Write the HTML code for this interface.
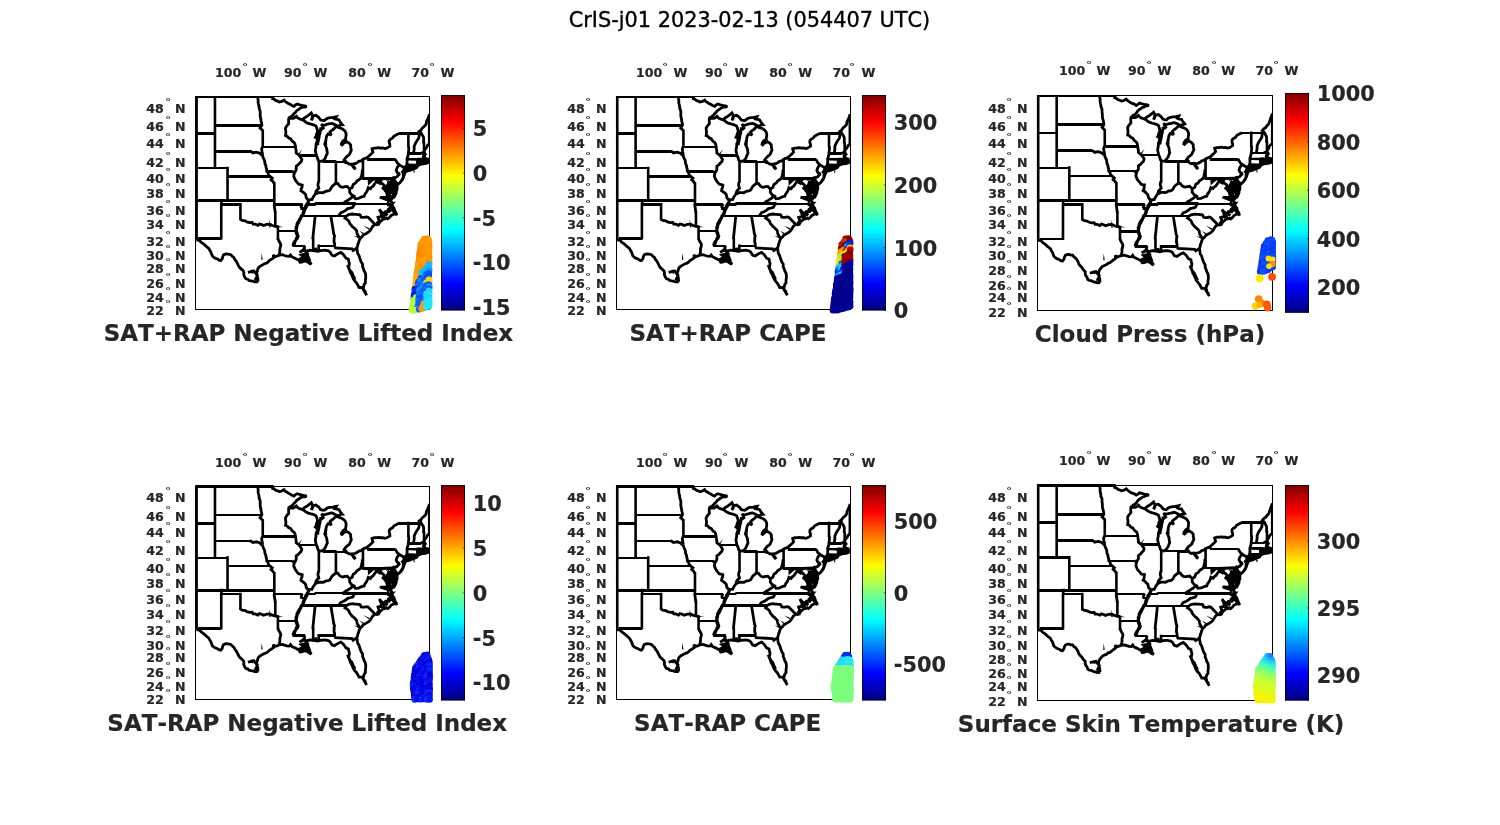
<!DOCTYPE html>
<html lang="en"><head><meta charset="utf-8"><title>CrIS-j01 2023-02-13 (054407 UTC)</title>
<style>
html,body{margin:0;padding:0;background:#fff;}
body{width:1500px;height:825px;overflow:hidden;}
svg{display:block;}
text{font-family:'DejaVu Sans','Liberation Sans',sans-serif;font-kerning:none;}
.b{font-weight:bold;fill:#262626;stroke:#262626;stroke-width:0.2;}
.tk{font-size:12.6px;}
.dg{font-size:10px;font-weight:bold;fill:#262626;}
.cb{font-size:20.83px;}
.xl{font-size:23px;}
.st{fill:none;stroke:#000;stroke-width:2.8;stroke-linejoin:miter;stroke-miterlimit:3;}
.h2{stroke-width:2;}
.h3{stroke-width:3;}
.sv{stroke-width:2.6;}
.nat{stroke-width:2.8;stroke-miterlimit:2.6;}
.sp{fill:none;stroke:#000;stroke-width:1;}
</style></head>
<body>
<svg width="1500" height="825" viewBox="0 0 1500 825">
<defs><linearGradient id="jet" x1="0" y1="1" x2="0" y2="0"><stop offset="0" stop-color="#000080"/><stop offset="0.125" stop-color="#0000ff"/><stop offset="0.375" stop-color="#00ffff"/><stop offset="0.625" stop-color="#ffff00"/><stop offset="0.875" stop-color="#ff0000"/><stop offset="1" stop-color="#800000"/></linearGradient></defs>
<rect width="1500" height="825" fill="#fff"/>
<text x="749.5" y="27" text-anchor="middle" font-size="20.83" fill="#000" stroke="#000" stroke-width="0.35">CrIS-j01 2023-02-13 (054407 UTC)</text>
<g id="panel1">
<rect class="sp" x="195.5" y="96.5" width="234" height="213"/>
<clipPath id="clip1"><rect x="194" y="95" width="236" height="215"/></clipPath>
<g clip-path="url(#clip1)"><path class="st h2" d="M196 97H273.7M196 168H227.74M277.32 231H296.17M292.48 246H305.23M300.84 216H346.93M317.83 246H334.98M355.06 204H392.41M262.16 147H295.86M335.31 162H344.73M392.68 189H397.57"/><path class="st h3" d="M196 133.5H215.16M214.36 125.5H262.27M214.36 151.5H250.06M226.94 176.5H270.13M196 200.5H274.47M198.19 238.5H221.38M220.96 204.5H240.63M273.67 204.5H302.59M300.4 208.5H305.42M305.88 204.5H315.8M315 203.5H343.28M342.48 203.5H355.86M266.44 171.5H292.65M298.7 155.5H317.37M322.73 161.5H336.11M362.36 178.5H392.91M367.14 159.5H395.68M398.97 133.5H419.89M408.02 153.5H421.15M406.58 159.5H418.01"/><path class="st sv" d="M196.6 96V239.6M214.96 96V169.04M227.54 166.64V201.43M221.56 199.03V205.35M221.25 202.95V239.61M240.43 202.95V220.35M277.92 225.62V239.61M274.27 199.03V205.35M275.31 211.5V227.34M313.17 237.95V251.74M318.74 244.59V252.25M274.33 182.25V201.43M262.76 129.54V147.79M318.87 160.77V182.62M335.91 160.77V184.65M362.96 158.41V179.6M392.99 177.2V189.82M408.37 132.13V147.36M417.62 158.07V166.36M424.03 142.13V153.87M429.2 114.1V144.5"/><path class="st nat" d="M249.66 150.91L251.36 151.7L252.81 152.88L254.67 152.37L256.58 152.11L259.73 153.31L261.62 155.02L262.56 155.28M221.36 204.15L221.11 204.15M196.4 240.04L199.16 240.04L198.59 238.41M240.23 219.15L242.12 220.37L245.26 220.9L246.83 221.89L249.66 222.65L252.18 222.5L253.12 224.17L255.33 224.17L257.84 225.31L259.41 223.94L261.62 224.55L263.5 225.53L266.65 224.4L269.79 224.17L272.31 225.53L274.95 226.14L277.72 226.82M277.72 238.41L279.04 241.37L280.07 242.95L280.8 244.69L280.45 246.73L279.86 248.72L279.91 250.55L279.73 252.36L278.91 255.27M199.16 240.04L201.23 242.33L203.22 243.63L205.01 245.2L206.84 246.84L208.78 248.35L209.6 250.07L210.67 251.64L211.48 253.8L212.24 255.99L213.66 257.06L215.07 258.16L217.41 258.96L219.47 260.32L220.73 260.46L222.3 258.52L222.7 256.63L223.56 254.9L225.76 254.03L228.31 254.15L230.79 254.76L232.26 256.32L233.94 257.65L234.79 259.51L236.14 261.04L237.27 263.17L238.34 265.33L239.45 267.36L241.17 268.9L243.38 271.03L243.89 272.77L243.69 274.57L244.57 276.79L245.89 278.79L247.7 279.18L249.13 280.48L250.92 280.89L252.88 281.15L254.7 281.94L256.43 281.92L258.16 281.87M258.16 281.87L257.64 280.01L257.84 278.09L256.91 275.7L256.58 273.15L257.32 271.06L257.84 268.9L258.84 267.25L260.36 266.05L262.87 264.62L264.54 263.76L266.35 263.2L267.91 262.11L269.24 260.56L271.05 259.6L273.57 257.8L273.25 254.9L274.82 256.71L276.92 256.13L278.91 255.27M274.07 204.15L275.27 212.7M302.19 204.15L300.8 208.05M278.91 255.27L280.62 254.87L282.37 254.76L284.56 255.5L286.78 256.13L289.29 256.35L290.55 254.9L291.81 256.71L293.38 257.45L294.95 258.16L297.47 259.6L300.61 259.6L302.5 259.24L303.76 258.16L305.32 259.25L306.9 260.32L308.48 260.32L306.9 257.44L305.65 255.27L307.53 253.82L306.9 252.73L305.02 252.36L305.96 251.78M304.83 245.79L304.07 248.35L305.96 251.78M305.96 251.78L307.53 250.91L310.05 250.18L313.19 250.54L315.08 250.91L315.71 247.99L316.34 250.18L317.28 251.27L318.86 251.05M314.45 215.86L315.08 216.55L312.75 239.15M330.81 215.78L333.45 231.93L333.78 234.12L334.58 236.18L334.09 237.88L334.15 239.64L333.95 241.37L334.57 243.54L334.58 245.79M334.58 245.79L335.46 247.99L352.13 248.94L353.14 250.47L356.91 247.91M318.86 250.91L320.74 250.54L322.94 250.33L325.14 250.18L328.29 250.91L330.18 252.22L331.04 253.79L332.06 255.27L334.58 255.99L336.43 254.66L338.35 253.45L340.87 252.36L343.39 254.54L344.7 256.31L345.9 258.16L348.42 259.24L348.72 261.25L349.36 263.19L349.13 265.38L348.42 267.47L349.68 270.32L350.3 272.45L351.53 274.5L352.51 276.68L353.36 278.92L354.71 280.89L356.6 282.99L357.46 284.49L358.28 286.01L359.11 287.52L361.63 287.52L363.51 287.17L364.14 284.39L365.4 282.99L365.34 280.53L365.72 278.09L365.72 275.27L365.3 273.01L364.14 271.03L363.48 268.85L362.57 266.76L362.57 264.26L361 261.75L360.43 259.93L359.74 258.16L359.13 255.84L357.85 253.82L357.45 252.01L357.22 250.18L356.91 247.91M356.91 247.91L357.55 246.16L357.85 244.32L358.64 242.53L359.11 240.63L360.37 238.12L361.86 237L362.88 235.44L364.72 234.23L366.66 233.2L368.72 231.92L370.43 230.2L371.69 227.95L372.95 226.06L375.15 224.47M346.53 215.78L344.96 218.08L346.4 219L347.79 219.99L349.04 221.53L349.68 223.41L350.99 224.88L352.19 226.44L354.08 227.95L355.36 229.24L356.6 230.58L356.88 232.27L357.22 233.95L358.24 235.58L359.11 237.3L360.37 238.12M346.53 215.78L348.61 214.66L350.93 214.24L352.66 214.02L354.36 214.35L356.07 214.37L357.77 214.63L359.49 214.63L360.18 215.01L361.12 217.16L362.86 217.43L364.61 217.46L366.37 216.93L368.11 217.31L375.15 224.47M375.15 224.47L376.89 224.83L378.61 224.4L379.87 221.89L381.47 220.59L383.01 219.22L384.96 218.86L386.79 218.08L387.86 218.84L389.72 217.3L391.19 215.39L394.15 214.01L394.52 211.15L393.49 208.88L392.76 206.5L392.01 203.76M338.86 215.78L339.75 214.17L340.87 212.7L342.48 212.13L344.01 211.39L345.95 210.06L347.79 208.6L349.99 208.05L352.82 207.27L353.86 205.17L355.46 203.45M315.4 204.15L315.4 202.74M289.92 117.6L288.73 118.43L288.57 120.22L288.64 122.02L288.73 123.81L287.46 125.08L286.37 126.47L285.52 128.05L285.55 129.84L285.85 131.62L285.83 133.42L285.52 135.64L287.36 136.4L288.68 138.01L290.55 138.73L291.5 140.17L292.57 141.51L294.09 142.47L294.95 143.98L295.46 146.59L295.76 148.74L296.15 150.88L296.21 153.05L297.65 154.14L299.1 155.19L300.52 157.29L301.87 159.44L301.24 161.55L299.36 163.49L297.96 165.04L296.21 166.17L296.21 169.5L295.48 171.36L294.32 172.98L293.69 176.11L294.64 178.57L295.48 180.12L296.43 181.59L297.56 182.94L298.73 184.26L300.5 184.5L302.19 185.07L302 187.25L301.18 188.89L300.93 190.7L302.65 191.85L304.28 193.12L305.65 194.69L306.27 197.86L308.48 200.23M308.48 200.23L308.02 202.32L306.9 204.15L305.6 205.93L305.02 208.05L303.74 210.24L303.13 212.7L302.5 214.78L301.24 215.78L300.59 217.84L299.36 219.61L298.46 221.1L297.55 222.58L296.84 224.17L296.78 225.91L295.91 227.51L296.13 229.3L295.58 230.95L296.23 232.82L296.84 234.69L297.47 236.18L296.38 238.01L295.64 240.04L294.32 241.74L293.41 243.7L292.88 245.79M308.48 200.23L310.15 199.63L311.94 199.68L313.19 197.07L314.28 195.47L315.4 193.89L317.03 193.37L318.54 192.54L320.9 192.54L323.26 192.7L324.79 191.81L326.4 191.1L328.23 190.95L329.86 190.14L331.01 188.32L332.06 186.44L333.85 184.9L335.71 183.45L337.73 183.45L339.61 185.88L341.06 186.85L342.76 187.25L344.94 186.72L347.16 186.44L348.38 187.73L349.68 188.94L352.19 187.49L352.75 185.85L353.45 184.26L355.02 183.45L356.28 182.07L356.91 181.01L358.87 179.82L360.68 178.4L361.5 175.53L362.07 173.21L362.26 170.83L362.76 170.83M262.56 155.28L262.95 157L263.6 158.64L264.48 160.21L264.76 161.97L265 163.92L265.89 165.67L266.04 167.51L266.67 169.29L266.65 171.16L267.99 172.62L268.39 174.65L269.73 176.11L272.31 178.16L271.05 179.79L272.87 181.41L274.2 183.45M257.65 96.5L257.88 98.4L258.19 100.29L258.08 102.23L258.47 104.11L259.01 106.29L259.17 108.57L260.04 110.67L260.24 112.82L260.12 114.99L260.36 117.14L260.86 119.08L261.03 121.08L261.61 123L261.87 124.98L261.02 126.55L260.04 128.05L261.44 129.27L262.56 130.74M262.56 146.59L261.62 149.18L261.95 151.21L262.38 153.22L262.56 155.28M292.25 171.16L294.2 172.98M318.67 181.42L318.14 183.22L317.91 185.07L318.86 188.29L317.33 189.8L316.02 191.5L315.4 193.89M335.71 161.47L335.71 161.97M367.54 157.15L367.54 159.44M395.28 159.44L396.25 161.11L397.17 162.81L399.37 164.83L397.96 166.43L396.85 168.25L396.22 170.33L397.37 172.58L399.05 174.46L396.85 176.93L394.96 177.75M399.37 164.83L404.4 167.84M349.68 188.94L349.68 192.3L351.56 194.85L353.64 195.96L352.18 197.21L350.64 198.36L349.05 199.44L347.57 200.52L345.82 201.18L344.48 202.48L342.88 203.37M353.64 195.96L355.34 198.65L358.48 198.33L360.32 197.5L362.16 196.7L364.14 196.28L364.94 194.12L366.34 192.3L367.51 190.11L368.23 187.73L370.43 188.7L371.54 187.15L373.14 186.12L374.25 184.43L375.5 182.83L376.41 181.01L377.96 182.23L379.68 183.21L380.37 181.67M369.3 178.4L369.13 180.52L369.24 182.64L371.69 180.44L373.83 178.98L375.78 179.38L377.35 178.73L379.55 179.38L380.37 181.67L381.75 183.45L383.29 184.53L384.59 185.88L383.01 188.29L384.9 189.9L387 191.29L389.3 192.3M391.19 201.01L389.3 200.23L388.92 198.25L389.3 196.28L389.23 194.29L389.3 192.3L388.67 189.9L388.74 187.44L388.04 185.07L388.67 181.83L391.19 179.79L390.56 181.01L389.85 183.02L389.3 185.07L389.7 187.47L389.93 189.9L390.86 191.51L391.82 193.1L391.97 195.22L391.84 197.34L391.5 199.44L392.69 197.51L393.71 195.48L394.61 193.87L395.59 192.3L396.61 190.6L397.17 188.7L396.98 185.88L396.22 183.73L394.96 181.83L394.02 179.38L394.96 177.75M392.01 203.76L391.19 201.01M394.96 177.75L393.71 177.42L392.51 178.4M394.02 179.38L394.96 181.01L396.4 182.77L398.11 184.26L399.84 182.79L401.25 181.01L402.14 179.35L403.14 177.75L403.27 175.26L403.77 172.82L402.51 171.99L403.77 170.33L404.4 167.84M403.77 171.16L405.99 171.3L408.17 170.91L409.93 170.52L411.51 169.65L413.2 169.09L415.26 168.18L417.29 167.25L414.46 166.59L412.58 168L410.68 167.92L408.8 168.25L406.99 168.32L405.34 169.09L403.77 171.16M404.4 167.84L405.91 167.84L408.1 167.28L410.06 166.17L411.94 165.8L413.83 165.58L415.53 165.33L417.23 165.16L419.5 164.75L420.12 161.97L421.38 163.65L421.89 163.65L424.53 161.97L424.84 163.23L426.88 162.7L428.93 162.22M428.93 159.86L425.78 161.13L425.16 159.44L423.27 156.89L423.9 154.34L425.16 153.91L423.9 152.02L424.53 150.22L425.55 148.77L426.66 147.38L427.36 145.72L428.93 144.42M405.91 167.84L407.04 166.17L406.6 165.33L406.97 163.24L407.1 161.14L406.98 159.02L407.56 157.05L408.14 155.09L408.42 153.05L408.55 151.33L408.71 149.61L408.79 147.88L408.49 146.16M399.37 133.42L397.45 134.24L395.59 135.19L393.79 136.24L392.63 138.05L390.75 139.02L389.3 140.48L389.16 142.41L389.81 144.26L389.93 146.16L388.36 147.18L386.74 148.11L384.9 148.58L382.84 148L380.7 148.03L378.61 147.72L376.41 148.01L374.16 148.04L372.01 148.67L372.38 150.46L372.95 152.2L371.66 153.5L370.28 154.72L368.99 156.01L367.54 157.15L366.02 158.11L364.27 158.64L362.76 159.61L361.08 160.94L358.89 161.34L357.19 162.64L355.34 163.65L353.25 164L351.16 164.18L349.05 164.07L347.62 162.99L345.84 162.62L344.33 161.72M419.5 133.33L419.14 135.58L418.87 137.84L417.99 139.35L417.01 140.8L416.04 142.24L415.01 144.38L414.15 146.59L414.25 148.84L413.88 151.03L413.46 153.22M420.75 153.48L423.9 152.02M417.61 159.27L420.25 159.27L420.25 160.28L421.89 163.65M423.67 143.33L423.59 141.11L423.72 138.88L423.33 136.67L421.95 134.53L420.67 132.33L419.33 131.33L421.03 130.03L422.15 128.15L423.81 126.81L425.33 125.33L426.25 123.65L426.36 121.66L427.33 120L428.29 117.88L429 115.67M273.33 96.67L272.67 98.67L274.45 99.47L276 100.67L277.74 101.15L279.33 102L281.81 101.33L284 100L285.09 101.44L286.67 102.33L288.26 103.46L290 104.33L291.91 105.51L294 106.33L295.47 104.88L297.33 104L299.63 104.78L302 105.33L304.34 105.81L306.67 106.33L305.09 107.13L303.27 107.11L301.56 107.47L300 108.33L298.39 109.59L296.67 110.67L295.49 112.35L293.91 113.7L292.67 115.33L290.64 116.9L288.33 118M288.33 118L290.82 118.35L293.33 118.33L294.92 117.47L296.33 116.33L297.46 117.74L299 118.67L302 119.8L303.76 120.42L305.14 121.66L306.67 122.67L308.38 123.43L310.17 123.96L312 124.33L314.04 125.06L316 126L316.75 127.97L317.33 130L317.67 133.33L316.71 135.46L315.33 137.33L317.33 138.67L317 142L316.67 145M326 145L325.33 142L325.84 140.01L326.18 137.99L326.67 136L328 134L329.78 134.37L331.33 135.33L330.56 133.71L330 132L331.53 130.5L333.33 129.33L334.87 127.69L336.67 126.33L338.22 127.39L340 128L342.09 128.82L344 130L345.21 131.54L346 133.33L346.11 135.35L345.75 137.33L345.67 139.33L344.02 140.11L342.67 141.33L342 143.33L344.45 142.83L346.67 141.67L349.33 143.33L350.67 145L350.75 147.53L351.33 150L350.33 152.33L349.33 154.67L347.6 155.92L346 157.33L344 160L346.67 162M302 119.67L303.55 118.66L305.04 117.55L306.67 116.67L309.33 114.67L311.33 113L312.67 115.67L312.06 118.02L311.33 120.33L312.5 118.3L313 116L316 115.33L318.67 117.33L320.67 120L324 120.67L325.69 119.53L327.33 118.33L329.07 117.78L330.86 117.62L332.67 117.67L334.46 117.02L336.33 116.67L335 119L337.03 119.38L339 120L340.67 122.67L342.33 124.67L340.58 124.77L339.08 125.87L337.33 126L335.59 125.04L333.82 124.13L332 123.33L330.19 123.51L328.44 123.96L326.67 124.33L324.72 125.04L322.67 125.33L321.33 124L322.48 125.93L323.33 128L321.61 129.26L320 130.67L318.67 133.33L317.84 134.93L317.33 136.67M320.67 127.33L320.73 129.36L320.23 131.33L320 133.33L319.33 135.28L319.13 137.34L318.67 139.33L318.24 141.21L317.86 143.09L317.67 145M317.33 140L317.06 141.82L316.18 143.49L316 145.33L315.97 147.14L315.49 148.88L315.33 150.67L315.84 153L316.33 155.33L317.41 157.58L318 160L320 161.67M326 140L325.68 142.11L324.67 144L325.79 146.28L326.67 148.67L327.06 150.99L327.33 153.33L326.19 155.61L325.33 158L323.33 160.67L321.64 161.08L320 161.67M350.67 163.67L351.86 165.06L352.99 166.5L353.99 168.06L355.33 169.33L354.41 167.45L352.85 166.03L351.67 164.33M384.67 190L386.27 191.82L387.33 194L388.84 192.84L390 191.33L391.33 193.33L392.67 195.33L394.17 194.43L395.45 193.25L396.67 192L395.75 193.76L395.02 195.62L394 197.33L392 197.03L390 196.67L388.05 197.31L386 197.33L384 197.51L382 197.37L380 197.33L382.01 197.98L383.99 198.68L386 199.33L387.73 199.92L389.57 199.64L391.33 200L389.83 200.91L388.86 202.45L387.33 203.33L389.11 203L390.89 203.39L392.67 203.33L391.04 205.14L390 207.33L391.96 207.89L394 208L394.49 209.9L395.26 211.69L396.27 213.4L396.67 215.33L395.53 213.41L393.77 211.95L392.67 210L390.87 209.97L389.14 209.31L387.33 209.33L388.86 210.47L390 212L388.27 211.39L386.42 211.78L384.67 211.33L386.02 213.32L387.33 215.33L385.64 214.27L383.78 213.55L382 212.67L382.61 214.58L383.63 216.3L384.67 218L379.33 209.33L380.11 211.13L381.04 212.87L381.37 214.82L382 216.67L379.97 216.8L378 217.33L378.55 219.05L379.33 220.67L378.15 222.15L376.67 223.33M299.33 252.33L301.1 251.49L302.67 250.33L304.77 250.7L306.67 251.67L305.33 254.33L303.3 254.46L301.33 255L304 257L306 256.68L308 256.33L308.69 257.99L309.33 259.67L307.33 259.77L305.33 259.67L303.41 258.76L301.33 258.33L298.67 259.67L300 262.33L301.85 262.16L303.57 261.52L305.33 261L306.95 261.63L308.42 262.5L309.75 263.66L311.33 264.33L310.38 262.9L309.33 261.52L309.16 259.65L308 258.33M362 287.33L366.67 295.33L365.65 293.47L365.14 291.36L363.63 289.72L363 287.67M248 272.33L250.01 271.91L251.95 271.24L254 271L254.96 272.46L256.13 273.74L257.33 275L256.65 277.06L255.67 279L257.28 279.84L258.67 281M347.33 265L348.46 266.94L349.33 269L350.25 270.9L351.78 272.42L352.67 274.33L353.27 276.14L354.35 277.76L354.67 279.67M309.23 200.23L308.38 202.16L307.66 204.15L306.87 206.18L305.77 208.05L304.6 210.28L303.88 212.7L303.26 214.78L302 215.78L301.05 217.69L300.11 219.61L299.31 221.15L298.65 222.77L297.59 224.17L297.12 225.84L296.87 227.54L296.42 229.21L296.34 230.95L297.13 232.77L297.59 234.69L298.22 236.18L297.48 238.21L296 239.82L295.08 241.74L294.52 243.82L293.63 245.79"/><path fill="#000" d="M383.57 189.05L384.46 186.46L386.24 184.43L388.19 182.43L390.19 180.4L391.76 177.98L394.43 178.4L395.7 180.4L397.31 182.81L397.65 184.21L396.59 186.63L396.21 190.66L395.15 193.88L393.92 196.72L392.14 198.55L391.42 201.13L392.48 206.18L386.96 206.18L387.51 201.94L385.9 199.14L384.46 197.53L385.9 195.49L385.52 193.08L383.95 190.28ZM376.36 177.51L392.05 176.88L386.96 181.12L382.3 180.69L378.48 182.6L376.36 180.91ZM395.45 172L399.69 172L400.53 174.54L397.14 177.94L395.02 176.66L397.57 174.54ZM400.96 172L406.9 172L405.2 176.24L403.5 180.48L400.53 183.45L399.26 181.75L402.23 178.36L402.65 174.54ZM407.81 158.24L429 158.02L429 163.75L426.47 164.81L419.69 165.87L417.99 167.99L413.75 169.69L409.08 170.75L404.42 172.65L402.51 171.81L402.72 169.26L404.21 165.87L406.96 163.75ZM413.11 170.53L414.81 170.53L414.17 173.5ZM423.5 151.87L426.47 153.99L425.62 156.96L429 158.02L422.23 158.24L423.93 156.12ZM340.33 142.33L342.33 141L344.33 142.33L344 145L342 146.67L340 145ZM315.33 132.67L319 130L320.67 132.67L319.33 138L316.33 138.67L314.67 136.67ZM379.33 208.33L383.87 212.17L382.79 213.16ZM377.33 216.33L379.7 221.1L378.3 221.57ZM363.33 225.67L369.69 228.36L368.98 229.64ZM359.33 230.67L363.77 233.08L362.89 234.25ZM353.67 235.87L358.89 236.77L358.44 238.17ZM396.67 215.67L392.72 211.07L393.94 210.26ZM379 197L386.17 197.95L385.83 199.38ZM261.67 253L262.73 259.63L261.27 259.7ZM246.67 271.67L253.48 272.28L253.19 273.72ZM269 219.33L270.73 227.24L269.27 227.42ZM283.33 227.33L276.56 227.06L276.78 225.61ZM302.33 149.33L299.27 155.08L298.06 154.25ZM311.33 264.33L307.35 260.13L308.65 259.2ZM378.48 197.45L383.99 196.6L383.99 198.29Z"/><path fill="#fff" d="M382.3 180.27L386.96 180.06L384.42 182.6ZM408.45 160.44L416.08 160.7L416.08 163.75L408.45 163.58ZM389.08 180.27L389.93 180.27L389.93 181.12L389.08 181.12ZM391.2 194.05L392.05 194.05L392.05 194.9L391.2 194.9ZM389.08 201.9L389.93 201.9L389.93 202.75L389.08 202.75Z"/></g>
<g><circle cx="424.4" cy="239.1" r="3.3" fill="#ff9400"/><circle cx="427.5" cy="238.5" r="3.3" fill="#ff9000"/><circle cx="422.7" cy="241.6" r="3.3" fill="#ff9a00"/><circle cx="425.2" cy="240.7" r="3.3" fill="#ff9a00"/><circle cx="428.3" cy="239.6" r="3.3" fill="#ff9400"/><circle cx="420.7" cy="244.5" r="3.3" fill="#ff9400"/><circle cx="423.8" cy="243.3" r="3.3" fill="#ffa200"/><circle cx="426.2" cy="242.3" r="3.3" fill="#ff9400"/><circle cx="428.9" cy="241.2" r="3.3" fill="#ffa200"/><circle cx="420.8" cy="247.1" r="3.3" fill="#ff9400"/><circle cx="423.6" cy="245.8" r="3.3" fill="#ff9400"/><circle cx="425.9" cy="244.4" r="3.3" fill="#ff9a00"/><circle cx="428.8" cy="243.1" r="3.3" fill="#ff9a00"/><circle cx="420.5" cy="249" r="3.3" fill="#ff9000"/><circle cx="423.3" cy="248.2" r="3.3" fill="#ff8c00"/><circle cx="425.8" cy="246.7" r="3.3" fill="#ff9a00"/><circle cx="429.1" cy="245.6" r="3.3" fill="#ff9a00"/><circle cx="420" cy="251.5" r="3.3" fill="#ff8c00"/><circle cx="423" cy="250" r="3.3" fill="#ff8c00"/><circle cx="426.3" cy="248.8" r="3.3" fill="#ff9a00"/><circle cx="429.2" cy="247.8" r="3.3" fill="#ff9000"/><circle cx="419.5" cy="253.9" r="3.3" fill="#ff8c00"/><circle cx="422.1" cy="252.7" r="3.3" fill="#ff8c00"/><circle cx="424.6" cy="251.6" r="3.3" fill="#ff9a00"/><circle cx="426.8" cy="250.9" r="3.3" fill="#ff9400"/><circle cx="428.7" cy="249.6" r="3.3" fill="#ff9a00"/><circle cx="419.5" cy="256.1" r="3.3" fill="#ff8400"/><circle cx="422" cy="254.9" r="3.3" fill="#ff8400"/><circle cx="424.3" cy="254" r="3.3" fill="#ff9a00"/><circle cx="426.5" cy="252.9" r="3.3" fill="#ff9a00"/><circle cx="429" cy="252.1" r="3.3" fill="#ff9a00"/><circle cx="419.2" cy="258" r="3.3" fill="#ff8c00"/><circle cx="421.7" cy="256.9" r="3.3" fill="#ff8400"/><circle cx="424.1" cy="256.2" r="3.3" fill="#ff9000"/><circle cx="426.8" cy="254.8" r="3.3" fill="#ff9000"/><circle cx="428.8" cy="254.2" r="3.3" fill="#ff9a00"/><circle cx="419" cy="260.7" r="3.3" fill="#ff9400"/><circle cx="421.1" cy="259.2" r="3.3" fill="#ff9a00"/><circle cx="423.6" cy="258" r="3.3" fill="#ff9000"/><circle cx="426.2" cy="257.2" r="3.3" fill="#ff9000"/><circle cx="428.9" cy="256.1" r="3.3" fill="#ff9400"/><circle cx="418.5" cy="262.9" r="3.3" fill="#ff9000"/><circle cx="420.9" cy="261.4" r="3.3" fill="#ff9000"/><circle cx="423.5" cy="260.8" r="3.3" fill="#ffa200"/><circle cx="426.6" cy="259.3" r="3.3" fill="#ffa200"/><circle cx="429.2" cy="258.1" r="3.3" fill="#ff9400"/><circle cx="418.4" cy="264.9" r="3.3" fill="#ffa200"/><circle cx="420.6" cy="264" r="3.3" fill="#ff9a00"/><circle cx="423.8" cy="263" r="3.3" fill="#ff9a00"/><circle cx="426.2" cy="261.5" r="3.3" fill="#ff9a00"/><circle cx="428.8" cy="260.5" r="3.3" fill="#ff9a00"/><circle cx="418" cy="267.4" r="3.3" fill="#ffa200"/><circle cx="420.5" cy="266.3" r="3.3" fill="#ff9a00"/><circle cx="423.6" cy="264.7" r="3.3" fill="#ff9a00"/><circle cx="425.9" cy="263.8" r="3.3" fill="#ffa200"/><circle cx="429.2" cy="262.6" r="3.3" fill="#ff9400"/><circle cx="417.8" cy="269.2" r="3.3" fill="#ff9a00"/><circle cx="420.5" cy="268.3" r="3.3" fill="#ff9400"/><circle cx="423.2" cy="267.2" r="3.3" fill="#ff9400"/><circle cx="426" cy="265.7" r="3.3" fill="#ff9a00"/><circle cx="429" cy="264.6" r="3.3" fill="#14bcff"/><circle cx="417.3" cy="271.5" r="3.3" fill="#ff9a00"/><circle cx="419.8" cy="270.8" r="3.3" fill="#ffa200"/><circle cx="421.7" cy="269.6" r="3.3" fill="#ff9a00"/><circle cx="424.1" cy="268.7" r="3.3" fill="#ff9000"/><circle cx="426.6" cy="267.7" r="3.3" fill="#1fb4ff"/><circle cx="428.7" cy="267.1" r="3.3" fill="#14bcff"/><circle cx="416.7" cy="273.8" r="3.3" fill="#ff9a00"/><circle cx="419.5" cy="272.9" r="3.3" fill="#ff9a00"/><circle cx="421.8" cy="272.2" r="3.3" fill="#00c8ff"/><circle cx="424" cy="271.2" r="3.3" fill="#00c8ff"/><circle cx="426.4" cy="270.3" r="3.3" fill="#14bcff"/><circle cx="429.1" cy="269.1" r="3.3" fill="#14bcff"/><circle cx="416.9" cy="276" r="3.3" fill="#ffb400"/><circle cx="419.4" cy="275.1" r="3.3" fill="#ff9a00"/><circle cx="421.8" cy="274.5" r="3.3" fill="#00c8ff"/><circle cx="423.8" cy="272.9" r="3.3" fill="#1fb4ff"/><circle cx="426.6" cy="272" r="3.3" fill="#1fb4ff"/><circle cx="429.1" cy="271.1" r="3.3" fill="#1e8cff"/><circle cx="416.2" cy="278.1" r="3.3" fill="#ff9a00"/><circle cx="419.1" cy="277.5" r="3.3" fill="#ffa800"/><circle cx="421.5" cy="276.4" r="3.3" fill="#1fb4ff"/><circle cx="424.1" cy="275.1" r="3.3" fill="#00c8ff"/><circle cx="426.4" cy="274.5" r="3.3" fill="#0a5cff"/><circle cx="428.8" cy="273.6" r="3.3" fill="#0a5cff"/><circle cx="416.1" cy="280.4" r="3.3" fill="#ffb400"/><circle cx="418.9" cy="279.7" r="3.3" fill="#ff9a00"/><circle cx="421" cy="278.4" r="3.3" fill="#0a48ff"/><circle cx="423.9" cy="277.7" r="3.3" fill="#1478ff"/><circle cx="426.7" cy="276.7" r="3.3" fill="#0a5cff"/><circle cx="428.8" cy="275.7" r="3.3" fill="#0a48ff"/><circle cx="415.6" cy="282.9" r="3.3" fill="#ffb800"/><circle cx="418.4" cy="282" r="3.3" fill="#0a5cff"/><circle cx="420.9" cy="280.8" r="3.3" fill="#1e8cff"/><circle cx="423.8" cy="280" r="3.3" fill="#0a5cff"/><circle cx="426.6" cy="278.8" r="3.3" fill="#0a48ff"/><circle cx="428.7" cy="277.8" r="3.3" fill="#0a5cff"/><circle cx="415.8" cy="284.8" r="3.3" fill="#ffb800"/><circle cx="418.1" cy="283.8" r="3.3" fill="#0a48ff"/><circle cx="420.7" cy="282.9" r="3.3" fill="#1e8cff"/><circle cx="423.4" cy="281.7" r="3.3" fill="#0a48ff"/><circle cx="426.1" cy="281" r="3.3" fill="#1478ff"/><circle cx="429.1" cy="279.8" r="3.3" fill="#ffd800"/><circle cx="414.9" cy="287.4" r="3.3" fill="#ffb800"/><circle cx="417.9" cy="286" r="3.3" fill="#1478ff"/><circle cx="420.6" cy="284.9" r="3.3" fill="#0a5cff"/><circle cx="423.2" cy="284.2" r="3.3" fill="#1478ff"/><circle cx="426.4" cy="283.1" r="3.3" fill="#ffd800"/><circle cx="429.2" cy="282.2" r="3.3" fill="#ffd800"/><circle cx="414.9" cy="289.3" r="3.3" fill="#0010d8"/><circle cx="417.9" cy="288.5" r="3.3" fill="#0a30f0"/><circle cx="420.5" cy="287.3" r="3.3" fill="#0a5cff"/><circle cx="423.2" cy="286.4" r="3.3" fill="#1478ff"/><circle cx="426.2" cy="285.2" r="3.3" fill="#1478ff"/><circle cx="428.7" cy="284.5" r="3.3" fill="#0a5cff"/><circle cx="414.8" cy="291.4" r="3.3" fill="#0a30f0"/><circle cx="416.9" cy="290.5" r="3.3" fill="#0a30f0"/><circle cx="419.4" cy="290" r="3.3" fill="#1e8cff"/><circle cx="421.9" cy="289.1" r="3.3" fill="#1e8cff"/><circle cx="424.3" cy="288.2" r="3.3" fill="#1478ff"/><circle cx="426.5" cy="287.2" r="3.3" fill="#0a5cff"/><circle cx="429.3" cy="286.6" r="3.3" fill="#1e8cff"/><circle cx="414.5" cy="294" r="3.3" fill="#0a30f0"/><circle cx="416.8" cy="293.2" r="3.3" fill="#0a30f0"/><circle cx="419.2" cy="292.3" r="3.3" fill="#1e8cff"/><circle cx="421.7" cy="291.5" r="3.3" fill="#1478ff"/><circle cx="424.1" cy="290.5" r="3.3" fill="#0a5cff"/><circle cx="426.4" cy="289.4" r="3.3" fill="#1478ff"/><circle cx="429.1" cy="289" r="3.3" fill="#0a50ff"/><circle cx="414" cy="295.9" r="3.3" fill="#0818e0"/><circle cx="416.3" cy="295.1" r="3.3" fill="#0010d8"/><circle cx="418.9" cy="294.6" r="3.3" fill="#1478ff"/><circle cx="421.7" cy="293.5" r="3.3" fill="#0a50ff"/><circle cx="424.2" cy="292.8" r="3.3" fill="#1060ff"/><circle cx="426.2" cy="291.8" r="3.3" fill="#0a50ff"/><circle cx="428.9" cy="290.7" r="3.3" fill="#28d0ff"/><circle cx="413.9" cy="298.4" r="3.3" fill="#0a30f0"/><circle cx="416.3" cy="297.4" r="3.3" fill="#b4ff3c"/><circle cx="418.8" cy="296.4" r="3.3" fill="#1060ff"/><circle cx="421.2" cy="295.4" r="3.3" fill="#1478ff"/><circle cx="424.1" cy="295" r="3.3" fill="#1060ff"/><circle cx="426.5" cy="293.9" r="3.3" fill="#1ee6ff"/><circle cx="429.2" cy="293.4" r="3.3" fill="#28d0ff"/><circle cx="413.3" cy="300.4" r="3.3" fill="#a8ff48"/><circle cx="415.9" cy="299.6" r="3.3" fill="#b4ff3c"/><circle cx="418.6" cy="298.8" r="3.3" fill="#0a50ff"/><circle cx="420.9" cy="298" r="3.3" fill="#0a50ff"/><circle cx="423.8" cy="297" r="3.3" fill="#0a50ff"/><circle cx="426.1" cy="296" r="3.3" fill="#28d0ff"/><circle cx="428.9" cy="295.4" r="3.3" fill="#1ee6ff"/><circle cx="413.3" cy="302.6" r="3.3" fill="#b4ff3c"/><circle cx="415.9" cy="301.7" r="3.3" fill="#a8ff48"/><circle cx="418.3" cy="300.8" r="3.3" fill="#1478ff"/><circle cx="420.9" cy="300.3" r="3.3" fill="#0a50ff"/><circle cx="423.6" cy="299.3" r="3.3" fill="#1060ff"/><circle cx="426.3" cy="298.6" r="3.3" fill="#28d0ff"/><circle cx="428.9" cy="297.6" r="3.3" fill="#28d0ff"/><circle cx="412.9" cy="304.9" r="3.3" fill="#a8ff48"/><circle cx="415.2" cy="303.9" r="3.3" fill="#b4ff3c"/><circle cx="418.4" cy="303.4" r="3.3" fill="#1060ff"/><circle cx="420.7" cy="302" r="3.3" fill="#1060ff"/><circle cx="423.4" cy="301.7" r="3.3" fill="#1060ff"/><circle cx="426.5" cy="300.8" r="3.3" fill="#28d0ff"/><circle cx="429.2" cy="300" r="3.3" fill="#1ee6ff"/><circle cx="412.7" cy="307.2" r="3.3" fill="#a8ff48"/><circle cx="415.3" cy="306.3" r="3.3" fill="#b4ff3c"/><circle cx="418.2" cy="305.5" r="3.3" fill="#1060ff"/><circle cx="420.6" cy="304.4" r="3.3" fill="#1060ff"/><circle cx="423.8" cy="303.5" r="3.3" fill="#ff9a00"/><circle cx="426.3" cy="303.1" r="3.3" fill="#1ee6ff"/><circle cx="428.9" cy="301.8" r="3.3" fill="#1ee6ff"/><circle cx="412.1" cy="309.2" r="3.3" fill="#b4ff3c"/><circle cx="415.1" cy="308.2" r="3.3" fill="#a8ff48"/><circle cx="417.6" cy="307.5" r="3.3" fill="#1060ff"/><circle cx="420.4" cy="306.6" r="3.3" fill="#1060ff"/><circle cx="423.2" cy="305.9" r="3.3" fill="#ff9a00"/><circle cx="426.3" cy="304.9" r="3.3" fill="#1ee6ff"/><circle cx="429.3" cy="304.1" r="3.3" fill="#1ee6ff"/><circle cx="412.1" cy="310.3" r="3.3" fill="#b4ff3c"/><circle cx="414.4" cy="310.3" r="3.3" fill="#b4ff3c"/><circle cx="417.1" cy="309.7" r="3.3" fill="#b4ff3c"/><circle cx="419.2" cy="309.2" r="3.3" fill="#1060ff"/><circle cx="421.6" cy="308.7" r="3.3" fill="#ff9a00"/><circle cx="424.1" cy="308" r="3.3" fill="#ff9a00"/><circle cx="426.3" cy="307.1" r="3.3" fill="#1ee6ff"/><circle cx="428.9" cy="306.2" r="3.3" fill="#1ee6ff"/></g>
<text class="b tk" y="76.7"><tspan x="214.9">100</tspan><tspan x="252.5">W</tspan></text><text class="dg" transform="translate(241.93 69.7) scale(1.23 0.89)">°</text>
<text class="b tk" y="76.7"><tspan x="284.1">90</tspan><tspan x="313.4">W</tspan></text><text class="dg" transform="translate(301.93 69.7) scale(1.23 0.89)">°</text>
<text class="b tk" y="76.7"><tspan x="348.3">80</tspan><tspan x="377.3">W</tspan></text><text class="dg" transform="translate(366.93 69.7) scale(1.23 0.89)">°</text>
<text class="b tk" y="76.7"><tspan x="411.4">70</tspan><tspan x="440.6">W</tspan></text><text class="dg" transform="translate(428.93 69.7) scale(1.23 0.89)">°</text>
<text class="b tk" y="112.9"><tspan x="146.2">48</tspan><tspan x="174.9">N</tspan></text><text class="dg" transform="translate(164.93 104.9) scale(1.23 0.89)">°</text>
<text class="b tk" y="130.9"><tspan x="146.2">46</tspan><tspan x="174.9">N</tspan></text><text class="dg" transform="translate(164.93 122.9) scale(1.23 0.89)">°</text>
<text class="b tk" y="147.7"><tspan x="146.2">44</tspan><tspan x="174.9">N</tspan></text><text class="dg" transform="translate(164.93 139.7) scale(1.23 0.89)">°</text>
<text class="b tk" y="166.8"><tspan x="146.2">42</tspan><tspan x="174.9">N</tspan></text><text class="dg" transform="translate(164.93 158.8) scale(1.23 0.89)">°</text>
<text class="b tk" y="182.8"><tspan x="146.2">40</tspan><tspan x="174.9">N</tspan></text><text class="dg" transform="translate(164.93 174.8) scale(1.23 0.89)">°</text>
<text class="b tk" y="197.9"><tspan x="146.2">38</tspan><tspan x="174.9">N</tspan></text><text class="dg" transform="translate(164.93 189.9) scale(1.23 0.89)">°</text>
<text class="b tk" y="214.7"><tspan x="146.2">36</tspan><tspan x="174.9">N</tspan></text><text class="dg" transform="translate(164.93 206.7) scale(1.23 0.89)">°</text>
<text class="b tk" y="228.8"><tspan x="146.2">34</tspan><tspan x="174.9">N</tspan></text><text class="dg" transform="translate(164.93 220.8) scale(1.23 0.89)">°</text>
<text class="b tk" y="245.9"><tspan x="146.2">32</tspan><tspan x="174.9">N</tspan></text><text class="dg" transform="translate(164.93 237.9) scale(1.23 0.89)">°</text>
<text class="b tk" y="259.9"><tspan x="146.2">30</tspan><tspan x="174.9">N</tspan></text><text class="dg" transform="translate(164.93 251.9) scale(1.23 0.89)">°</text>
<text class="b tk" y="272.9"><tspan x="146.2">28</tspan><tspan x="174.9">N</tspan></text><text class="dg" transform="translate(164.93 264.9) scale(1.23 0.89)">°</text>
<text class="b tk" y="287.9"><tspan x="146.2">26</tspan><tspan x="174.9">N</tspan></text><text class="dg" transform="translate(164.93 279.9) scale(1.23 0.89)">°</text>
<text class="b tk" y="301.9"><tspan x="146.2">24</tspan><tspan x="174.9">N</tspan></text><text class="dg" transform="translate(164.93 293.9) scale(1.23 0.89)">°</text>
<text class="b tk" y="314.9"><tspan x="146.2">22</tspan><tspan x="174.9">N</tspan></text><text class="dg" transform="translate(164.93 306.9) scale(1.23 0.89)">°</text>
<rect x="441" y="95.1" width="24" height="215.3" fill="url(#jet)"/>
<path d="M441.5 95.1V310.4M464.5 95.1V310.4M441 95.6H465M441 309.9H465" fill="none" stroke="#000" stroke-opacity="0.8" stroke-width="1"/>
<path d="M465 128.35h-2.2" stroke="#000" stroke-opacity="0.7" stroke-width="0.7"/><text class="b cb" x="472.8" y="136.35">5</text>
<path d="M465 173.03h-2.2" stroke="#000" stroke-opacity="0.7" stroke-width="0.7"/><text class="b cb" x="472.8" y="181.03">0</text>
<path d="M465 217.72h-2.2" stroke="#000" stroke-opacity="0.7" stroke-width="0.7"/><text class="b cb" x="472.8" y="225.72">-5</text>
<path d="M465 262.41h-2.2" stroke="#000" stroke-opacity="0.7" stroke-width="0.7"/><text class="b cb" x="472.8" y="270.41">-10</text>
<path d="M465 307.09h-2.2" stroke="#000" stroke-opacity="0.7" stroke-width="0.7"/><text class="b cb" x="472.8" y="315.09">-15</text>
<text class="b xl" x="308.4" y="340.9" text-anchor="middle">SAT+RAP Negative Lifted Index</text>
</g>
<g id="panel2">
<rect class="sp" x="616.5" y="96.5" width="234" height="213"/>
<clipPath id="clip2"><rect x="615" y="95" width="236" height="215"/></clipPath>
<g clip-path="url(#clip2)"><path class="st h2" d="M616.65 97H694.35M616.65 168H648.39M697.97 231H716.82M713.13 246H725.88M721.49 216H767.58M738.48 246H755.63M775.71 204H813.06M682.81 147H716.51M755.96 162H765.38M813.33 189H818.22"/><path class="st h3" d="M616.65 133.5H635.81M635.01 125.5H682.92M635.01 151.5H670.72M647.59 176.5H690.78M616.65 200.5H695.12M618.84 238.5H642.03M641.61 204.5H661.28M694.32 204.5H723.24M721.05 208.5H726.07M726.52 204.5H736.45M735.65 203.5H763.93M763.13 203.5H776.51M687.09 171.5H713.3M719.35 155.5H738.02M743.38 161.5H756.76M783.01 178.5H813.56M787.79 159.5H816.33M819.62 133.5H840.54M828.67 153.5H841.8M827.23 159.5H838.66"/><path class="st sv" d="M617.25 96V239.6M635.61 96V169.04M648.19 166.64V201.43M642.21 199.03V205.35M641.9 202.95V239.61M661.08 202.95V220.35M698.57 225.62V239.61M694.92 199.03V205.35M695.96 211.5V227.34M733.82 237.95V251.74M739.39 244.59V252.25M694.98 182.25V201.43M683.41 129.54V147.79M739.52 160.77V182.62M756.56 160.77V184.65M783.61 158.41V179.6M813.64 177.2V189.82M829.02 132.13V147.36M838.27 158.07V166.36M844.68 142.13V153.87M849.85 114.1V144.5"/><path class="st nat" d="M670.32 150.91L672.01 151.7L673.46 152.88L675.32 152.37L677.23 152.11L680.38 153.31L682.27 155.02L683.21 155.28M642.01 204.15L641.76 204.15M617.05 240.04L619.81 240.04L619.24 238.41M660.88 219.15L662.77 220.37L665.91 220.9L667.48 221.89L670.32 222.65L672.83 222.5L673.77 224.17L675.98 224.17L678.49 225.31L680.06 223.94L682.27 224.55L684.15 225.53L687.3 224.4L690.44 224.17L692.96 225.53L695.6 226.14L698.37 226.82M698.37 238.41L699.69 241.37L700.72 242.95L701.45 244.69L701.1 246.73L700.51 248.72L700.56 250.55L700.38 252.36L699.56 255.27M619.81 240.04L621.88 242.33L623.87 243.63L625.66 245.2L627.49 246.84L629.43 248.35L630.25 250.07L631.32 251.64L632.13 253.8L632.89 255.99L634.31 257.06L635.72 258.16L638.06 258.96L640.12 260.32L641.38 260.46L642.95 258.52L643.35 256.63L644.21 254.9L646.41 254.03L648.96 254.15L651.45 254.76L652.91 256.32L654.59 257.65L655.44 259.51L656.79 261.04L657.92 263.17L658.99 265.33L660.1 267.36L661.82 268.9L664.03 271.03L664.54 272.77L664.34 274.57L665.22 276.79L666.54 278.79L668.35 279.18L669.78 280.48L671.57 280.89L673.53 281.15L675.35 281.94L677.08 281.92L678.81 281.87M678.81 281.87L678.29 280.01L678.49 278.09L677.56 275.7L677.23 273.15L677.97 271.06L678.49 268.9L679.49 267.25L681.01 266.05L683.52 264.62L685.19 263.76L687 263.2L688.56 262.11L689.89 260.56L691.7 259.6L694.22 257.8L693.9 254.9L695.48 256.71L697.57 256.13L699.56 255.27M694.72 204.15L695.92 212.7M722.84 204.15L721.45 208.05M699.56 255.27L701.27 254.87L703.02 254.76L705.21 255.5L707.43 256.13L709.94 256.35L711.2 254.9L712.46 256.71L714.03 257.45L715.6 258.16L718.12 259.6L721.26 259.6L723.15 259.24L724.41 258.16L725.97 259.25L727.55 260.32L729.13 260.32L727.55 257.44L726.3 255.27L728.18 253.82L727.55 252.73L725.67 252.36L726.61 251.78M725.48 245.79L724.72 248.35L726.61 251.78M726.61 251.78L728.18 250.91L730.7 250.18L733.84 250.54L735.73 250.91L736.36 247.99L736.99 250.18L737.93 251.27L739.51 251.05M735.1 215.86L735.73 216.55L733.4 239.15M751.46 215.78L754.1 231.93L754.43 234.12L755.23 236.18L754.74 237.88L754.8 239.64L754.6 241.37L755.22 243.54L755.23 245.79M755.23 245.79L756.11 247.99L772.78 248.94L773.79 250.47L777.56 247.91M739.51 250.91L741.39 250.54L743.59 250.33L745.8 250.18L748.94 250.91L750.83 252.22L751.69 253.79L752.71 255.27L755.23 255.99L757.08 254.66L759 253.45L761.52 252.36L764.04 254.54L765.35 256.31L766.55 258.16L769.07 259.24L769.37 261.25L770.01 263.19L769.78 265.38L769.07 267.47L770.33 270.32L770.95 272.45L772.18 274.5L773.16 276.68L774.01 278.92L775.36 280.89L777.25 282.99L778.11 284.49L778.93 286.01L779.76 287.52L782.28 287.52L784.16 287.17L784.79 284.39L786.05 282.99L785.99 280.53L786.37 278.09L786.37 275.27L785.95 273.01L784.79 271.03L784.13 268.85L783.22 266.76L783.22 264.26L781.65 261.75L781.08 259.93L780.39 258.16L779.78 255.84L778.5 253.82L778.1 252.01L777.87 250.18L777.56 247.91M777.56 247.91L778.2 246.16L778.5 244.32L779.29 242.53L779.76 240.63L781.02 238.12L782.51 237L783.54 235.44L785.37 234.23L787.31 233.2L789.37 231.92L791.08 230.2L792.34 227.95L793.6 226.06L795.8 224.47M767.18 215.78L765.61 218.08L767.05 219L768.44 219.99L769.69 221.53L770.33 223.41L771.64 224.88L772.84 226.44L774.73 227.95L776.01 229.24L777.25 230.58L777.53 232.27L777.87 233.95L778.89 235.58L779.76 237.3L781.02 238.12M767.18 215.78L769.26 214.66L771.58 214.24L773.31 214.02L775.01 214.35L776.72 214.37L778.42 214.63L780.14 214.63L780.83 215.01L781.77 217.16L783.51 217.43L785.26 217.46L787.02 216.93L788.76 217.31L795.8 224.47M795.8 224.47L797.54 224.83L799.26 224.4L800.52 221.89L802.12 220.59L803.66 219.22L805.61 218.86L807.44 218.08L808.51 218.84L810.37 217.3L811.84 215.39L814.8 214.01L815.17 211.15L814.14 208.88L813.41 206.5L812.66 203.76M759.51 215.78L760.4 214.17L761.52 212.7L763.13 212.13L764.66 211.39L766.6 210.06L768.44 208.6L770.64 208.05L773.47 207.27L774.51 205.17L776.11 203.45M736.05 204.15L736.05 202.74M710.57 117.6L709.38 118.43L709.22 120.22L709.29 122.02L709.38 123.81L708.11 125.08L707.02 126.47L706.17 128.05L706.2 129.84L706.5 131.62L706.48 133.42L706.17 135.64L708.01 136.4L709.33 138.01L711.2 138.73L712.15 140.17L713.22 141.51L714.74 142.47L715.6 143.98L716.11 146.59L716.41 148.74L716.8 150.88L716.86 153.05L718.3 154.14L719.75 155.19L721.17 157.29L722.52 159.44L721.89 161.55L720.01 163.49L718.61 165.04L716.86 166.17L716.86 169.5L716.13 171.36L714.97 172.98L714.35 176.11L715.29 178.57L716.13 180.12L717.08 181.59L718.21 182.94L719.38 184.26L721.15 184.5L722.84 185.07L722.65 187.25L721.83 188.89L721.58 190.7L723.3 191.85L724.93 193.12L726.3 194.69L726.92 197.86L729.13 200.23M729.13 200.23L728.67 202.32L727.55 204.15L726.25 205.93L725.67 208.05L724.39 210.24L723.78 212.7L723.15 214.78L721.89 215.78L721.24 217.84L720.01 219.61L719.11 221.1L718.2 222.58L717.49 224.17L717.43 225.91L716.56 227.51L716.78 229.3L716.23 230.95L716.88 232.82L717.49 234.69L718.12 236.18L717.03 238.01L716.29 240.04L714.97 241.74L714.06 243.7L713.53 245.79M729.13 200.23L730.8 199.63L732.59 199.68L733.84 197.07L734.93 195.47L736.05 193.89L737.68 193.37L739.19 192.54L741.55 192.54L743.91 192.7L745.44 191.81L747.05 191.1L748.88 190.95L750.51 190.14L751.66 188.32L752.71 186.44L754.5 184.9L756.36 183.45L758.38 183.45L760.26 185.88L761.71 186.85L763.41 187.25L765.59 186.72L767.81 186.44L769.03 187.73L770.33 188.94L772.84 187.49L773.4 185.85L774.1 184.26L775.67 183.45L776.93 182.07L777.56 181.01L779.52 179.82L781.33 178.4L782.15 175.53L782.72 173.21L782.91 170.83L783.41 170.83M683.21 155.28L683.6 157L684.25 158.64L685.13 160.21L685.41 161.97L685.65 163.92L686.54 165.67L686.69 167.51L687.32 169.29L687.3 171.16L688.64 172.62L689.04 174.65L690.38 176.11L692.96 178.16L691.7 179.79L693.52 181.41L694.85 183.45M678.3 96.5L678.53 98.4L678.84 100.29L678.73 102.23L679.12 104.11L679.66 106.29L679.82 108.57L680.69 110.67L680.89 112.82L680.77 114.99L681.01 117.14L681.51 119.08L681.68 121.08L682.26 123L682.52 124.98L681.67 126.55L680.69 128.05L682.09 129.27L683.21 130.74M683.21 146.59L682.27 149.18L682.6 151.21L683.03 153.22L683.21 155.28M712.9 171.16L714.85 172.98M739.32 181.42L738.79 183.22L738.56 185.07L739.51 188.29L737.98 189.8L736.67 191.5L736.05 193.89M756.36 161.47L756.36 161.97M788.19 157.15L788.19 159.44M815.93 159.44L816.9 161.11L817.82 162.81L820.02 164.83L818.61 166.43L817.5 168.25L816.87 170.33L818.02 172.58L819.7 174.46L817.5 176.93L815.61 177.75M820.02 164.83L825.05 167.84M770.33 188.94L770.33 192.3L772.21 194.85L774.29 195.96L772.83 197.21L771.29 198.36L769.7 199.44L768.22 200.52L766.47 201.18L765.13 202.48L763.53 203.37M774.29 195.96L775.99 198.65L779.13 198.33L780.97 197.5L782.81 196.7L784.79 196.28L785.59 194.12L786.99 192.3L788.16 190.11L788.88 187.73L791.08 188.7L792.19 187.15L793.79 186.12L794.9 184.43L796.15 182.83L797.06 181.01L798.61 182.23L800.33 183.21L801.02 181.67M789.95 178.4L789.78 180.52L789.89 182.64L792.34 180.44L794.48 178.98L796.43 179.38L798 178.73L800.2 179.38L801.02 181.67L802.4 183.45L803.94 184.53L805.24 185.88L803.66 188.29L805.55 189.9L807.65 191.29L809.95 192.3M811.84 201.01L809.95 200.23L809.57 198.25L809.95 196.28L809.88 194.29L809.95 192.3L809.32 189.9L809.39 187.44L808.69 185.07L809.32 181.83L811.84 179.79L811.21 181.01L810.5 183.02L809.95 185.07L810.35 187.47L810.58 189.9L811.51 191.51L812.47 193.1L812.62 195.22L812.49 197.34L812.15 199.44L813.34 197.51L814.36 195.48L815.26 193.87L816.24 192.3L817.26 190.6L817.82 188.7L817.63 185.88L816.87 183.73L815.61 181.83L814.67 179.38L815.61 177.75M812.66 203.76L811.84 201.01M815.61 177.75L814.36 177.42L813.16 178.4M814.67 179.38L815.61 181.01L817.05 182.77L818.76 184.26L820.49 182.79L821.9 181.01L822.79 179.35L823.79 177.75L823.92 175.26L824.42 172.82L823.16 171.99L824.42 170.33L825.05 167.84M824.42 171.16L826.64 171.3L828.82 170.91L830.58 170.52L832.16 169.65L833.86 169.09L835.91 168.18L837.94 167.25L835.11 166.59L833.23 168L831.33 167.92L829.45 168.25L827.64 168.32L825.99 169.09L824.42 171.16M825.05 167.84L826.56 167.84L828.75 167.28L830.71 166.17L832.59 165.8L834.48 165.58L836.18 165.33L837.88 165.16L840.14 164.75L840.77 161.97L842.03 163.65L842.54 163.65L845.18 161.97L845.49 163.23L847.53 162.7L849.58 162.22M849.58 159.86L846.43 161.13L845.81 159.44L843.92 156.89L844.55 154.34L845.81 153.91L844.55 152.02L845.18 150.22L846.2 148.77L847.31 147.38L848.01 145.72L849.58 144.42M826.56 167.84L827.69 166.17L827.25 165.33L827.62 163.24L827.75 161.14L827.63 159.02L828.21 157.05L828.79 155.09L829.07 153.05L829.2 151.33L829.36 149.61L829.44 147.88L829.14 146.16M820.02 133.42L818.1 134.24L816.24 135.19L814.44 136.24L813.28 138.05L811.4 139.02L809.95 140.48L809.81 142.41L810.46 144.26L810.58 146.16L809.01 147.18L807.39 148.11L805.55 148.58L803.49 148L801.35 148.03L799.26 147.72L797.06 148.01L794.81 148.04L792.66 148.67L793.03 150.46L793.6 152.2L792.31 153.5L790.93 154.72L789.64 156.01L788.19 157.15L786.67 158.11L784.92 158.64L783.41 159.61L781.73 160.94L779.54 161.34L777.84 162.64L775.99 163.65L773.9 164L771.81 164.18L769.7 164.07L768.27 162.99L766.49 162.62L764.98 161.72M840.14 133.33L839.79 135.58L839.52 137.84L838.64 139.35L837.66 140.8L836.69 142.24L835.66 144.38L834.8 146.59L834.9 148.84L834.53 151.03L834.11 153.22M841.4 153.48L844.55 152.02M838.26 159.27L840.9 159.27L840.9 160.28L842.54 163.65M844.32 143.33L844.24 141.11L844.37 138.88L843.98 136.67L842.6 134.53L841.32 132.33L839.98 131.33L841.68 130.03L842.8 128.15L844.46 126.81L845.98 125.33L846.9 123.65L847.01 121.66L847.98 120L848.94 117.88L849.65 115.67M693.98 96.67L693.32 98.67L695.1 99.47L696.65 100.67L698.39 101.15L699.98 102L702.46 101.33L704.65 100L705.74 101.44L707.32 102.33L708.91 103.46L710.65 104.33L712.56 105.51L714.65 106.33L716.12 104.88L717.98 104L720.28 104.78L722.65 105.33L724.99 105.81L727.32 106.33L725.74 107.13L723.92 107.11L722.21 107.47L720.65 108.33L719.04 109.59L717.32 110.67L716.14 112.35L714.56 113.7L713.32 115.33L711.29 116.9L708.98 118M708.98 118L711.47 118.35L713.98 118.33L715.57 117.47L716.98 116.33L718.11 117.74L719.65 118.67L722.65 119.8L724.41 120.42L725.79 121.66L727.32 122.67L729.03 123.43L730.82 123.96L732.65 124.33L734.69 125.06L736.65 126L737.4 127.97L737.98 130L738.32 133.33L737.36 135.46L735.98 137.33L737.98 138.67L737.65 142L737.32 145M746.65 145L745.98 142L746.49 140.01L746.83 137.99L747.32 136L748.65 134L750.43 134.37L751.98 135.33L751.21 133.71L750.65 132L752.18 130.5L753.98 129.33L755.52 127.69L757.32 126.33L758.87 127.39L760.65 128L762.74 128.82L764.65 130L765.86 131.54L766.65 133.33L766.76 135.35L766.4 137.33L766.32 139.33L764.67 140.11L763.32 141.33L762.65 143.33L765.1 142.83L767.32 141.67L769.98 143.33L771.32 145L771.4 147.53L771.98 150L770.98 152.33L769.98 154.67L768.25 155.92L766.65 157.33L764.65 160L767.32 162M722.65 119.67L724.2 118.66L725.69 117.55L727.32 116.67L729.98 114.67L731.98 113L733.32 115.67L732.71 118.02L731.98 120.33L733.15 118.3L733.65 116L736.65 115.33L739.32 117.33L741.32 120L744.65 120.67L746.34 119.53L747.98 118.33L749.72 117.78L751.51 117.62L753.32 117.67L755.11 117.02L756.98 116.67L755.65 119L757.68 119.38L759.65 120L761.32 122.67L762.98 124.67L761.23 124.77L759.73 125.87L757.98 126L756.24 125.04L754.47 124.13L752.65 123.33L750.84 123.51L749.09 123.96L747.32 124.33L745.37 125.04L743.32 125.33L741.98 124L743.13 125.93L743.98 128L742.26 129.26L740.65 130.67L739.32 133.33L738.49 134.93L737.98 136.67M741.32 127.33L741.38 129.36L740.88 131.33L740.65 133.33L739.98 135.28L739.78 137.34L739.32 139.33L738.89 141.21L738.51 143.09L738.32 145M737.98 140L737.71 141.82L736.83 143.49L736.65 145.33L736.62 147.14L736.14 148.88L735.98 150.67L736.49 153L736.98 155.33L738.06 157.58L738.65 160L740.65 161.67M746.65 140L746.33 142.11L745.32 144L746.44 146.28L747.32 148.67L747.71 150.99L747.98 153.33L746.84 155.61L745.98 158L743.98 160.67L742.29 161.08L740.65 161.67M771.32 163.67L772.51 165.06L773.64 166.5L774.64 168.06L775.98 169.33L775.06 167.45L773.5 166.03L772.32 164.33M805.32 190L806.92 191.82L807.98 194L809.49 192.84L810.65 191.33L811.98 193.33L813.32 195.33L814.82 194.43L816.1 193.25L817.32 192L816.4 193.76L815.67 195.62L814.65 197.33L812.65 197.03L810.65 196.67L808.7 197.31L806.65 197.33L804.65 197.51L802.65 197.37L800.65 197.33L802.66 197.98L804.64 198.68L806.65 199.33L808.38 199.92L810.22 199.64L811.98 200L810.48 200.91L809.51 202.45L807.98 203.33L809.76 203L811.54 203.39L813.32 203.33L811.69 205.14L810.65 207.33L812.61 207.89L814.65 208L815.14 209.9L815.91 211.69L816.92 213.4L817.32 215.33L816.18 213.41L814.42 211.95L813.32 210L811.52 209.97L809.79 209.31L807.98 209.33L809.51 210.47L810.65 212L808.92 211.39L807.07 211.78L805.32 211.33L806.67 213.32L807.98 215.33L806.29 214.27L804.43 213.55L802.65 212.67L803.26 214.58L804.28 216.3L805.32 218L799.98 209.33L800.76 211.13L801.69 212.87L802.02 214.82L802.65 216.67L800.62 216.8L798.65 217.33L799.2 219.05L799.98 220.67L798.8 222.15L797.32 223.33M719.98 252.33L721.75 251.49L723.32 250.33L725.42 250.7L727.32 251.67L725.98 254.33L723.95 254.46L721.98 255L724.65 257L726.65 256.68L728.65 256.33L729.34 257.99L729.98 259.67L727.98 259.77L725.98 259.67L724.06 258.76L721.98 258.33L719.32 259.67L720.65 262.33L722.5 262.16L724.22 261.52L725.98 261L727.6 261.63L729.07 262.5L730.4 263.66L731.98 264.33L731.03 262.9L729.98 261.52L729.81 259.65L728.65 258.33M782.65 287.33L787.32 295.33L786.3 293.47L785.79 291.36L784.28 289.72L783.65 287.67M668.65 272.33L670.66 271.91L672.6 271.24L674.65 271L675.61 272.46L676.78 273.74L677.98 275L677.3 277.06L676.32 279L677.93 279.84L679.32 281M767.98 265L769.11 266.94L769.98 269L770.9 270.9L772.43 272.42L773.32 274.33L773.92 276.14L775 277.76L775.32 279.67M729.88 200.23L729.03 202.16L728.31 204.15L727.52 206.18L726.42 208.05L725.25 210.28L724.53 212.7L723.91 214.78L722.65 215.78L721.7 217.69L720.76 219.61L719.96 221.15L719.3 222.77L718.24 224.17L717.77 225.84L717.52 227.54L717.07 229.21L716.99 230.95L717.78 232.77L718.24 234.69L718.87 236.18L718.13 238.21L716.65 239.82L715.73 241.74L715.17 243.82L714.28 245.79"/><path fill="#000" d="M804.22 189.05L805.11 186.46L806.89 184.43L808.84 182.43L810.84 180.4L812.41 177.98L815.08 178.4L816.35 180.4L817.96 182.81L818.3 184.21L817.24 186.63L816.86 190.66L815.8 193.88L814.57 196.72L812.79 198.55L812.07 201.13L813.13 206.18L807.61 206.18L808.16 201.94L806.55 199.14L805.11 197.53L806.55 195.49L806.17 193.08L804.6 190.28ZM797.01 177.51L812.7 176.88L807.61 181.12L802.95 180.69L799.13 182.6L797.01 180.91ZM816.1 172L820.34 172L821.18 174.54L817.79 177.94L815.67 176.66L818.22 174.54ZM821.61 172L827.55 172L825.85 176.24L824.15 180.48L821.18 183.45L819.91 181.75L822.88 178.36L823.3 174.54ZM828.46 158.24L849.65 158.02L849.65 163.75L847.12 164.81L840.34 165.87L838.64 167.99L834.4 169.69L829.73 170.75L825.07 172.65L823.16 171.81L823.37 169.26L824.86 165.87L827.61 163.75ZM833.76 170.53L835.46 170.53L834.82 173.5ZM844.15 151.87L847.12 153.99L846.27 156.96L849.65 158.02L842.88 158.24L844.58 156.12ZM760.98 142.33L762.98 141L764.98 142.33L764.65 145L762.65 146.67L760.65 145ZM735.98 132.67L739.65 130L741.32 132.67L739.98 138L736.98 138.67L735.32 136.67ZM799.98 208.33L804.52 212.17L803.44 213.16ZM797.98 216.33L800.35 221.1L798.95 221.57ZM783.98 225.67L790.34 228.36L789.63 229.64ZM779.98 230.67L784.42 233.08L783.54 234.25ZM774.32 235.87L779.54 236.77L779.09 238.17ZM817.32 215.67L813.37 211.07L814.59 210.26ZM799.65 197L806.82 197.95L806.48 199.38ZM682.32 253L683.38 259.63L681.92 259.7ZM667.32 271.67L674.13 272.28L673.84 273.72ZM689.65 219.33L691.38 227.24L689.92 227.42ZM703.98 227.33L697.21 227.06L697.43 225.61ZM722.98 149.33L719.92 155.08L718.71 154.25ZM731.98 264.33L728 260.13L729.3 259.2ZM799.13 197.45L804.64 196.6L804.64 198.29Z"/><path fill="#fff" d="M802.95 180.27L807.61 180.06L805.07 182.6ZM829.1 160.44L836.73 160.7L836.73 163.75L829.1 163.58ZM809.73 180.27L810.58 180.27L810.58 181.12L809.73 181.12ZM811.85 194.05L812.7 194.05L812.7 194.9L811.85 194.9ZM809.73 201.9L810.58 201.9L810.58 202.75L809.73 202.75Z"/></g>
<g><circle cx="845.6" cy="238.9" r="3.3" fill="#8b0000"/><circle cx="848.4" cy="238.5" r="3.3" fill="#960000"/><circle cx="843.8" cy="242.1" r="3.3" fill="#c83200"/><circle cx="846.6" cy="240.5" r="3.3" fill="#c83200"/><circle cx="848.9" cy="239.4" r="3.3" fill="#8b0000"/><circle cx="841.8" cy="244.6" r="3.3" fill="#960000"/><circle cx="844.5" cy="243.4" r="3.3" fill="#c83200"/><circle cx="847.2" cy="242.1" r="3.3" fill="#c83200"/><circle cx="849.9" cy="241" r="3.3" fill="#8b0000"/><circle cx="841.6" cy="247.1" r="3.3" fill="#c83200"/><circle cx="844.5" cy="245.5" r="3.3" fill="#8b0000"/><circle cx="847.1" cy="244.6" r="3.3" fill="#0020d0"/><circle cx="850.2" cy="243.2" r="3.3" fill="#0020d0"/><circle cx="841.1" cy="248.8" r="3.3" fill="#8b0000"/><circle cx="843.8" cy="247.9" r="3.3" fill="#8b0000"/><circle cx="847.4" cy="246.6" r="3.3" fill="#00c0ff"/><circle cx="849.7" cy="245.3" r="3.3" fill="#0030e0"/><circle cx="841.2" cy="251.6" r="3.3" fill="#ff9600"/><circle cx="844" cy="249.9" r="3.3" fill="#ff9600"/><circle cx="846.9" cy="249.1" r="3.3" fill="#0030e0"/><circle cx="850" cy="247.8" r="3.3" fill="#ffc800"/><circle cx="840.4" cy="253.7" r="3.3" fill="#ff9600"/><circle cx="843.2" cy="252.9" r="3.3" fill="#ffc800"/><circle cx="845.4" cy="251.8" r="3.3" fill="#c80000"/><circle cx="847.8" cy="250.5" r="3.3" fill="#ff9600"/><circle cx="850.3" cy="249.6" r="3.3" fill="#c80000"/><circle cx="840.6" cy="256.2" r="3.3" fill="#ffc800"/><circle cx="843" cy="255.1" r="3.3" fill="#ffe000"/><circle cx="845.1" cy="253.6" r="3.3" fill="#ffe000"/><circle cx="847.6" cy="252.7" r="3.3" fill="#ffe000"/><circle cx="849.8" cy="252.1" r="3.3" fill="#a80000"/><circle cx="840" cy="258.1" r="3.3" fill="#ffe000"/><circle cx="842.4" cy="257" r="3.3" fill="#50ff90"/><circle cx="844.7" cy="256.2" r="3.3" fill="#8b0000"/><circle cx="847.5" cy="255.1" r="3.3" fill="#a80000"/><circle cx="849.8" cy="253.9" r="3.3" fill="#8b0000"/><circle cx="839.5" cy="260.5" r="3.3" fill="#ffe000"/><circle cx="842.2" cy="259.6" r="3.3" fill="#ffe000"/><circle cx="844.8" cy="258.2" r="3.3" fill="#a80000"/><circle cx="847.4" cy="257" r="3.3" fill="#9a0000"/><circle cx="850" cy="256" r="3.3" fill="#8b0000"/><circle cx="839.2" cy="262.6" r="3.3" fill="#ffe000"/><circle cx="841.8" cy="261.8" r="3.3" fill="#50ff90"/><circle cx="844.8" cy="260.6" r="3.3" fill="#a80000"/><circle cx="847.4" cy="259.5" r="3.3" fill="#9a0000"/><circle cx="849.8" cy="258.3" r="3.3" fill="#a80000"/><circle cx="839" cy="264.8" r="3.3" fill="#ffe000"/><circle cx="841.7" cy="263.8" r="3.3" fill="#0a50ff"/><circle cx="844.9" cy="262.9" r="3.3" fill="#9a0000"/><circle cx="847" cy="261.9" r="3.3" fill="#8b0000"/><circle cx="850.2" cy="260.4" r="3.3" fill="#9a0000"/><circle cx="838.7" cy="267.4" r="3.3" fill="#20c8ff"/><circle cx="841.8" cy="266" r="3.3" fill="#20c8ff"/><circle cx="844.1" cy="265.2" r="3.3" fill="#8b0000"/><circle cx="847.1" cy="263.8" r="3.3" fill="#9a0000"/><circle cx="850" cy="262.8" r="3.3" fill="#0000a0"/><circle cx="838.3" cy="269.6" r="3.3" fill="#1090ff"/><circle cx="841.5" cy="268.1" r="3.3" fill="#20c0ff"/><circle cx="844.6" cy="267.3" r="3.3" fill="#000090"/><circle cx="847.1" cy="265.6" r="3.3" fill="#000090"/><circle cx="850.1" cy="264.7" r="3.3" fill="#000090"/><circle cx="837.9" cy="271.7" r="3.3" fill="#0040e0"/><circle cx="840.8" cy="270.5" r="3.3" fill="#20c0ff"/><circle cx="843.1" cy="269.9" r="3.3" fill="#00008b"/><circle cx="845.4" cy="268.9" r="3.3" fill="#0000a0"/><circle cx="847.8" cy="267.6" r="3.3" fill="#00008b"/><circle cx="849.7" cy="266.7" r="3.3" fill="#0000a0"/><circle cx="838.2" cy="274.2" r="3.3" fill="#0040e0"/><circle cx="840.4" cy="272.8" r="3.3" fill="#0040e0"/><circle cx="842.8" cy="271.7" r="3.3" fill="#0040e0"/><circle cx="845.4" cy="271" r="3.3" fill="#000090"/><circle cx="847.8" cy="269.8" r="3.3" fill="#00008b"/><circle cx="850" cy="269" r="3.3" fill="#0000a0"/><circle cx="837.7" cy="276.5" r="3.3" fill="#1090ff"/><circle cx="840.3" cy="275.3" r="3.3" fill="#20c0ff"/><circle cx="842.5" cy="274.2" r="3.3" fill="#20c0ff"/><circle cx="844.9" cy="273" r="3.3" fill="#0000a0"/><circle cx="847.7" cy="272.3" r="3.3" fill="#000098"/><circle cx="849.8" cy="271.4" r="3.3" fill="#00008b"/><circle cx="837.5" cy="278.2" r="3.3" fill="#000098"/><circle cx="840.1" cy="277.4" r="3.3" fill="#000090"/><circle cx="842.4" cy="276.5" r="3.3" fill="#000098"/><circle cx="844.9" cy="275.7" r="3.3" fill="#00008b"/><circle cx="847.6" cy="274.6" r="3.3" fill="#000090"/><circle cx="849.9" cy="273.1" r="3.3" fill="#00008b"/><circle cx="837.1" cy="280.3" r="3.3" fill="#000098"/><circle cx="839.4" cy="279.7" r="3.3" fill="#00008b"/><circle cx="842.4" cy="278.8" r="3.3" fill="#000098"/><circle cx="844.9" cy="277.9" r="3.3" fill="#00008b"/><circle cx="847.4" cy="276.5" r="3.3" fill="#000090"/><circle cx="850.1" cy="275.5" r="3.3" fill="#00008b"/><circle cx="837" cy="282.7" r="3.3" fill="#00008b"/><circle cx="839.1" cy="281.5" r="3.3" fill="#000090"/><circle cx="842" cy="280.7" r="3.3" fill="#00008b"/><circle cx="845" cy="279.6" r="3.3" fill="#000098"/><circle cx="847.2" cy="279.1" r="3.3" fill="#000090"/><circle cx="850.1" cy="277.7" r="3.3" fill="#000098"/><circle cx="836.2" cy="284.8" r="3.3" fill="#000098"/><circle cx="839" cy="283.8" r="3.3" fill="#00008b"/><circle cx="841.6" cy="282.8" r="3.3" fill="#00008b"/><circle cx="844.7" cy="282" r="3.3" fill="#000098"/><circle cx="847.4" cy="281.1" r="3.3" fill="#000090"/><circle cx="849.9" cy="280" r="3.3" fill="#000090"/><circle cx="836.3" cy="287.3" r="3.3" fill="#000098"/><circle cx="838.7" cy="286.4" r="3.3" fill="#00008b"/><circle cx="842" cy="284.9" r="3.3" fill="#000098"/><circle cx="844.3" cy="284.1" r="3.3" fill="#000098"/><circle cx="847" cy="282.9" r="3.3" fill="#000090"/><circle cx="850.2" cy="282.4" r="3.3" fill="#000098"/><circle cx="836" cy="289.6" r="3.3" fill="#00008b"/><circle cx="838.6" cy="288.6" r="3.3" fill="#00008b"/><circle cx="841.2" cy="287.3" r="3.3" fill="#000090"/><circle cx="844.4" cy="286.4" r="3.3" fill="#00008b"/><circle cx="847.2" cy="285.4" r="3.3" fill="#000090"/><circle cx="850" cy="284.5" r="3.3" fill="#00008b"/><circle cx="835.4" cy="291.3" r="3.3" fill="#000090"/><circle cx="838.2" cy="290.5" r="3.3" fill="#000090"/><circle cx="840.4" cy="290.2" r="3.3" fill="#000090"/><circle cx="842.6" cy="288.9" r="3.3" fill="#000098"/><circle cx="845.2" cy="288" r="3.3" fill="#00008b"/><circle cx="847.8" cy="287.2" r="3.3" fill="#00008b"/><circle cx="849.8" cy="286.3" r="3.3" fill="#00008b"/><circle cx="835" cy="293.7" r="3.3" fill="#000090"/><circle cx="838" cy="293.2" r="3.3" fill="#000098"/><circle cx="840" cy="292.4" r="3.3" fill="#00008b"/><circle cx="842.4" cy="291.6" r="3.3" fill="#00008b"/><circle cx="845" cy="290.7" r="3.3" fill="#000098"/><circle cx="847.4" cy="289.7" r="3.3" fill="#00008b"/><circle cx="850.3" cy="288.8" r="3.3" fill="#000098"/><circle cx="835.3" cy="295.8" r="3.3" fill="#000090"/><circle cx="837.6" cy="294.9" r="3.3" fill="#00008b"/><circle cx="840" cy="294.5" r="3.3" fill="#000090"/><circle cx="842.3" cy="293.5" r="3.3" fill="#000090"/><circle cx="844.8" cy="292.4" r="3.3" fill="#000098"/><circle cx="847.7" cy="291.5" r="3.3" fill="#000090"/><circle cx="850.1" cy="291" r="3.3" fill="#000098"/><circle cx="834.4" cy="298.3" r="3.3" fill="#00008b"/><circle cx="837.3" cy="297.5" r="3.3" fill="#000090"/><circle cx="840" cy="296.6" r="3.3" fill="#00008b"/><circle cx="842.5" cy="295.5" r="3.3" fill="#00008b"/><circle cx="844.8" cy="295.2" r="3.3" fill="#000090"/><circle cx="847.6" cy="294.1" r="3.3" fill="#000098"/><circle cx="850.1" cy="293" r="3.3" fill="#00008b"/><circle cx="834.2" cy="300.4" r="3.3" fill="#000090"/><circle cx="836.9" cy="299.5" r="3.3" fill="#00008b"/><circle cx="839.5" cy="298.7" r="3.3" fill="#00008b"/><circle cx="842.3" cy="297.8" r="3.3" fill="#00008b"/><circle cx="845" cy="297" r="3.3" fill="#00008b"/><circle cx="847.7" cy="296" r="3.3" fill="#000098"/><circle cx="849.9" cy="295.2" r="3.3" fill="#000090"/><circle cx="833.9" cy="302.6" r="3.3" fill="#000090"/><circle cx="836.7" cy="301.6" r="3.3" fill="#00008b"/><circle cx="839.6" cy="300.7" r="3.3" fill="#00008b"/><circle cx="842.3" cy="300.2" r="3.3" fill="#00008b"/><circle cx="844.8" cy="299.2" r="3.3" fill="#00008b"/><circle cx="847.5" cy="298.4" r="3.3" fill="#000090"/><circle cx="850" cy="297.3" r="3.3" fill="#00008b"/><circle cx="833.7" cy="305" r="3.3" fill="#000090"/><circle cx="836.6" cy="304.1" r="3.3" fill="#00008b"/><circle cx="839.5" cy="303.4" r="3.3" fill="#00008b"/><circle cx="841.8" cy="302.2" r="3.3" fill="#00008b"/><circle cx="844.3" cy="301.3" r="3.3" fill="#00008b"/><circle cx="847.3" cy="300.5" r="3.3" fill="#000098"/><circle cx="849.7" cy="299.7" r="3.3" fill="#00008b"/><circle cx="833.4" cy="307.2" r="3.3" fill="#000098"/><circle cx="836.4" cy="306.1" r="3.3" fill="#000098"/><circle cx="838.7" cy="305.1" r="3.3" fill="#00008b"/><circle cx="841.8" cy="304.7" r="3.3" fill="#00008b"/><circle cx="844.4" cy="303.5" r="3.3" fill="#000090"/><circle cx="847.2" cy="302.6" r="3.3" fill="#000090"/><circle cx="850.2" cy="302.1" r="3.3" fill="#000090"/><circle cx="833.3" cy="309.4" r="3.3" fill="#000098"/><circle cx="835.7" cy="308.2" r="3.3" fill="#00008b"/><circle cx="838.7" cy="307.8" r="3.3" fill="#000090"/><circle cx="841.4" cy="306.5" r="3.3" fill="#00008b"/><circle cx="844.1" cy="306.1" r="3.3" fill="#000090"/><circle cx="847.1" cy="305.1" r="3.3" fill="#00008b"/><circle cx="849.9" cy="304.3" r="3.3" fill="#000098"/><circle cx="833" cy="310.3" r="3.3" fill="#00008b"/><circle cx="835.6" cy="310.3" r="3.3" fill="#000090"/><circle cx="837.8" cy="310.1" r="3.3" fill="#000090"/><circle cx="840.2" cy="309.2" r="3.3" fill="#00008b"/><circle cx="842.9" cy="308.8" r="3.3" fill="#00008b"/><circle cx="845.1" cy="307.8" r="3.3" fill="#000098"/><circle cx="847.7" cy="307.2" r="3.3" fill="#000090"/><circle cx="850.1" cy="306.3" r="3.3" fill="#000098"/></g>
<text class="b tk" y="76.7"><tspan x="635.9">100</tspan><tspan x="673.5">W</tspan></text><text class="dg" transform="translate(661.93 69.7) scale(1.23 0.89)">°</text>
<text class="b tk" y="76.7"><tspan x="705.1">90</tspan><tspan x="734.4">W</tspan></text><text class="dg" transform="translate(721.93 69.7) scale(1.23 0.89)">°</text>
<text class="b tk" y="76.7"><tspan x="769.3">80</tspan><tspan x="798.3">W</tspan></text><text class="dg" transform="translate(786.93 69.7) scale(1.23 0.89)">°</text>
<text class="b tk" y="76.7"><tspan x="832.4">70</tspan><tspan x="861.6">W</tspan></text><text class="dg" transform="translate(848.93 69.7) scale(1.23 0.89)">°</text>
<text class="b tk" y="112.9"><tspan x="567.2">48</tspan><tspan x="595.9">N</tspan></text><text class="dg" transform="translate(584.93 104.9) scale(1.23 0.89)">°</text>
<text class="b tk" y="130.9"><tspan x="567.2">46</tspan><tspan x="595.9">N</tspan></text><text class="dg" transform="translate(584.93 122.9) scale(1.23 0.89)">°</text>
<text class="b tk" y="147.7"><tspan x="567.2">44</tspan><tspan x="595.9">N</tspan></text><text class="dg" transform="translate(584.93 139.7) scale(1.23 0.89)">°</text>
<text class="b tk" y="166.8"><tspan x="567.2">42</tspan><tspan x="595.9">N</tspan></text><text class="dg" transform="translate(584.93 158.8) scale(1.23 0.89)">°</text>
<text class="b tk" y="182.8"><tspan x="567.2">40</tspan><tspan x="595.9">N</tspan></text><text class="dg" transform="translate(584.93 174.8) scale(1.23 0.89)">°</text>
<text class="b tk" y="197.9"><tspan x="567.2">38</tspan><tspan x="595.9">N</tspan></text><text class="dg" transform="translate(584.93 189.9) scale(1.23 0.89)">°</text>
<text class="b tk" y="214.7"><tspan x="567.2">36</tspan><tspan x="595.9">N</tspan></text><text class="dg" transform="translate(584.93 206.7) scale(1.23 0.89)">°</text>
<text class="b tk" y="228.8"><tspan x="567.2">34</tspan><tspan x="595.9">N</tspan></text><text class="dg" transform="translate(584.93 220.8) scale(1.23 0.89)">°</text>
<text class="b tk" y="245.9"><tspan x="567.2">32</tspan><tspan x="595.9">N</tspan></text><text class="dg" transform="translate(584.93 237.9) scale(1.23 0.89)">°</text>
<text class="b tk" y="259.9"><tspan x="567.2">30</tspan><tspan x="595.9">N</tspan></text><text class="dg" transform="translate(584.93 251.9) scale(1.23 0.89)">°</text>
<text class="b tk" y="272.9"><tspan x="567.2">28</tspan><tspan x="595.9">N</tspan></text><text class="dg" transform="translate(584.93 264.9) scale(1.23 0.89)">°</text>
<text class="b tk" y="287.9"><tspan x="567.2">26</tspan><tspan x="595.9">N</tspan></text><text class="dg" transform="translate(584.93 279.9) scale(1.23 0.89)">°</text>
<text class="b tk" y="301.9"><tspan x="567.2">24</tspan><tspan x="595.9">N</tspan></text><text class="dg" transform="translate(584.93 293.9) scale(1.23 0.89)">°</text>
<text class="b tk" y="314.9"><tspan x="567.2">22</tspan><tspan x="595.9">N</tspan></text><text class="dg" transform="translate(584.93 306.9) scale(1.23 0.89)">°</text>
<rect x="862" y="95.1" width="24" height="215.3" fill="url(#jet)"/>
<path d="M862.5 95.1V310.4M885.5 95.1V310.4M862 95.6H886M862 309.9H886" fill="none" stroke="#000" stroke-opacity="0.8" stroke-width="1"/>
<path d="M886 122.09h-2.2" stroke="#000" stroke-opacity="0.7" stroke-width="0.7"/><text class="b cb" x="893.8" y="130.09">300</text>
<path d="M886 184.86h-2.2" stroke="#000" stroke-opacity="0.7" stroke-width="0.7"/><text class="b cb" x="893.8" y="192.86">200</text>
<path d="M886 247.63h-2.2" stroke="#000" stroke-opacity="0.7" stroke-width="0.7"/><text class="b cb" x="893.8" y="255.63">100</text>
<path d="M886 310.4h-2.2" stroke="#000" stroke-opacity="0.7" stroke-width="0.7"/><text class="b cb" x="893.8" y="318.4">0</text>
<text class="b xl" x="728" y="340.9" text-anchor="middle">SAT+RAP CAPE</text>
</g>
<g id="panel3">
<rect class="sp" x="1037.5" y="95.5" width="235" height="215"/>
<clipPath id="clip3"><rect x="1036" y="94" width="237" height="217"/></clipPath>
<g clip-path="url(#clip3)"><path class="st h2" d="M1037.6 96H1115.76M1037.6 133H1056.87M1037.6 168H1069.52M1068.72 176H1112.17M1039.8 239H1063.13M1143.07 216H1189.43M1197.62 204H1235.18M1108.46 171H1134.82M1140.92 155H1159.69M1235.46 189H1240.37M1241.79 133H1262.84M1250.9 153H1264.1M1249.44 159H1260.94"/><path class="st h3" d="M1056.07 124.5H1104.26M1056.07 150.5H1091.99M1037.6 200.5H1116.54M1062.71 204.5H1082.49M1115.74 204.5H1144.82M1142.63 208.5H1147.67M1119.41 231.5H1138.37M1134.66 246.5H1147.48M1160.16 246.5H1177.41M1148.14 204.5H1158.11M1157.31 203.5H1185.76M1184.96 203.5H1198.42M1104.16 146.5H1138.05M1165.09 161.5H1178.55M1177.75 161.5H1187.22M1204.96 178.5H1235.69M1209.77 159.5H1238.47"/><path class="st sv" d="M1038.2 95V239.92M1056.67 95V168.72M1069.32 166.32V201.4M1063.31 199V205.36M1062.99 202.96V239.93M1082.29 202.96V220.49M1120.01 225.83V239.93M1116.34 199V205.36M1117.38 211.59V227.55M1155.47 238.28V252.17M1161.07 244.98V252.69M1116.4 182.08V201.4M1104.76 128.89V147.28M1161.2 160.4V182.43M1178.35 160.4V184.48M1205.56 158.02V179.38M1235.77 176.98V189.69M1251.25 131.5V146.84M1260.55 157.68V166.02M1267 141.6V153.41M1272.2 113.31V143.96"/><path class="st nat" d="M1091.59 150.44L1093.29 151.24L1094.75 152.43L1096.62 151.92L1098.55 151.65L1101.71 152.86L1103.61 154.59L1104.56 154.85M1063.11 204.16L1062.86 204.16M1038 240.38L1040.77 240.38L1040.2 238.73M1082.09 219.29L1083.99 220.53L1087.16 221.06L1088.74 222.06L1091.59 222.83L1094.12 222.68L1095.07 224.36L1097.28 224.36L1099.81 225.51L1101.39 224.13L1103.61 224.74L1105.51 225.74L1108.67 224.59L1111.83 224.36L1114.37 225.74L1117.02 226.35L1119.81 227.03M1119.81 238.73L1121.14 241.72L1122.17 243.31L1122.91 245.06L1122.55 247.12L1121.96 249.13L1122.02 250.97L1121.83 252.81L1121.01 255.74M1040.77 240.38L1042.86 242.69L1044.86 244L1046.66 245.58L1048.5 247.24L1050.46 248.76L1051.28 250.49L1052.35 252.07L1053.17 254.26L1053.94 256.47L1055.37 257.55L1056.78 258.65L1059.14 259.47L1061.21 260.83L1062.48 260.98L1064.06 259.02L1064.46 257.11L1065.33 255.37L1067.54 254.49L1069.26 254.49L1070.89 255.13L1072.6 255.22L1073.98 256.9L1075.77 258.14L1076.9 259.83L1077.98 261.56L1078.74 263.9L1080.2 265.9L1081.9 267.47L1083.04 269.49L1085.26 271.64L1085.17 273.45L1085.57 275.21L1086.98 277.19L1087.79 279.47L1089.36 280.47L1091.27 280.63L1092.85 281.6L1094.75 282.13L1096.65 282.66L1098.39 282.78L1100.13 282.58M1100.13 282.58L1099.61 280.7L1099.81 278.76L1099.09 277.18L1099.07 275.42L1098.55 273.78L1098.85 271.54L1099.81 269.49L1101.05 268.03L1102.34 266.62L1104.87 265.17L1106.69 264.58L1108.08 263.15L1109.94 262.65L1111.61 261.5L1113.1 260.11L1115.63 258.29L1115.32 255.37L1116.9 257.2L1118.93 256.41L1121.01 255.74M1116.14 204.16L1117.34 212.79M1144.42 204.16L1143.03 208.1M1121.01 255.74L1122.73 255.34L1124.49 255.22L1126.69 255.97L1128.92 256.61L1131.45 256.83L1132.72 255.37L1133.98 257.2L1135.56 257.94L1137.15 258.65L1139.68 260.11L1142.84 260.11L1144.74 259.74L1146 258.65L1147.58 259.75L1149.17 260.83L1150.75 260.83L1149.17 257.92L1147.9 255.74L1149.8 254.27L1149.17 253.17L1147.27 252.81L1148.22 252.22M1147.08 246.18L1146.32 248.76L1148.22 252.22M1148.22 252.22L1149.8 251.34L1152.33 250.6L1155.5 250.97L1157.39 251.34L1158.03 248.39L1158.66 250.6L1159.61 251.71L1161.19 251.49M1156.76 215.97L1157.39 216.67L1155.05 239.48M1173.21 215.89L1175.87 232.19L1176.21 234.4L1177.01 236.48L1176.52 238.19L1176.58 239.97L1176.38 241.72L1177 243.9L1177.01 246.18M1177.01 246.18L1177.9 248.39L1194.67 249.35L1195.68 250.9L1199.47 248.32M1161.19 251.34L1163.09 250.97L1165.3 250.76L1167.52 250.6L1170.68 251.34L1172.58 252.66L1173.45 254.25L1174.48 255.74L1177.01 256.47L1178.87 255.13L1180.81 253.91L1183.34 252.81L1185.87 255.01L1187.19 256.79L1188.4 258.65L1190.93 259.74L1191.24 261.78L1191.88 263.73L1191.64 265.94L1190.93 268.06L1192.2 270.93L1192.83 273.07L1194.07 275.14L1195.04 277.34L1195.9 279.6L1197.26 281.6L1199.16 283.71L1200.03 285.22L1200.85 286.76L1201.69 288.28L1204.22 288.28L1206.12 287.93L1206.75 285.12L1208.02 283.71L1207.96 281.22L1208.33 278.76L1208.33 275.92L1207.91 273.65L1206.75 271.64L1206.09 269.44L1205.17 267.34L1205.17 264.81L1203.59 262.28L1203.02 260.45L1202.32 258.65L1201.71 256.32L1200.42 254.27L1200.02 252.45L1199.79 250.6L1199.47 248.32M1199.47 248.32L1200.12 246.55L1200.42 244.69L1201.22 242.89L1201.69 240.97L1202.95 238.43L1204.45 237.3L1205.49 235.73L1207.33 234.51L1209.28 233.47L1211.36 232.18L1213.08 230.45L1214.34 228.17L1215.61 226.27L1217.82 224.67M1189.03 215.89L1187.45 218.21L1188.9 219.14L1190.3 220.14L1191.56 221.7L1192.2 223.6L1193.51 225.08L1194.73 226.65L1196.63 228.17L1197.91 229.48L1199.16 230.83L1199.44 232.53L1199.79 234.23L1200.81 235.88L1201.69 237.61L1202.95 238.43M1189.03 215.89L1191.13 214.77L1193.46 214.34L1195.2 214.12L1196.91 214.45L1198.63 214.47L1200.34 214.74L1202.07 214.73L1202.76 215.12L1203.71 217.29L1205.46 217.55L1207.22 217.59L1208.99 217.06L1210.74 217.44L1217.82 224.67M1217.82 224.67L1219.57 225.02L1221.3 224.59L1222.57 222.06L1224.18 220.75L1225.73 219.37L1227.7 219L1229.53 218.21L1230.61 218.99L1232.48 217.43L1233.96 215.51L1236.93 214.11L1237.31 211.23L1236.28 208.93L1235.54 206.53L1234.78 203.77M1181.31 215.89L1182.21 214.27L1183.34 212.79L1184.96 212.21L1186.5 211.46L1188.45 210.12L1190.3 208.65L1192.51 208.1L1195.36 207.31L1196.41 205.19L1198.02 203.45M1157.71 204.16L1157.71 202.74M1132.08 116.84L1130.88 117.67L1130.73 119.48L1130.8 121.29L1130.88 123.09L1129.61 124.38L1128.51 125.78L1127.65 127.38L1127.68 129.19L1127.99 130.98L1127.97 132.79L1127.65 135.03L1129.51 135.8L1130.84 137.42L1132.72 138.15L1133.67 139.6L1134.75 140.95L1136.28 141.93L1137.15 143.45L1137.65 146.08L1137.96 148.25L1138.35 150.41L1138.41 152.6L1139.85 153.7L1141.32 154.76L1142.28 156.17L1143.41 157.47L1144.11 159.05L1143.47 161.18L1141.58 163.13L1140.15 164.67L1138.41 165.84L1138.41 169.2L1137.26 170.85L1136.51 172.71L1135.88 175.87L1136.83 178.35L1137.61 179.96L1138.74 181.33L1140.05 182.56L1140.94 184.09L1142.61 184.79L1144.42 184.91L1144.23 187.11L1143.92 188.92L1143.16 190.59L1144.95 191.69L1146.36 193.22L1147.9 194.61L1148.54 197.81L1150.75 200.2M1150.75 200.2L1150.29 202.32L1149.17 204.16L1147.86 205.96L1147.27 208.1L1145.99 210.31L1145.37 212.79L1144.74 214.89L1143.47 215.89L1142.82 217.97L1141.58 219.76L1140.67 221.26L1139.76 222.75L1139.04 224.36L1138.98 226.12L1138.11 227.73L1138.32 229.54L1137.78 231.21L1138.43 233.09L1139.04 234.98L1139.68 236.48L1138.58 238.33L1137.83 240.37L1136.51 242.09L1135.59 244.06L1135.06 246.18M1150.75 200.2L1152.44 199.6L1154.23 199.65L1155.5 197.02L1156.59 195.41L1157.71 193.81L1159.36 193.28L1160.87 192.44L1163.25 192.44L1165.62 192.61L1167.16 191.71L1168.78 190.99L1170.62 190.84L1172.26 190.02L1173.42 188.19L1174.48 186.29L1176.27 184.74L1178.15 183.28L1180.17 183.28L1182.07 185.72L1183.53 186.7L1185.24 187.11L1187.43 186.58L1189.67 186.29L1190.9 187.59L1192.2 188.81L1194.73 187.35L1195.29 185.69L1195.99 184.09L1197.58 183.28L1198.84 181.88L1199.47 180.82L1201.45 179.61L1203.27 178.18L1204.09 175.29L1204.66 172.94L1204.85 170.54L1205.36 170.54M1104.56 154.85L1104.95 156.59L1105.6 158.24L1106.49 159.83L1106.77 161.6L1107.01 163.57L1107.91 165.33L1108.06 167.19L1108.69 168.99L1108.67 170.87L1110.02 172.35L1110.43 174.4L1111.77 175.87L1114.37 177.94L1113.1 179.58L1114.93 181.21L1116.26 183.28M1099.62 95.54L1099.85 97.46L1100.17 99.37L1100.05 101.32L1100.45 103.22L1100.86 104.87L1100.89 106.61L1101.72 108.16L1102.03 109.84L1102 112.02L1102.37 114.19L1102.34 116.37L1102.64 118.37L1103.22 120.31L1103.55 122.29L1103.86 124.28L1103.1 125.92L1102.03 127.38L1103.45 128.59L1104.56 130.09M1104.56 146.08L1103.61 148.7L1103.95 150.74L1104.37 152.78L1104.56 154.85M1134.42 170.87L1136.39 172.71M1161 181.23L1160.47 183.04L1160.24 184.91L1161.19 188.16L1159.66 189.68L1158.34 191.4L1157.71 193.81M1178.15 161.09L1178.15 161.6M1210.17 156.74L1210.17 159.05M1238.07 159.05L1239.05 160.73L1239.97 162.45L1242.19 164.49L1240.77 166.11L1239.66 167.94L1239.02 170.04L1240.18 172.31L1241.87 174.21L1239.66 176.7L1237.76 177.52M1242.19 164.49L1247.25 167.52M1192.2 188.81L1192.2 192.2L1194.1 194.77L1196.18 195.9L1194.72 197.16L1193.17 198.32L1191.56 199.41L1190.07 200.49L1188.32 201.17L1186.97 202.48L1185.36 203.37M1196.18 195.9L1197.89 198.61L1201.06 198.29L1202.9 197.45L1204.76 196.64L1206.75 196.22L1207.56 194.04L1208.97 192.2L1210.14 189.99L1210.86 187.59L1213.08 188.57L1214.19 187.01L1215.8 185.97L1216.92 184.27L1218.18 182.65L1219.09 180.82L1220.65 182.05L1222.38 183.03L1223.08 181.47M1211.94 178.18L1211.77 180.32L1211.88 182.46L1214.34 180.24L1216.5 178.76L1218.46 179.17L1220.04 178.51L1222.25 179.17L1223.08 181.47L1224.47 183.28L1226.01 184.37L1227.32 185.72L1225.73 188.16L1227.63 189.78L1229.74 191.19L1232.06 192.2M1233.96 201L1232.06 200.2L1231.67 198.21L1232.06 196.22L1231.99 194.21L1232.06 192.2L1231.43 189.78L1231.49 187.3L1230.8 184.91L1231.43 181.64L1233.96 179.58L1233.33 180.82L1232.61 182.84L1232.06 184.91L1232.46 187.33L1232.69 189.78L1233.63 191.4L1234.59 193.01L1234.74 195.15L1234.61 197.29L1234.28 199.41L1235.47 197.46L1236.49 195.42L1237.4 193.78L1238.39 192.2L1239.41 190.49L1239.97 188.57L1239.78 185.72L1239.02 183.56L1237.76 181.64L1236.81 179.17L1237.76 177.52M1234.78 203.77L1233.96 201M1237.76 177.52L1236.49 177.19L1235.29 178.18M1236.81 179.17L1237.76 180.82L1239.21 182.58L1240.92 184.09L1242.66 182.6L1244.08 180.82L1244.98 179.14L1245.98 177.52L1246.12 175.01L1246.62 172.54L1245.35 171.71L1246.62 170.04L1247.25 167.52M1246.62 170.87L1248.85 171.02L1251.05 170.62L1252.81 170.23L1254.4 169.35L1256.11 168.78L1258.17 167.87L1260.22 166.93L1257.37 166.26L1255.47 167.69L1253.56 167.61L1251.68 167.94L1249.85 168.01L1248.2 168.78L1246.62 170.87M1247.25 167.52L1248.77 167.52L1250.97 166.96L1252.94 165.84L1254.83 165.47L1256.74 165.25L1258.44 165L1260.16 164.82L1262.44 164.4L1263.07 161.6L1264.33 163.3L1264.84 163.3L1267.5 161.6L1267.81 162.88L1269.86 162.33L1271.93 161.86M1271.93 159.47L1270.31 160.03L1268.76 160.75L1268.13 159.05L1266.23 156.48L1266.86 153.9L1268.13 153.47L1266.86 151.57L1267.5 149.74L1268.69 148.39L1269.24 146.62L1270.34 145.21L1271.93 143.89M1248.77 167.52L1249.91 165.84L1249.46 164.99L1249.83 162.88L1249.97 160.76L1249.84 158.62L1250.43 156.64L1251.01 154.66L1251.3 152.6L1251.42 150.86L1251.58 149.13L1251.66 147.39L1251.36 145.64M1242.19 132.79L1240.26 133.62L1238.39 134.58L1236.58 135.65L1235.4 137.46L1233.52 138.44L1232.06 139.92L1231.92 141.87L1232.57 143.73L1232.69 145.64L1231.11 146.67L1229.48 147.61L1227.63 148.09L1225.56 147.51L1223.41 147.53L1221.3 147.22L1219.09 147.52L1216.83 147.55L1214.66 148.18L1215.04 149.98L1215.61 151.74L1214.31 153.05L1212.93 154.28L1211.62 155.59L1210.17 156.74L1208.64 157.7L1206.88 158.24L1205.36 159.22L1204.04 160.36L1202.22 160.56L1200.88 161.66L1199.49 162.67L1197.89 163.3L1195.8 163.69L1193.65 163.25L1191.56 163.72L1189.92 163.05L1188.5 161.94L1186.82 161.35M1262.44 132.7L1262.07 134.97L1261.8 137.26L1260.92 138.78L1259.94 140.23L1258.95 141.69L1257.93 143.85L1257.06 146.08L1257.16 148.35L1256.78 150.56L1256.36 152.78M1263.7 153.04L1266.86 151.57M1260.54 158.88L1263.19 158.88L1263.19 159.9L1264.84 163.3M1266.63 142.8L1266.56 140.55L1266.68 138.3L1266.3 136.07L1265.35 134.64L1264.74 133.01L1263.61 131.7L1262.27 130.69L1263.3 129.29L1264.66 128.24L1266.08 127.25L1266.87 125.62L1268.31 124.63L1269.1 122.89L1269.82 121.11L1270.32 119.25L1271.09 117.04L1272 114.88M1115.4 95.71L1114.73 97.73L1116.52 98.54L1118.08 99.75L1119.83 100.24L1121.43 101.09L1123.14 100.75L1124.71 100.08L1126.13 99.07L1127.37 100.36L1128.81 101.43L1130.39 102.6L1132.16 103.45L1134.33 104.14L1136.19 105.46L1137.93 104.38L1139.54 103.11L1141.9 103.75L1144.24 104.45L1146.65 104.66L1148.93 105.46L1147.19 105.75L1145.47 106.11L1143.93 107.08L1142.22 107.48L1140.66 108.82L1138.87 109.84L1137.44 111.33L1136.39 113.15L1134.85 114.54L1133.2 115.13L1132.08 116.57L1130.49 117.24M1130.49 117.24L1132.99 117.58L1135.52 117.57L1137.11 116.69L1138.53 115.55L1139.67 116.97L1141.22 117.91L1144.24 119.05L1146.01 119.68L1147.39 120.93L1148.93 121.94L1150.65 122.71L1152.45 123.25L1154.3 123.63L1156.35 124.36L1158.32 125.31L1159.08 127.3L1159.66 129.34L1160 132.71L1159.04 134.85L1157.65 136.74L1159.66 138.09L1159.33 141.45L1158.99 144.48M1168.38 144.48L1167.71 141.45L1168.21 139.45L1168.56 137.41L1169.05 135.4L1170.39 133.38L1172.19 133.76L1173.74 134.72L1172.97 133.09L1172.4 131.36L1173.94 129.84L1175.76 128.67L1177.31 127.02L1179.11 125.64L1180.68 126.7L1182.46 127.33L1184.57 128.15L1186.49 129.34L1187.7 130.9L1188.5 132.71L1188.61 134.74L1188.25 136.74L1188.16 138.76L1186.51 139.55L1185.15 140.78L1184.48 142.8L1186.94 142.29L1189.17 141.11L1191.85 142.8L1193.19 144.48L1193.28 147.03L1193.86 149.52L1193.19 151.09L1192.43 152.62L1191.85 154.23L1190.22 155.63L1188.5 156.92L1186.49 159.61L1189.17 161.63M1144.24 118.92L1145.8 117.9L1147.29 116.79L1148.93 115.89L1151.61 113.87L1153.62 112.19L1154.97 114.88L1154.35 117.25L1153.62 119.59L1154.8 117.53L1155.3 115.22L1158.32 114.54L1161 116.56L1163.01 119.25L1164.68 119.62L1166.37 119.93L1167.85 118.48L1169.72 117.57L1171.48 117.08L1173.28 116.97L1175.09 116.9L1176.9 116.28L1178.77 115.89L1177.43 118.24L1179.36 119.09L1181.46 119.25L1183.13 121.94L1184.81 123.96L1183.22 124.72L1181.44 124.78L1179.78 125.31L1178.04 124.32L1176.27 123.37L1174.42 122.62L1172.62 122.92L1170.88 123.5L1169.05 123.63L1167.08 124.29L1165.03 124.63L1163.68 123.29L1164.61 125.35L1165.7 127.33L1163.91 128.53L1162.34 130.02L1161 132.71L1160.46 134.44L1159.66 136.07M1163.01 126.65L1163.07 128.7L1162.58 130.69L1162.34 132.71L1161.67 134.67L1161.47 136.75L1161 138.76L1160.58 140.65L1160.19 142.55L1160 144.48M1159.66 139.43L1159.38 141.27L1158.5 142.95L1158.32 144.81L1158.29 146.63L1157.8 148.39L1157.65 150.2L1158.16 152.55L1158.65 154.9L1159.74 157.17L1160.33 159.61L1162.34 161.29M1168.38 139.43L1168.05 141.57L1167.04 143.47L1167.83 144.99L1168.44 146.58L1169.05 148.18L1169.24 150.55L1169.72 152.89L1168.96 154.42L1168.52 156.09L1167.71 157.59L1165.7 160.29L1164.13 161.15L1162.34 161.29M1193.19 163.31L1194.39 164.72L1195.54 166.18L1196.54 167.75L1197.89 169.03L1196.96 167.13L1195.4 165.69L1194.2 163.99M1227.4 189.88L1229.01 191.72L1230.08 193.92L1231.59 192.74L1232.76 191.23L1234.1 193.25L1235.45 195.26L1236.96 194.35L1238.24 193.16L1239.47 191.9L1238.55 193.68L1237.81 195.55L1236.79 197.28L1234.77 196.97L1232.76 196.61L1230.8 197.26L1228.74 197.28L1226.73 197.46L1224.72 197.32L1222.7 197.28L1224.72 197.93L1226.72 198.65L1228.74 199.3L1230.48 199.89L1232.33 199.62L1234.1 199.97L1232.59 200.89L1231.62 202.45L1230.08 203.34L1231.87 203.01L1233.66 203.39L1235.45 203.34L1233.81 205.16L1232.76 207.37L1234.74 207.93L1236.79 208.04L1237.28 209.96L1238.05 211.77L1239.07 213.49L1239.47 215.44L1238.32 213.5L1236.56 212.03L1235.45 210.06L1233.63 210.03L1231.9 209.37L1230.08 209.39L1231.62 210.54L1232.76 212.08L1231.02 211.47L1229.16 211.86L1227.4 211.41L1228.75 213.42L1230.08 215.44L1228.38 214.37L1226.51 213.64L1224.72 212.75L1225.33 214.69L1226.35 216.42L1227.4 218.13L1222.03 209.39L1222.81 211.2L1223.74 212.96L1224.08 214.93L1224.72 216.79L1222.67 216.93L1220.69 217.46L1221.25 219.19L1222.03 220.83L1220.84 222.32L1219.35 223.52M1141.55 252.78L1143.33 251.93L1144.91 250.76L1147.02 251.14L1148.93 252.1L1147.59 254.8L1145.54 254.93L1143.56 255.47L1146.25 257.49L1148.26 257.17L1150.27 256.81L1150.96 258.49L1151.61 260.18L1149.6 260.28L1147.59 260.18L1145.66 259.26L1143.56 258.83L1140.88 260.18L1142.22 262.87L1144.08 262.69L1145.82 262.04L1147.59 261.52L1149.21 262.16L1150.7 263.04L1152.03 264.2L1153.62 264.89L1152.66 263.44L1151.61 262.04L1151.44 260.16L1150.27 258.83M1204.6 288.09L1209.29 296.16L1208.45 294.67L1208.12 292.93L1206.79 291.66L1206.55 289.87L1205.6 288.43M1089.91 272.96L1091.93 272.53L1093.89 271.85L1095.95 271.61L1096.91 273.09L1098.09 274.38L1099.3 275.65L1098.62 277.73L1097.62 279.68L1099.24 280.53L1100.64 281.7M1189.84 265.56L1190.97 267.51L1191.85 269.59L1192.77 271.51L1194.31 273.04L1195.21 274.98L1195.81 276.79L1196.9 278.43L1197.22 280.36M1151.51 200.2L1150.65 202.16L1149.93 204.16L1149.13 206.21L1148.03 208.1L1146.85 210.35L1146.13 212.79L1145.5 214.89L1144.23 215.89L1143.28 217.82L1142.33 219.76L1141.53 221.31L1140.86 222.94L1139.8 224.36L1139.32 226.04L1139.07 227.76L1138.62 229.45L1138.54 231.21L1139.34 233.04L1139.8 234.98L1140.44 236.48L1139.69 238.52L1138.2 240.15L1137.27 242.09L1136.71 244.19L1135.82 246.18"/><path fill="#000" d="M1226.3 188.92L1227.19 186.31L1228.98 184.26L1230.95 182.25L1232.95 180.19L1234.53 177.75L1237.22 178.18L1238.5 180.19L1240.12 182.63L1240.46 184.04L1239.39 186.48L1239.01 190.55L1237.94 193.8L1236.71 196.67L1234.91 198.51L1234.19 201.12L1235.25 206.21L1229.71 206.21L1230.26 201.93L1228.64 199.11L1227.19 197.48L1228.64 195.43L1228.26 192.99L1226.68 190.16ZM1219.04 177.28L1234.83 176.64L1229.71 180.92L1225.02 180.49L1221.18 182.42L1219.04 180.71ZM1238.24 171.72L1242.51 171.72L1243.36 174.29L1239.95 177.71L1237.81 176.43L1240.37 174.29ZM1243.79 171.72L1249.76 171.72L1248.05 176L1246.35 180.28L1243.36 183.27L1242.08 181.56L1245.07 178.14L1245.49 174.29ZM1250.68 157.83L1272 157.62L1272 163.4L1269.45 164.47L1262.63 165.54L1260.92 167.67L1256.65 169.39L1251.96 170.46L1247.27 172.38L1245.35 171.53L1245.56 168.96L1247.06 165.54L1249.83 163.4ZM1256.01 170.24L1257.72 170.24L1257.08 173.24ZM1266.47 151.41L1269.45 153.55L1268.6 156.55L1272 157.62L1265.19 157.83L1266.89 155.69ZM1182.8 141.79L1184.81 140.44L1186.82 141.79L1186.49 144.48L1184.48 146.16L1182.46 144.48ZM1157.65 132.03L1161.34 129.34L1163.01 132.03L1161.67 137.42L1158.65 138.09L1156.98 136.07ZM1222.03 208.38L1226.6 212.25L1225.51 213.26ZM1220.02 216.45L1222.4 221.26L1221 221.73ZM1205.94 225.87L1212.33 228.59L1211.61 229.88ZM1201.91 230.92L1206.38 233.35L1205.49 234.53ZM1196.21 236.16L1201.47 237.07L1201.02 238.48ZM1239.47 215.78L1235.5 211.15L1236.73 210.33ZM1221.7 196.95L1228.91 197.91L1228.57 199.35ZM1103.66 253.45L1104.73 260.14L1103.26 260.21ZM1088.57 272.28L1095.42 272.9L1095.13 274.36ZM1111.04 219.48L1112.78 227.46L1111.31 227.64ZM1125.46 227.55L1118.64 227.28L1118.86 225.81ZM1144.57 148.85L1141.49 154.65L1140.27 153.81ZM1153.62 264.89L1149.62 260.65L1150.93 259.71ZM1221.18 197.4L1226.72 196.54L1226.72 198.25Z"/><path fill="#fff" d="M1225.02 180.07L1229.71 179.85L1227.15 182.42ZM1251.32 160.06L1259 160.31L1259 163.4L1251.32 163.22ZM1231.84 180.07L1232.69 180.07L1232.69 180.92L1231.84 180.92ZM1233.97 193.97L1234.83 193.97L1234.83 194.83L1233.97 194.83ZM1231.84 201.89L1232.69 201.89L1232.69 202.74L1231.84 202.74Z"/></g>
<g><circle cx="1267.8" cy="240.5" r="3.3" fill="#0a40ff"/><circle cx="1271" cy="239.6" r="3.3" fill="#0a40ff"/><circle cx="1266" cy="243.5" r="3.3" fill="#0838f0"/><circle cx="1269.1" cy="241.8" r="3.3" fill="#0a40ff"/><circle cx="1271.9" cy="240.1" r="3.3" fill="#0a40ff"/><circle cx="1264.1" cy="246.2" r="3.3" fill="#0838f0"/><circle cx="1267.1" cy="244.9" r="3.3" fill="#1050ff"/><circle cx="1270" cy="243.4" r="3.3" fill="#0a40ff"/><circle cx="1272.6" cy="241.5" r="3.3" fill="#1050ff"/><circle cx="1263.9" cy="248.6" r="3.3" fill="#0838f0"/><circle cx="1266.9" cy="247" r="3.3" fill="#0a40ff"/><circle cx="1269.7" cy="245.5" r="3.3" fill="#1050ff"/><circle cx="1272.8" cy="243.4" r="3.3" fill="#0a40ff"/><circle cx="1263.4" cy="250.8" r="3.3" fill="#0a40ff"/><circle cx="1265.8" cy="249.7" r="3.3" fill="#1050ff"/><circle cx="1268.3" cy="248.6" r="3.3" fill="#0830e8"/><circle cx="1270.5" cy="247.2" r="3.3" fill="#1050ff"/><circle cx="1272.7" cy="245.8" r="3.3" fill="#0a40ff"/><circle cx="1263.1" cy="253.5" r="3.3" fill="#0a40ff"/><circle cx="1265.5" cy="252.3" r="3.3" fill="#0838f0"/><circle cx="1267.8" cy="250.9" r="3.3" fill="#0a40ff"/><circle cx="1270.1" cy="249.4" r="3.3" fill="#1050ff"/><circle cx="1272.7" cy="247.8" r="3.3" fill="#0a40ff"/><circle cx="1262.7" cy="255.6" r="3.3" fill="#0a40ff"/><circle cx="1265.1" cy="254.2" r="3.3" fill="#0a40ff"/><circle cx="1267.8" cy="252.8" r="3.3" fill="#0838f0"/><circle cx="1269.9" cy="251.3" r="3.3" fill="#0a40ff"/><circle cx="1272.4" cy="250.1" r="3.3" fill="#0838f0"/><circle cx="1262.5" cy="257.8" r="3.3" fill="#1050ff"/><circle cx="1265" cy="256.3" r="3.3" fill="#0a40ff"/><circle cx="1267.7" cy="255.2" r="3.3" fill="#0a40ff"/><circle cx="1269.8" cy="253.3" r="3.3" fill="#1050ff"/><circle cx="1272.6" cy="251.9" r="3.3" fill="#0a40ff"/><circle cx="1262" cy="260.5" r="3.3" fill="#1050ff"/><circle cx="1264.9" cy="258.9" r="3.3" fill="#1050ff"/><circle cx="1267.2" cy="257.1" r="3.3" fill="#1050ff"/><circle cx="1269.8" cy="255.8" r="3.3" fill="#0a40ff"/><circle cx="1272.7" cy="254.4" r="3.3" fill="#0838f0"/><circle cx="1261.8" cy="262.7" r="3.3" fill="#0830e8"/><circle cx="1264.6" cy="260.8" r="3.3" fill="#0a40ff"/><circle cx="1267.4" cy="259.1" r="3.3" fill="#0a40ff"/><circle cx="1270" cy="258.1" r="3.3" fill="#0a40ff"/><circle cx="1272.6" cy="256.3" r="3.3" fill="#1050ff"/><circle cx="1261.7" cy="264.6" r="3.3" fill="#0830e8"/><circle cx="1264.3" cy="263.2" r="3.3" fill="#1050ff"/><circle cx="1267.2" cy="261.8" r="3.3" fill="#0838f0"/><circle cx="1269.7" cy="260.3" r="3.3" fill="#0a40ff"/><circle cx="1272.9" cy="258.4" r="3.3" fill="#0a40ff"/><circle cx="1260.9" cy="267.3" r="3.3" fill="#0a40ff"/><circle cx="1264.3" cy="265.2" r="3.3" fill="#1050ff"/><circle cx="1266.9" cy="263.9" r="3.3" fill="#1050ff"/><circle cx="1269.6" cy="261.9" r="3.3" fill="#0a40ff"/><circle cx="1272.9" cy="260.5" r="3.3" fill="#0838f0"/><circle cx="1261" cy="269.5" r="3.3" fill="#0838f0"/><circle cx="1263.4" cy="268.1" r="3.3" fill="#0a40ff"/><circle cx="1265.8" cy="266.9" r="3.3" fill="#0a40ff"/><circle cx="1268.1" cy="265.3" r="3.3" fill="#1050ff"/><circle cx="1270" cy="263.8" r="3.3" fill="#1050ff"/><circle cx="1272.5" cy="262.4" r="3.3" fill="#1050ff"/><circle cx="1260.4" cy="271.5" r="3.3" fill="#0a40ff"/><circle cx="1262.9" cy="270" r="3.3" fill="#0830e8"/><circle cx="1265.3" cy="268.9" r="3.3" fill="#0838f0"/><circle cx="1267.8" cy="267.7" r="3.3" fill="#1050ff"/><circle cx="1270.5" cy="265.8" r="3.3" fill="#1050ff"/><circle cx="1272.3" cy="264.5" r="3.3" fill="#0830e8"/><circle cx="1260.2" cy="271.5" r="3.3" fill="#0838f0"/><circle cx="1262.9" cy="271.5" r="3.3" fill="#1050ff"/><circle cx="1264.9" cy="270.9" r="3.3" fill="#1050ff"/><circle cx="1267.9" cy="270" r="3.3" fill="#0a40ff"/><circle cx="1270" cy="268.1" r="3.3" fill="#0830e8"/><circle cx="1272.7" cy="267.1" r="3.3" fill="#0a40ff"/><circle cx="1268.5" cy="258.5" r="3" fill="#ffe000"/><circle cx="1272.6" cy="259.6" r="3" fill="#ffe000"/><circle cx="1272.3" cy="264" r="3.2" fill="#ff9000"/><circle cx="1269" cy="266.3" r="2.8" fill="#ffe000"/><circle cx="1259.8" cy="278.2" r="3.9" fill="#ffe800"/><circle cx="1272.1" cy="276.8" r="3.9" fill="#ff4d00"/><circle cx="1258.7" cy="299" r="3.8" fill="#ff8a00"/><circle cx="1261.5" cy="303.3" r="3.8" fill="#ff8a00"/><circle cx="1255.5" cy="306.1" r="3.8" fill="#ffd500"/><circle cx="1259" cy="305" r="3" fill="#ffb000"/><circle cx="1266.9" cy="304.4" r="3.8" fill="#ff5a00"/><circle cx="1267.5" cy="307.7" r="3.8" fill="#ff5a00"/></g>
<text class="b tk" y="74.9"><tspan x="1058.9">100</tspan><tspan x="1096.5">W</tspan></text><text class="dg" transform="translate(1085.93 67.9) scale(1.23 0.89)">°</text>
<text class="b tk" y="74.9"><tspan x="1128.1">90</tspan><tspan x="1157.4">W</tspan></text><text class="dg" transform="translate(1145.93 67.9) scale(1.23 0.89)">°</text>
<text class="b tk" y="74.9"><tspan x="1192.3">80</tspan><tspan x="1221.3">W</tspan></text><text class="dg" transform="translate(1210.93 67.9) scale(1.23 0.89)">°</text>
<text class="b tk" y="74.9"><tspan x="1255.4">70</tspan><tspan x="1284.6">W</tspan></text><text class="dg" transform="translate(1272.93 67.9) scale(1.23 0.89)">°</text>
<text class="b tk" y="112.9"><tspan x="988.2">48</tspan><tspan x="1016.9">N</tspan></text><text class="dg" transform="translate(1005.93 104.9) scale(1.23 0.89)">°</text>
<text class="b tk" y="130.9"><tspan x="988.2">46</tspan><tspan x="1016.9">N</tspan></text><text class="dg" transform="translate(1005.93 122.9) scale(1.23 0.89)">°</text>
<text class="b tk" y="147.7"><tspan x="988.2">44</tspan><tspan x="1016.9">N</tspan></text><text class="dg" transform="translate(1005.93 139.7) scale(1.23 0.89)">°</text>
<text class="b tk" y="166.8"><tspan x="988.2">42</tspan><tspan x="1016.9">N</tspan></text><text class="dg" transform="translate(1005.93 158.8) scale(1.23 0.89)">°</text>
<text class="b tk" y="182.8"><tspan x="988.2">40</tspan><tspan x="1016.9">N</tspan></text><text class="dg" transform="translate(1005.93 174.8) scale(1.23 0.89)">°</text>
<text class="b tk" y="197.9"><tspan x="988.2">38</tspan><tspan x="1016.9">N</tspan></text><text class="dg" transform="translate(1005.93 189.9) scale(1.23 0.89)">°</text>
<text class="b tk" y="214.7"><tspan x="988.2">36</tspan><tspan x="1016.9">N</tspan></text><text class="dg" transform="translate(1005.93 206.7) scale(1.23 0.89)">°</text>
<text class="b tk" y="228.8"><tspan x="988.2">34</tspan><tspan x="1016.9">N</tspan></text><text class="dg" transform="translate(1005.93 220.8) scale(1.23 0.89)">°</text>
<text class="b tk" y="245.9"><tspan x="988.2">32</tspan><tspan x="1016.9">N</tspan></text><text class="dg" transform="translate(1005.93 237.9) scale(1.23 0.89)">°</text>
<text class="b tk" y="259.9"><tspan x="988.2">30</tspan><tspan x="1016.9">N</tspan></text><text class="dg" transform="translate(1005.93 251.9) scale(1.23 0.89)">°</text>
<text class="b tk" y="274.7"><tspan x="988.2">28</tspan><tspan x="1016.9">N</tspan></text><text class="dg" transform="translate(1005.93 266.7) scale(1.23 0.89)">°</text>
<text class="b tk" y="289.7"><tspan x="988.2">26</tspan><tspan x="1016.9">N</tspan></text><text class="dg" transform="translate(1005.93 281.7) scale(1.23 0.89)">°</text>
<text class="b tk" y="301.9"><tspan x="988.2">24</tspan><tspan x="1016.9">N</tspan></text><text class="dg" transform="translate(1005.93 293.9) scale(1.23 0.89)">°</text>
<text class="b tk" y="316.9"><tspan x="988.2">22</tspan><tspan x="1016.9">N</tspan></text><text class="dg" transform="translate(1005.93 308.9) scale(1.23 0.89)">°</text>
<rect x="1285" y="93.1" width="24" height="219.6" fill="url(#jet)"/>
<path d="M1285.5 93.1V312.7M1308.5 93.1V312.7M1285 93.6H1309M1285 312.2H1309" fill="none" stroke="#000" stroke-opacity="0.8" stroke-width="1"/>
<path d="M1309 93.1h-2.2" stroke="#000" stroke-opacity="0.7" stroke-width="0.7"/><text class="b cb" x="1316.8" y="101.3">1000</text>
<path d="M1309 141.63h-2.2" stroke="#000" stroke-opacity="0.7" stroke-width="0.7"/><text class="b cb" x="1316.8" y="149.63">800</text>
<path d="M1309 190.16h-2.2" stroke="#000" stroke-opacity="0.7" stroke-width="0.7"/><text class="b cb" x="1316.8" y="198.16">600</text>
<path d="M1309 238.69h-2.2" stroke="#000" stroke-opacity="0.7" stroke-width="0.7"/><text class="b cb" x="1316.8" y="246.69">400</text>
<path d="M1309 287.22h-2.2" stroke="#000" stroke-opacity="0.7" stroke-width="0.7"/><text class="b cb" x="1316.8" y="295.22">200</text>
<text class="b xl" x="1150" y="342" text-anchor="middle">Cloud Press (hPa)</text>
</g>
<g id="panel4">
<rect class="sp" x="195.5" y="486.5" width="234" height="213"/>
<clipPath id="clip4"><rect x="194" y="485" width="236" height="215"/></clipPath>
<g clip-path="url(#clip4)"><path class="st h2" d="M214.36 515H262.27M214.36 541H250.06M196 558H227.74M226.94 566H270.13M220.96 594H240.63M273.67 594H302.59M300.4 598H305.42M277.32 621H296.17M305.88 594H315.8M315 593H343.28M266.44 561H292.65M298.7 545H317.37M335.31 552H344.73M406.58 549H418.01"/><path class="st h3" d="M196 486.5H273.7M196 523.5H215.16M196 590.5H274.47M198.19 628.5H221.38M292.48 635.5H305.23M300.84 605.5H346.93M317.83 635.5H334.98M342.48 593.5H355.86M355.06 593.5H392.41M262.16 536.5H295.86M322.73 551.5H336.11M362.36 568.5H392.91M367.14 549.5H395.68M392.68 578.5H397.57M398.97 523.5H419.89M408.02 543.5H421.15"/><path class="st sv" d="M196.6 485V629.3M214.96 485V558.74M227.54 556.34V591.13M221.56 588.73V595.05M221.25 592.65V629.31M240.43 592.65V610.05M277.92 615.32V629.31M274.27 588.73V595.05M275.31 601.2V617.04M313.17 627.65V641.44M318.74 634.29V641.95M274.33 571.95V591.13M262.76 519.24V537.49M318.87 550.47V572.32M335.91 550.47V574.35M362.96 548.11V569.3M392.99 566.9V579.52M408.37 521.83V537.06M417.62 547.77V556.06M424.03 531.83V543.57M429.2 503.8V534.2"/><path class="st nat" d="M249.66 540.61L251.36 541.4L252.81 542.58L254.67 542.07L256.58 541.81L259.73 543.01L261.62 544.72L262.56 544.98M221.36 593.85L221.11 593.85M196.4 629.74L199.16 629.74L198.59 628.11M240.23 608.85L242.12 610.07L245.26 610.6L246.83 611.59L249.66 612.35L252.18 612.2L253.12 613.87L255.33 613.87L257.84 615.01L259.41 613.64L261.62 614.25L263.5 615.23L266.65 614.1L269.79 613.87L272.31 615.23L274.95 615.84L277.72 616.52M277.72 628.11L279.04 631.07L280.07 632.65L280.8 634.39L280.45 636.43L279.86 638.42L279.91 640.25L279.73 642.06L278.91 644.97M199.16 629.74L201.23 632.03L203.22 633.33L205.01 634.9L206.84 636.54L208.78 638.05L209.6 639.77L210.67 641.34L211.48 643.5L212.24 645.69L213.66 646.76L215.07 647.86L217.41 648.66L219.47 650.02L220.73 650.16L222.3 648.22L222.7 646.33L223.56 644.6L225.76 643.73L228.31 643.85L230.79 644.46L232.26 646.02L233.94 647.35L234.79 649.21L236.14 650.74L237.27 652.87L238.34 655.03L239.45 657.06L241.17 658.6L243.38 660.73L243.89 662.47L243.69 664.27L244.57 666.49L245.89 668.49L247.7 668.88L249.13 670.18L250.92 670.59L252.88 670.85L254.7 671.64L256.43 671.62L258.16 671.57M258.16 671.57L257.64 669.71L257.84 667.79L256.91 665.4L256.58 662.85L257.32 660.76L257.84 658.6L258.84 656.95L260.36 655.75L262.87 654.32L264.54 653.46L266.35 652.9L267.91 651.81L269.24 650.26L271.05 649.3L273.57 647.5L273.25 644.6L274.82 646.41L276.92 645.83L278.91 644.97M274.07 593.85L275.27 602.4M302.19 593.85L300.8 597.75M278.91 644.97L280.62 644.57L282.37 644.46L284.56 645.2L286.78 645.83L289.29 646.05L290.55 644.6L291.81 646.41L293.38 647.15L294.95 647.86L297.47 649.3L300.61 649.3L302.5 648.94L303.76 647.86L305.32 648.95L306.9 650.02L308.48 650.02L306.9 647.14L305.65 644.97L307.53 643.52L306.9 642.43L305.02 642.06L305.96 641.48M304.83 635.49L304.07 638.05L305.96 641.48M305.96 641.48L307.53 640.61L310.05 639.88L313.19 640.24L315.08 640.61L315.71 637.69L316.34 639.88L317.28 640.97L318.86 640.75M314.45 605.56L315.08 606.25L312.75 628.85M330.81 605.48L333.45 621.63L333.78 623.82L334.58 625.88L334.09 627.58L334.15 629.34L333.95 631.07L334.57 633.24L334.58 635.49M334.58 635.49L335.46 637.69L352.13 638.64L353.14 640.17L356.91 637.61M318.86 640.61L320.74 640.24L322.94 640.03L325.14 639.88L328.29 640.61L330.18 641.92L331.04 643.49L332.06 644.97L334.58 645.69L336.43 644.36L338.35 643.15L340.87 642.06L343.39 644.24L344.7 646.01L345.9 647.86L348.42 648.94L348.72 650.95L349.36 652.89L349.13 655.08L348.42 657.17L349.68 660.02L350.3 662.15L351.53 664.2L352.51 666.38L353.36 668.62L354.71 670.59L356.6 672.69L357.46 674.19L358.28 675.71L359.11 677.22L361.63 677.22L363.51 676.87L364.14 674.09L365.4 672.69L365.34 670.23L365.72 667.79L365.72 664.97L365.3 662.71L364.14 660.73L363.48 658.55L362.57 656.46L362.57 653.96L361 651.45L360.43 649.63L359.74 647.86L359.13 645.54L357.85 643.52L357.45 641.71L357.22 639.88L356.91 637.61M356.91 637.61L357.55 635.86L357.85 634.02L358.64 632.23L359.11 630.33L360.37 627.82L361.86 626.7L362.88 625.14L364.72 623.93L366.66 622.9L368.72 621.62L370.43 619.9L371.69 617.65L372.95 615.76L375.15 614.17M346.53 605.48L344.96 607.78L346.4 608.7L347.79 609.69L349.04 611.23L349.68 613.11L350.99 614.58L352.19 616.14L354.08 617.65L355.36 618.94L356.6 620.28L356.88 621.97L357.22 623.65L358.24 625.28L359.11 627L360.37 627.82M346.53 605.48L348.61 604.36L350.93 603.94L352.66 603.72L354.36 604.05L356.07 604.07L357.77 604.33L359.49 604.33L360.18 604.71L361.12 606.86L362.86 607.13L364.61 607.16L366.37 606.63L368.11 607.01L375.15 614.17M375.15 614.17L376.89 614.53L378.61 614.1L379.87 611.59L381.47 610.29L383.01 608.92L384.96 608.56L386.79 607.78L387.86 608.54L389.72 607L391.19 605.09L394.15 603.71L394.52 600.85L393.49 598.58L392.76 596.2L392.01 593.46M338.86 605.48L339.75 603.87L340.87 602.4L342.48 601.83L344.01 601.09L345.95 599.76L347.79 598.3L349.99 597.75L352.82 596.97L353.86 594.87L355.46 593.15M315.4 593.85L315.4 592.44M289.92 507.3L288.73 508.13L288.57 509.92L288.64 511.72L288.73 513.51L287.46 514.78L286.37 516.17L285.52 517.75L285.55 519.54L285.85 521.32L285.83 523.12L285.52 525.34L287.36 526.1L288.68 527.71L290.55 528.43L291.5 529.87L292.57 531.21L294.09 532.17L294.95 533.68L295.46 536.29L295.76 538.44L296.15 540.58L296.21 542.75L297.65 543.84L299.1 544.89L300.52 546.99L301.87 549.14L301.24 551.25L299.36 553.19L297.96 554.74L296.21 555.87L296.21 559.2L295.48 561.06L294.32 562.68L293.69 565.81L294.64 568.27L295.48 569.82L296.43 571.29L297.56 572.64L298.73 573.96L300.5 574.2L302.19 574.77L302 576.95L301.18 578.59L300.93 580.4L302.65 581.55L304.28 582.82L305.65 584.39L306.27 587.56L308.48 589.93M308.48 589.93L308.02 592.02L306.9 593.85L305.6 595.63L305.02 597.75L303.74 599.94L303.13 602.4L302.5 604.48L301.24 605.48L300.59 607.54L299.36 609.31L298.46 610.8L297.55 612.28L296.84 613.87L296.78 615.61L295.91 617.21L296.13 619L295.58 620.65L296.23 622.52L296.84 624.39L297.47 625.88L296.38 627.71L295.64 629.74L294.32 631.44L293.41 633.4L292.88 635.49M308.48 589.93L310.15 589.33L311.94 589.38L313.19 586.77L314.28 585.17L315.4 583.59L317.03 583.07L318.54 582.24L320.9 582.24L323.26 582.4L324.79 581.51L326.4 580.8L328.23 580.65L329.86 579.84L331.01 578.02L332.06 576.14L333.85 574.6L335.71 573.15L337.73 573.15L339.61 575.58L341.06 576.55L342.76 576.95L344.94 576.42L347.16 576.14L348.38 577.43L349.68 578.64L352.19 577.19L352.75 575.55L353.45 573.96L355.02 573.15L356.28 571.77L356.91 570.71L358.87 569.52L360.68 568.1L361.5 565.23L362.07 562.91L362.26 560.53L362.76 560.53M262.56 544.98L262.95 546.7L263.6 548.34L264.48 549.91L264.76 551.67L265 553.62L265.89 555.37L266.04 557.21L266.67 558.99L266.65 560.86L267.99 562.32L268.39 564.35L269.73 565.81L272.31 567.86L271.05 569.49L272.87 571.11L274.2 573.15M257.65 486.2L257.88 488.1L258.19 489.99L258.08 491.93L258.47 493.81L259.01 495.99L259.17 498.27L260.04 500.37L260.24 502.52L260.12 504.69L260.36 506.84L260.86 508.78L261.03 510.78L261.61 512.7L261.87 514.68L261.02 516.25L260.04 517.75L261.44 518.97L262.56 520.44M262.56 536.29L261.62 538.88L261.95 540.91L262.38 542.92L262.56 544.98M292.25 560.86L294.2 562.68M318.67 571.12L318.14 572.92L317.91 574.77L318.86 577.99L317.33 579.5L316.02 581.2L315.4 583.59M335.71 551.17L335.71 551.67M367.54 546.85L367.54 549.14M395.28 549.14L396.25 550.81L397.17 552.51L399.37 554.53L397.96 556.13L396.85 557.95L396.22 560.03L397.37 562.28L399.05 564.16L396.85 566.63L394.96 567.45M399.37 554.53L404.4 557.54M349.68 578.64L349.68 582L351.56 584.55L353.64 585.66L352.18 586.91L350.64 588.06L349.05 589.14L347.57 590.22L345.82 590.88L344.48 592.18L342.88 593.07M353.64 585.66L355.34 588.35L358.48 588.03L360.32 587.2L362.16 586.4L364.14 585.98L364.94 583.82L366.34 582L367.51 579.81L368.23 577.43L370.43 578.4L371.54 576.85L373.14 575.82L374.25 574.13L375.5 572.53L376.41 570.71L377.96 571.93L379.68 572.91L380.37 571.37M369.3 568.1L369.13 570.22L369.24 572.34L371.69 570.14L373.83 568.68L375.78 569.08L377.35 568.43L379.55 569.08L380.37 571.37L381.75 573.15L383.29 574.23L384.59 575.58L383.01 577.99L384.9 579.6L387 580.99L389.3 582M391.19 590.71L389.3 589.93L388.92 587.95L389.3 585.98L389.23 583.99L389.3 582L388.67 579.6L388.74 577.14L388.04 574.77L388.67 571.53L391.19 569.49L390.56 570.71L389.85 572.72L389.3 574.77L389.7 577.17L389.93 579.6L390.86 581.21L391.82 582.8L391.97 584.92L391.84 587.04L391.5 589.14L392.69 587.21L393.71 585.18L394.61 583.57L395.59 582L396.61 580.3L397.17 578.4L396.98 575.58L396.22 573.43L394.96 571.53L394.02 569.08L394.96 567.45M392.01 593.46L391.19 590.71M394.96 567.45L393.71 567.12L392.51 568.1M394.02 569.08L394.96 570.71L396.4 572.47L398.11 573.96L399.84 572.49L401.25 570.71L402.14 569.05L403.14 567.45L403.27 564.96L403.77 562.52L402.51 561.69L403.77 560.03L404.4 557.54M403.77 560.86L405.99 561L408.17 560.61L409.93 560.22L411.51 559.35L413.2 558.79L415.26 557.88L417.29 556.95L414.46 556.29L412.58 557.7L410.68 557.62L408.8 557.95L406.99 558.02L405.34 558.79L403.77 560.86M404.4 557.54L405.91 557.54L408.1 556.98L410.06 555.87L411.94 555.5L413.83 555.28L415.53 555.03L417.23 554.86L419.5 554.45L420.12 551.67L421.38 553.35L421.89 553.35L424.53 551.67L424.84 552.93L426.88 552.4L428.93 551.92M428.93 549.56L425.78 550.83L425.16 549.14L423.27 546.59L423.9 544.04L425.16 543.61L423.9 541.72L424.53 539.92L425.55 538.47L426.66 537.08L427.36 535.42L428.93 534.12M405.91 557.54L407.04 555.87L406.6 555.03L406.97 552.94L407.1 550.84L406.98 548.72L407.56 546.75L408.14 544.79L408.42 542.75L408.55 541.03L408.71 539.31L408.79 537.58L408.49 535.86M399.37 523.12L397.45 523.94L395.59 524.89L393.79 525.94L392.63 527.75L390.75 528.72L389.3 530.18L389.16 532.11L389.81 533.96L389.93 535.86L388.36 536.88L386.74 537.81L384.9 538.28L382.84 537.7L380.7 537.73L378.61 537.42L376.41 537.71L374.16 537.74L372.01 538.37L372.38 540.16L372.95 541.9L371.66 543.2L370.28 544.42L368.99 545.71L367.54 546.85L366.02 547.81L364.27 548.34L362.76 549.31L361.08 550.64L358.89 551.04L357.19 552.34L355.34 553.35L353.25 553.7L351.16 553.88L349.05 553.77L347.62 552.69L345.84 552.32L344.33 551.42M419.5 523.03L419.14 525.28L418.87 527.54L417.99 529.05L417.01 530.5L416.04 531.94L415.01 534.08L414.15 536.29L414.25 538.54L413.88 540.73L413.46 542.92M420.75 543.18L423.9 541.72M417.61 548.97L420.25 548.97L420.25 549.98L421.89 553.35M423.67 533.03L423.59 530.81L423.72 528.58L423.33 526.37L421.95 524.23L420.67 522.03L419.33 521.03L421.03 519.73L422.15 517.85L423.81 516.51L425.33 515.03L426.25 513.35L426.36 511.36L427.33 509.7L428.29 507.58L429 505.37M273.33 486.37L272.67 488.37L274.45 489.17L276 490.37L277.74 490.85L279.33 491.7L281.81 491.03L284 489.7L285.09 491.14L286.67 492.03L288.26 493.16L290 494.03L291.91 495.21L294 496.03L295.47 494.58L297.33 493.7L299.63 494.48L302 495.03L304.34 495.51L306.67 496.03L305.09 496.83L303.27 496.81L301.56 497.17L300 498.03L298.39 499.29L296.67 500.37L295.49 502.05L293.91 503.4L292.67 505.03L290.64 506.6L288.33 507.7M288.33 507.7L290.82 508.05L293.33 508.03L294.92 507.17L296.33 506.03L297.46 507.44L299 508.37L302 509.5L303.76 510.12L305.14 511.36L306.67 512.37L308.38 513.13L310.17 513.66L312 514.03L314.04 514.76L316 515.7L316.75 517.67L317.33 519.7L317.67 523.03L316.71 525.16L315.33 527.03L317.33 528.37L317 531.7L316.67 534.7M326 534.7L325.33 531.7L325.84 529.71L326.18 527.69L326.67 525.7L328 523.7L329.78 524.07L331.33 525.03L330.56 523.41L330 521.7L331.53 520.2L333.33 519.03L334.87 517.39L336.67 516.03L338.22 517.09L340 517.7L342.09 518.52L344 519.7L345.21 521.24L346 523.03L346.11 525.05L345.75 527.03L345.67 529.03L344.02 529.81L342.67 531.03L342 533.03L344.45 532.53L346.67 531.37L349.33 533.03L350.67 534.7L350.75 537.23L351.33 539.7L350.33 542.03L349.33 544.37L347.6 545.62L346 547.03L344 549.7L346.67 551.7M302 509.37L303.55 508.36L305.04 507.25L306.67 506.37L309.33 504.37L311.33 502.7L312.67 505.37L312.06 507.72L311.33 510.03L312.5 508L313 505.7L316 505.03L318.67 507.03L320.67 509.7L324 510.37L325.69 509.23L327.33 508.03L329.07 507.48L330.86 507.32L332.67 507.37L334.46 506.72L336.33 506.37L335 508.7L337.03 509.08L339 509.7L340.67 512.37L342.33 514.37L340.58 514.47L339.08 515.57L337.33 515.7L335.59 514.74L333.82 513.83L332 513.03L330.19 513.21L328.44 513.66L326.67 514.03L324.72 514.74L322.67 515.03L321.33 513.7L322.48 515.63L323.33 517.7L321.61 518.96L320 520.37L318.67 523.03L317.84 524.63L317.33 526.37M320.67 517.03L320.73 519.06L320.23 521.03L320 523.03L319.33 524.98L319.13 527.04L318.67 529.03L318.24 530.91L317.86 532.79L317.67 534.7M317.33 529.7L317.06 531.52L316.18 533.19L316 535.03L315.97 536.84L315.49 538.58L315.33 540.37L315.84 542.7L316.33 545.03L317.41 547.28L318 549.7L320 551.37M326 529.7L325.68 531.81L324.67 533.7L325.79 535.98L326.67 538.37L327.06 540.69L327.33 543.03L326.19 545.31L325.33 547.7L323.33 550.37L321.64 550.78L320 551.37M350.67 553.37L351.86 554.76L352.99 556.2L353.99 557.76L355.33 559.03L354.41 557.15L352.85 555.73L351.67 554.03M384.67 579.7L386.27 581.52L387.33 583.7L388.84 582.54L390 581.03L391.33 583.03L392.67 585.03L394.17 584.13L395.45 582.95L396.67 581.7L395.75 583.46L395.02 585.32L394 587.03L392 586.73L390 586.37L388.05 587.01L386 587.03L384 587.21L382 587.07L380 587.03L382.01 587.68L383.99 588.38L386 589.03L387.73 589.62L389.57 589.34L391.33 589.7L389.83 590.61L388.86 592.15L387.33 593.03L389.11 592.7L390.89 593.09L392.67 593.03L391.04 594.84L390 597.03L391.96 597.59L394 597.7L394.49 599.6L395.26 601.39L396.27 603.1L396.67 605.03L395.53 603.11L393.77 601.65L392.67 599.7L390.87 599.67L389.14 599.01L387.33 599.03L388.86 600.17L390 601.7L388.27 601.09L386.42 601.48L384.67 601.03L386.02 603.02L387.33 605.03L385.64 603.97L383.78 603.25L382 602.37L382.61 604.28L383.63 606L384.67 607.7L379.33 599.03L380.11 600.83L381.04 602.57L381.37 604.52L382 606.37L379.97 606.5L378 607.03L378.55 608.75L379.33 610.37L378.15 611.85L376.67 613.03M299.33 642.03L301.1 641.19L302.67 640.03L304.77 640.4L306.67 641.37L305.33 644.03L303.3 644.16L301.33 644.7L304 646.7L306 646.38L308 646.03L308.69 647.69L309.33 649.37L307.33 649.47L305.33 649.37L303.41 648.46L301.33 648.03L298.67 649.37L300 652.03L301.85 651.86L303.57 651.22L305.33 650.7L306.95 651.33L308.42 652.2L309.75 653.36L311.33 654.03L310.38 652.6L309.33 651.22L309.16 649.35L308 648.03M362 677.03L366.67 685.03L365.65 683.17L365.14 681.06L363.63 679.42L363 677.37M248 662.03L250.01 661.61L251.95 660.94L254 660.7L254.96 662.16L256.13 663.44L257.33 664.7L256.65 666.76L255.67 668.7L257.28 669.54L258.67 670.7M347.33 654.7L348.46 656.64L349.33 658.7L350.25 660.6L351.78 662.12L352.67 664.03L353.27 665.84L354.35 667.46L354.67 669.37M309.23 589.93L308.38 591.86L307.66 593.85L306.87 595.88L305.77 597.75L304.6 599.98L303.88 602.4L303.26 604.48L302 605.48L301.05 607.39L300.11 609.31L299.31 610.85L298.65 612.47L297.59 613.87L297.12 615.54L296.87 617.24L296.42 618.91L296.34 620.65L297.13 622.47L297.59 624.39L298.22 625.88L297.48 627.91L296 629.52L295.08 631.44L294.52 633.52L293.63 635.49"/><path fill="#000" d="M383.57 578.75L384.46 576.16L386.24 574.13L388.19 572.13L390.19 570.1L391.76 567.68L394.43 568.1L395.7 570.1L397.31 572.51L397.65 573.91L396.59 576.33L396.21 580.36L395.15 583.58L393.92 586.42L392.14 588.25L391.42 590.83L392.48 595.88L386.96 595.88L387.51 591.64L385.9 588.84L384.46 587.23L385.9 585.19L385.52 582.78L383.95 579.98ZM376.36 567.21L392.05 566.58L386.96 570.82L382.3 570.39L378.48 572.3L376.36 570.61ZM395.45 561.7L399.69 561.7L400.53 564.24L397.14 567.64L395.02 566.36L397.57 564.24ZM400.96 561.7L406.9 561.7L405.2 565.94L403.5 570.18L400.53 573.15L399.26 571.45L402.23 568.06L402.65 564.24ZM407.81 547.94L429 547.72L429 553.45L426.47 554.51L419.69 555.57L417.99 557.69L413.75 559.39L409.08 560.45L404.42 562.35L402.51 561.51L402.72 558.96L404.21 555.57L406.96 553.45ZM413.11 560.23L414.81 560.23L414.17 563.2ZM423.5 541.57L426.47 543.69L425.62 546.66L429 547.72L422.23 547.94L423.93 545.82ZM340.33 532.03L342.33 530.7L344.33 532.03L344 534.7L342 536.37L340 534.7ZM315.33 522.37L319 519.7L320.67 522.37L319.33 527.7L316.33 528.37L314.67 526.37ZM379.33 598.03L383.87 601.87L382.79 602.86ZM377.33 606.03L379.7 610.8L378.3 611.27ZM363.33 615.37L369.69 618.06L368.98 619.34ZM359.33 620.37L363.77 622.78L362.89 623.95ZM353.67 625.57L358.89 626.47L358.44 627.87ZM396.67 605.37L392.72 600.77L393.94 599.96ZM379 586.7L386.17 587.65L385.83 589.08ZM261.67 642.7L262.73 649.33L261.27 649.4ZM246.67 661.37L253.48 661.98L253.19 663.42ZM269 609.03L270.73 616.94L269.27 617.12ZM283.33 617.03L276.56 616.76L276.78 615.31ZM302.33 539.03L299.27 544.78L298.06 543.95ZM311.33 654.03L307.35 649.83L308.65 648.9ZM378.48 587.15L383.99 586.3L383.99 587.99Z"/><path fill="#fff" d="M382.3 569.97L386.96 569.76L384.42 572.3ZM408.45 550.14L416.08 550.4L416.08 553.45L408.45 553.28ZM389.08 569.97L389.93 569.97L389.93 570.82L389.08 570.82ZM391.2 583.75L392.05 583.75L392.05 584.6L391.2 584.6ZM389.08 591.6L389.93 591.6L389.93 592.45L389.08 592.45Z"/></g>
<g><circle cx="424.3" cy="655.4" r="3.3" fill="#0810e6"/><circle cx="427.1" cy="654.9" r="3.3" fill="#0810e6"/><circle cx="423.3" cy="657.3" r="3.3" fill="#0a14ee"/><circle cx="425.5" cy="657.6" r="3.3" fill="#0000d8"/><circle cx="427.8" cy="657.5" r="3.3" fill="#0a14ee"/><circle cx="421.3" cy="659.6" r="3.3" fill="#0000d8"/><circle cx="423.9" cy="659.7" r="3.3" fill="#1028ff"/><circle cx="426" cy="659.7" r="3.3" fill="#0000d8"/><circle cx="428.8" cy="659.6" r="3.3" fill="#1028ff"/><circle cx="419.9" cy="661.6" r="3.3" fill="#0808e0"/><circle cx="422.6" cy="662.1" r="3.3" fill="#0810e6"/><circle cx="424.5" cy="661.8" r="3.3" fill="#0000d8"/><circle cx="426.8" cy="661.9" r="3.3" fill="#1028ff"/><circle cx="429.3" cy="661.8" r="3.3" fill="#0000d8"/><circle cx="418.6" cy="663.7" r="3.3" fill="#0a14ee"/><circle cx="421" cy="664.2" r="3.3" fill="#0a14ee"/><circle cx="423.7" cy="664.2" r="3.3" fill="#0808e0"/><circle cx="426.6" cy="663.9" r="3.3" fill="#0000d8"/><circle cx="429.4" cy="664.1" r="3.3" fill="#0808e0"/><circle cx="416.7" cy="666" r="3.3" fill="#1028ff"/><circle cx="419.6" cy="666.4" r="3.3" fill="#0808e0"/><circle cx="421.9" cy="666.4" r="3.3" fill="#0808e0"/><circle cx="424.7" cy="666.5" r="3.3" fill="#0000d8"/><circle cx="427.2" cy="666.3" r="3.3" fill="#0a14ee"/><circle cx="429.5" cy="666.1" r="3.3" fill="#1028ff"/><circle cx="415.4" cy="668.2" r="3.3" fill="#0000d8"/><circle cx="418" cy="668.6" r="3.3" fill="#1028ff"/><circle cx="421.2" cy="668.5" r="3.3" fill="#0a14ee"/><circle cx="424.1" cy="668.4" r="3.3" fill="#0a14ee"/><circle cx="426.4" cy="668.2" r="3.3" fill="#0808e0"/><circle cx="429.5" cy="668.4" r="3.3" fill="#0a14ee"/><circle cx="415" cy="670.5" r="3.3" fill="#0808e0"/><circle cx="418.3" cy="670.9" r="3.3" fill="#0810e6"/><circle cx="420.6" cy="670.5" r="3.3" fill="#0000d8"/><circle cx="423.7" cy="670.8" r="3.3" fill="#1028ff"/><circle cx="426.3" cy="670.8" r="3.3" fill="#0000d8"/><circle cx="429.4" cy="670.8" r="3.3" fill="#1028ff"/><circle cx="415" cy="673" r="3.3" fill="#0808e0"/><circle cx="417.4" cy="672.9" r="3.3" fill="#0000d8"/><circle cx="419.6" cy="673.1" r="3.3" fill="#0808e0"/><circle cx="422.4" cy="672.7" r="3.3" fill="#0a14ee"/><circle cx="424.4" cy="672.7" r="3.3" fill="#0808e0"/><circle cx="427" cy="672.9" r="3.3" fill="#0810e6"/><circle cx="429.5" cy="672.9" r="3.3" fill="#0a14ee"/><circle cx="414.3" cy="675.1" r="3.3" fill="#0000d8"/><circle cx="417.1" cy="675" r="3.3" fill="#0000d8"/><circle cx="419.4" cy="675" r="3.3" fill="#0808e0"/><circle cx="421.7" cy="675" r="3.3" fill="#0810e6"/><circle cx="424.2" cy="674.9" r="3.3" fill="#0000d8"/><circle cx="427.2" cy="675.2" r="3.3" fill="#1028ff"/><circle cx="429.4" cy="675.1" r="3.3" fill="#0000d8"/><circle cx="414" cy="677.3" r="3.3" fill="#0808e0"/><circle cx="416.8" cy="676.9" r="3.3" fill="#0000d8"/><circle cx="419.2" cy="677.1" r="3.3" fill="#1028ff"/><circle cx="421.9" cy="677.1" r="3.3" fill="#0810e6"/><circle cx="424.3" cy="677.5" r="3.3" fill="#0a14ee"/><circle cx="427.1" cy="677" r="3.3" fill="#1028ff"/><circle cx="429.6" cy="677.1" r="3.3" fill="#0000d8"/><circle cx="414.2" cy="679.4" r="3.3" fill="#0000d8"/><circle cx="416.5" cy="679.6" r="3.3" fill="#0808e0"/><circle cx="419.1" cy="679.4" r="3.3" fill="#0808e0"/><circle cx="421.6" cy="679.7" r="3.3" fill="#0000d8"/><circle cx="424.1" cy="679.4" r="3.3" fill="#0a14ee"/><circle cx="426.5" cy="679.4" r="3.3" fill="#1028ff"/><circle cx="429.5" cy="679.3" r="3.3" fill="#0808e0"/><circle cx="413.6" cy="681.6" r="3.3" fill="#0810e6"/><circle cx="416.1" cy="681.9" r="3.3" fill="#0810e6"/><circle cx="419.1" cy="681.3" r="3.3" fill="#0a14ee"/><circle cx="421.3" cy="681.4" r="3.3" fill="#0000d8"/><circle cx="424.4" cy="681.4" r="3.3" fill="#0808e0"/><circle cx="426.8" cy="681.4" r="3.3" fill="#0808e0"/><circle cx="429.2" cy="681.8" r="3.3" fill="#0810e6"/><circle cx="413.1" cy="683.6" r="3.3" fill="#0808e0"/><circle cx="416.1" cy="683.5" r="3.3" fill="#0000d8"/><circle cx="418.8" cy="683.6" r="3.3" fill="#0808e0"/><circle cx="421.6" cy="683.6" r="3.3" fill="#0808e0"/><circle cx="423.7" cy="684.1" r="3.3" fill="#0000d8"/><circle cx="426.8" cy="683.9" r="3.3" fill="#1028ff"/><circle cx="429.4" cy="683.7" r="3.3" fill="#0810e6"/><circle cx="413.1" cy="685.8" r="3.3" fill="#1028ff"/><circle cx="415.5" cy="686" r="3.3" fill="#0a14ee"/><circle cx="418.7" cy="685.7" r="3.3" fill="#0000d8"/><circle cx="421.4" cy="686.2" r="3.3" fill="#0808e0"/><circle cx="423.8" cy="685.8" r="3.3" fill="#0000d8"/><circle cx="426.5" cy="686" r="3.3" fill="#1028ff"/><circle cx="429.3" cy="685.9" r="3.3" fill="#0000d8"/><circle cx="413.3" cy="688.5" r="3.3" fill="#0808e0"/><circle cx="416" cy="688.5" r="3.3" fill="#0808e0"/><circle cx="418.4" cy="688.1" r="3.3" fill="#0a14ee"/><circle cx="421.3" cy="688.2" r="3.3" fill="#0808e0"/><circle cx="424.1" cy="688.4" r="3.3" fill="#0000d8"/><circle cx="426.5" cy="688.3" r="3.3" fill="#0000d8"/><circle cx="429.6" cy="688.3" r="3.3" fill="#0808e0"/><circle cx="413.7" cy="690.2" r="3.3" fill="#0808e0"/><circle cx="416.2" cy="690.6" r="3.3" fill="#0808e0"/><circle cx="418.9" cy="690.6" r="3.3" fill="#1028ff"/><circle cx="421.6" cy="690.2" r="3.3" fill="#0808e0"/><circle cx="423.9" cy="690.1" r="3.3" fill="#0808e0"/><circle cx="426.8" cy="690.5" r="3.3" fill="#0810e6"/><circle cx="429.5" cy="690.5" r="3.3" fill="#0000d8"/><circle cx="414.1" cy="692.3" r="3.3" fill="#0000d8"/><circle cx="416.3" cy="692.6" r="3.3" fill="#0a14ee"/><circle cx="418.9" cy="692.8" r="3.3" fill="#0a14ee"/><circle cx="421.5" cy="692.4" r="3.3" fill="#0808e0"/><circle cx="424.2" cy="692.3" r="3.3" fill="#0808e0"/><circle cx="427" cy="692.9" r="3.3" fill="#0a14ee"/><circle cx="429.3" cy="692.6" r="3.3" fill="#1028ff"/><circle cx="414.1" cy="694.6" r="3.3" fill="#0000d8"/><circle cx="416.8" cy="694.9" r="3.3" fill="#1028ff"/><circle cx="419.3" cy="694.9" r="3.3" fill="#1028ff"/><circle cx="421.8" cy="695" r="3.3" fill="#0808e0"/><circle cx="424.3" cy="695" r="3.3" fill="#0808e0"/><circle cx="427" cy="695.1" r="3.3" fill="#1028ff"/><circle cx="429.5" cy="694.7" r="3.3" fill="#0808e0"/><circle cx="414.4" cy="697" r="3.3" fill="#0808e0"/><circle cx="417.1" cy="697.1" r="3.3" fill="#0808e0"/><circle cx="419.2" cy="697" r="3.3" fill="#0808e0"/><circle cx="421.9" cy="697.1" r="3.3" fill="#0810e6"/><circle cx="424.6" cy="697.2" r="3.3" fill="#0a14ee"/><circle cx="426.9" cy="697.2" r="3.3" fill="#0a14ee"/><circle cx="429.3" cy="696.8" r="3.3" fill="#0810e6"/><circle cx="414.7" cy="699.4" r="3.3" fill="#1028ff"/><circle cx="417.2" cy="699" r="3.3" fill="#0810e6"/><circle cx="419.9" cy="699.2" r="3.3" fill="#0000d8"/><circle cx="421.8" cy="699.1" r="3.3" fill="#1028ff"/><circle cx="424.2" cy="699" r="3.3" fill="#0810e6"/><circle cx="427.1" cy="699.4" r="3.3" fill="#1028ff"/><circle cx="429.6" cy="699.5" r="3.3" fill="#0a14ee"/></g>
<text class="b tk" y="466.7"><tspan x="214.9">100</tspan><tspan x="252.5">W</tspan></text><text class="dg" transform="translate(241.93 459.7) scale(1.23 0.89)">°</text>
<text class="b tk" y="466.7"><tspan x="284.1">90</tspan><tspan x="313.4">W</tspan></text><text class="dg" transform="translate(301.93 459.7) scale(1.23 0.89)">°</text>
<text class="b tk" y="466.7"><tspan x="348.3">80</tspan><tspan x="377.3">W</tspan></text><text class="dg" transform="translate(366.93 459.7) scale(1.23 0.89)">°</text>
<text class="b tk" y="466.7"><tspan x="411.4">70</tspan><tspan x="440.6">W</tspan></text><text class="dg" transform="translate(428.93 459.7) scale(1.23 0.89)">°</text>
<text class="b tk" y="501.7"><tspan x="146.2">48</tspan><tspan x="174.9">N</tspan></text><text class="dg" transform="translate(164.93 493.7) scale(1.23 0.89)">°</text>
<text class="b tk" y="520.7"><tspan x="146.2">46</tspan><tspan x="174.9">N</tspan></text><text class="dg" transform="translate(164.93 512.7) scale(1.23 0.89)">°</text>
<text class="b tk" y="537.1"><tspan x="146.2">44</tspan><tspan x="174.9">N</tspan></text><text class="dg" transform="translate(164.93 529.1) scale(1.23 0.89)">°</text>
<text class="b tk" y="555.4"><tspan x="146.2">42</tspan><tspan x="174.9">N</tspan></text><text class="dg" transform="translate(164.93 547.4) scale(1.23 0.89)">°</text>
<text class="b tk" y="572.7"><tspan x="146.2">40</tspan><tspan x="174.9">N</tspan></text><text class="dg" transform="translate(164.93 564.7) scale(1.23 0.89)">°</text>
<text class="b tk" y="587.7"><tspan x="146.2">38</tspan><tspan x="174.9">N</tspan></text><text class="dg" transform="translate(164.93 579.7) scale(1.23 0.89)">°</text>
<text class="b tk" y="603.7"><tspan x="146.2">36</tspan><tspan x="174.9">N</tspan></text><text class="dg" transform="translate(164.93 595.7) scale(1.23 0.89)">°</text>
<text class="b tk" y="618.7"><tspan x="146.2">34</tspan><tspan x="174.9">N</tspan></text><text class="dg" transform="translate(164.93 610.7) scale(1.23 0.89)">°</text>
<text class="b tk" y="634.7"><tspan x="146.2">32</tspan><tspan x="174.9">N</tspan></text><text class="dg" transform="translate(164.93 626.7) scale(1.23 0.89)">°</text>
<text class="b tk" y="649.7"><tspan x="146.2">30</tspan><tspan x="174.9">N</tspan></text><text class="dg" transform="translate(164.93 641.7) scale(1.23 0.89)">°</text>
<text class="b tk" y="662.3"><tspan x="146.2">28</tspan><tspan x="174.9">N</tspan></text><text class="dg" transform="translate(164.93 654.3) scale(1.23 0.89)">°</text>
<text class="b tk" y="676.6"><tspan x="146.2">26</tspan><tspan x="174.9">N</tspan></text><text class="dg" transform="translate(164.93 668.6) scale(1.23 0.89)">°</text>
<text class="b tk" y="691.3"><tspan x="146.2">24</tspan><tspan x="174.9">N</tspan></text><text class="dg" transform="translate(164.93 683.3) scale(1.23 0.89)">°</text>
<text class="b tk" y="703.7"><tspan x="146.2">22</tspan><tspan x="174.9">N</tspan></text><text class="dg" transform="translate(164.93 695.7) scale(1.23 0.89)">°</text>
<rect x="441" y="485.1" width="24" height="215.3" fill="url(#jet)"/>
<path d="M441.5 485.1V700.4M464.5 485.1V700.4M441 485.6H465M441 699.9H465" fill="none" stroke="#000" stroke-opacity="0.8" stroke-width="1"/>
<path d="M465 503.04h-2.2" stroke="#000" stroke-opacity="0.7" stroke-width="0.7"/><text class="b cb" x="472.8" y="511.04">10</text>
<path d="M465 547.9h-2.2" stroke="#000" stroke-opacity="0.7" stroke-width="0.7"/><text class="b cb" x="472.8" y="555.9">5</text>
<path d="M465 592.75h-2.2" stroke="#000" stroke-opacity="0.7" stroke-width="0.7"/><text class="b cb" x="472.8" y="600.75">0</text>
<path d="M465 637.6h-2.2" stroke="#000" stroke-opacity="0.7" stroke-width="0.7"/><text class="b cb" x="472.8" y="645.6">-5</text>
<path d="M465 682.46h-2.2" stroke="#000" stroke-opacity="0.7" stroke-width="0.7"/><text class="b cb" x="472.8" y="690.46">-10</text>
<text class="b xl" x="307.2" y="731" text-anchor="middle">SAT-RAP Negative Lifted Index</text>
</g>
<g id="panel5">
<rect class="sp" x="616.5" y="486.5" width="234" height="213"/>
<clipPath id="clip5"><rect x="615" y="485" width="236" height="215"/></clipPath>
<g clip-path="url(#clip5)"><path class="st h2" d="M635.01 515H682.92M635.01 541H670.72M616.65 558H648.39M647.59 566H690.78M641.61 594H661.28M694.32 594H723.24M721.05 598H726.07M697.97 621H716.82M726.52 594H736.45M735.65 593H763.93M687.09 561H713.3M719.35 545H738.02M755.96 552H765.38M827.23 549H838.66"/><path class="st h3" d="M616.65 486.5H694.35M616.65 523.5H635.81M616.65 590.5H695.12M618.84 628.5H642.03M713.13 635.5H725.88M721.49 605.5H767.58M738.48 635.5H755.63M763.13 593.5H776.51M775.71 593.5H813.06M682.81 536.5H716.51M743.38 551.5H756.76M783.01 568.5H813.56M787.79 549.5H816.33M813.33 578.5H818.22M819.62 523.5H840.54M828.67 543.5H841.8"/><path class="st sv" d="M617.25 485V629.3M635.61 485V558.74M648.19 556.34V591.13M642.21 588.73V595.05M641.9 592.65V629.31M661.08 592.65V610.05M698.57 615.32V629.31M694.92 588.73V595.05M695.96 601.2V617.04M733.82 627.65V641.44M739.39 634.29V641.95M694.98 571.95V591.13M683.41 519.24V537.49M739.52 550.47V572.32M756.56 550.47V574.35M783.61 548.11V569.3M813.64 566.9V579.52M829.02 521.83V537.06M838.27 547.77V556.06M844.68 531.83V543.57M849.85 503.8V534.2"/><path class="st nat" d="M670.32 540.61L672.01 541.4L673.46 542.58L675.32 542.07L677.23 541.81L680.38 543.01L682.27 544.72L683.21 544.98M642.01 593.85L641.76 593.85M617.05 629.74L619.81 629.74L619.24 628.11M660.88 608.85L662.77 610.07L665.91 610.6L667.48 611.59L670.32 612.35L672.83 612.2L673.77 613.87L675.98 613.87L678.49 615.01L680.06 613.64L682.27 614.25L684.15 615.23L687.3 614.1L690.44 613.87L692.96 615.23L695.6 615.84L698.37 616.52M698.37 628.11L699.69 631.07L700.72 632.65L701.45 634.39L701.1 636.43L700.51 638.42L700.56 640.25L700.38 642.06L699.56 644.97M619.81 629.74L621.88 632.03L623.87 633.33L625.66 634.9L627.49 636.54L629.43 638.05L630.25 639.77L631.32 641.34L632.13 643.5L632.89 645.69L634.31 646.76L635.72 647.86L638.06 648.66L640.12 650.02L641.38 650.16L642.95 648.22L643.35 646.33L644.21 644.6L646.41 643.73L648.96 643.85L651.45 644.46L652.91 646.02L654.59 647.35L655.44 649.21L656.79 650.74L657.92 652.87L658.99 655.03L660.1 657.06L661.82 658.6L664.03 660.73L664.54 662.47L664.34 664.27L665.22 666.49L666.54 668.49L668.35 668.88L669.78 670.18L671.57 670.59L673.53 670.85L675.35 671.64L677.08 671.62L678.81 671.57M678.81 671.57L678.29 669.71L678.49 667.79L677.56 665.4L677.23 662.85L677.97 660.76L678.49 658.6L679.49 656.95L681.01 655.75L683.52 654.32L685.19 653.46L687 652.9L688.56 651.81L689.89 650.26L691.7 649.3L694.22 647.5L693.9 644.6L695.48 646.41L697.57 645.83L699.56 644.97M694.72 593.85L695.92 602.4M722.84 593.85L721.45 597.75M699.56 644.97L701.27 644.57L703.02 644.46L705.21 645.2L707.43 645.83L709.94 646.05L711.2 644.6L712.46 646.41L714.03 647.15L715.6 647.86L718.12 649.3L721.26 649.3L723.15 648.94L724.41 647.86L725.97 648.95L727.55 650.02L729.13 650.02L727.55 647.14L726.3 644.97L728.18 643.52L727.55 642.43L725.67 642.06L726.61 641.48M725.48 635.49L724.72 638.05L726.61 641.48M726.61 641.48L728.18 640.61L730.7 639.88L733.84 640.24L735.73 640.61L736.36 637.69L736.99 639.88L737.93 640.97L739.51 640.75M735.1 605.56L735.73 606.25L733.4 628.85M751.46 605.48L754.1 621.63L754.43 623.82L755.23 625.88L754.74 627.58L754.8 629.34L754.6 631.07L755.22 633.24L755.23 635.49M755.23 635.49L756.11 637.69L772.78 638.64L773.79 640.17L777.56 637.61M739.51 640.61L741.39 640.24L743.59 640.03L745.8 639.88L748.94 640.61L750.83 641.92L751.69 643.49L752.71 644.97L755.23 645.69L757.08 644.36L759 643.15L761.52 642.06L764.04 644.24L765.35 646.01L766.55 647.86L769.07 648.94L769.37 650.95L770.01 652.89L769.78 655.08L769.07 657.17L770.33 660.02L770.95 662.15L772.18 664.2L773.16 666.38L774.01 668.62L775.36 670.59L777.25 672.69L778.11 674.19L778.93 675.71L779.76 677.22L782.28 677.22L784.16 676.87L784.79 674.09L786.05 672.69L785.99 670.23L786.37 667.79L786.37 664.97L785.95 662.71L784.79 660.73L784.13 658.55L783.22 656.46L783.22 653.96L781.65 651.45L781.08 649.63L780.39 647.86L779.78 645.54L778.5 643.52L778.1 641.71L777.87 639.88L777.56 637.61M777.56 637.61L778.2 635.86L778.5 634.02L779.29 632.23L779.76 630.33L781.02 627.82L782.51 626.7L783.54 625.14L785.37 623.93L787.31 622.9L789.37 621.62L791.08 619.9L792.34 617.65L793.6 615.76L795.8 614.17M767.18 605.48L765.61 607.78L767.05 608.7L768.44 609.69L769.69 611.23L770.33 613.11L771.64 614.58L772.84 616.14L774.73 617.65L776.01 618.94L777.25 620.28L777.53 621.97L777.87 623.65L778.89 625.28L779.76 627L781.02 627.82M767.18 605.48L769.26 604.36L771.58 603.94L773.31 603.72L775.01 604.05L776.72 604.07L778.42 604.33L780.14 604.33L780.83 604.71L781.77 606.86L783.51 607.13L785.26 607.16L787.02 606.63L788.76 607.01L795.8 614.17M795.8 614.17L797.54 614.53L799.26 614.1L800.52 611.59L802.12 610.29L803.66 608.92L805.61 608.56L807.44 607.78L808.51 608.54L810.37 607L811.84 605.09L814.8 603.71L815.17 600.85L814.14 598.58L813.41 596.2L812.66 593.46M759.51 605.48L760.4 603.87L761.52 602.4L763.13 601.83L764.66 601.09L766.6 599.76L768.44 598.3L770.64 597.75L773.47 596.97L774.51 594.87L776.11 593.15M736.05 593.85L736.05 592.44M710.57 507.3L709.38 508.13L709.22 509.92L709.29 511.72L709.38 513.51L708.11 514.78L707.02 516.17L706.17 517.75L706.2 519.54L706.5 521.32L706.48 523.12L706.17 525.34L708.01 526.1L709.33 527.71L711.2 528.43L712.15 529.87L713.22 531.21L714.74 532.17L715.6 533.68L716.11 536.29L716.41 538.44L716.8 540.58L716.86 542.75L718.3 543.84L719.75 544.89L721.17 546.99L722.52 549.14L721.89 551.25L720.01 553.19L718.61 554.74L716.86 555.87L716.86 559.2L716.13 561.06L714.97 562.68L714.35 565.81L715.29 568.27L716.13 569.82L717.08 571.29L718.21 572.64L719.38 573.96L721.15 574.2L722.84 574.77L722.65 576.95L721.83 578.59L721.58 580.4L723.3 581.55L724.93 582.82L726.3 584.39L726.92 587.56L729.13 589.93M729.13 589.93L728.67 592.02L727.55 593.85L726.25 595.63L725.67 597.75L724.39 599.94L723.78 602.4L723.15 604.48L721.89 605.48L721.24 607.54L720.01 609.31L719.11 610.8L718.2 612.28L717.49 613.87L717.43 615.61L716.56 617.21L716.78 619L716.23 620.65L716.88 622.52L717.49 624.39L718.12 625.88L717.03 627.71L716.29 629.74L714.97 631.44L714.06 633.4L713.53 635.49M729.13 589.93L730.8 589.33L732.59 589.38L733.84 586.77L734.93 585.17L736.05 583.59L737.68 583.07L739.19 582.24L741.55 582.24L743.91 582.4L745.44 581.51L747.05 580.8L748.88 580.65L750.51 579.84L751.66 578.02L752.71 576.14L754.5 574.6L756.36 573.15L758.38 573.15L760.26 575.58L761.71 576.55L763.41 576.95L765.59 576.42L767.81 576.14L769.03 577.43L770.33 578.64L772.84 577.19L773.4 575.55L774.1 573.96L775.67 573.15L776.93 571.77L777.56 570.71L779.52 569.52L781.33 568.1L782.15 565.23L782.72 562.91L782.91 560.53L783.41 560.53M683.21 544.98L683.6 546.7L684.25 548.34L685.13 549.91L685.41 551.67L685.65 553.62L686.54 555.37L686.69 557.21L687.32 558.99L687.3 560.86L688.64 562.32L689.04 564.35L690.38 565.81L692.96 567.86L691.7 569.49L693.52 571.11L694.85 573.15M678.3 486.2L678.53 488.1L678.84 489.99L678.73 491.93L679.12 493.81L679.66 495.99L679.82 498.27L680.69 500.37L680.89 502.52L680.77 504.69L681.01 506.84L681.51 508.78L681.68 510.78L682.26 512.7L682.52 514.68L681.67 516.25L680.69 517.75L682.09 518.97L683.21 520.44M683.21 536.29L682.27 538.88L682.6 540.91L683.03 542.92L683.21 544.98M712.9 560.86L714.85 562.68M739.32 571.12L738.79 572.92L738.56 574.77L739.51 577.99L737.98 579.5L736.67 581.2L736.05 583.59M756.36 551.17L756.36 551.67M788.19 546.85L788.19 549.14M815.93 549.14L816.9 550.81L817.82 552.51L820.02 554.53L818.61 556.13L817.5 557.95L816.87 560.03L818.02 562.28L819.7 564.16L817.5 566.63L815.61 567.45M820.02 554.53L825.05 557.54M770.33 578.64L770.33 582L772.21 584.55L774.29 585.66L772.83 586.91L771.29 588.06L769.7 589.14L768.22 590.22L766.47 590.88L765.13 592.18L763.53 593.07M774.29 585.66L775.99 588.35L779.13 588.03L780.97 587.2L782.81 586.4L784.79 585.98L785.59 583.82L786.99 582L788.16 579.81L788.88 577.43L791.08 578.4L792.19 576.85L793.79 575.82L794.9 574.13L796.15 572.53L797.06 570.71L798.61 571.93L800.33 572.91L801.02 571.37M789.95 568.1L789.78 570.22L789.89 572.34L792.34 570.14L794.48 568.68L796.43 569.08L798 568.43L800.2 569.08L801.02 571.37L802.4 573.15L803.94 574.23L805.24 575.58L803.66 577.99L805.55 579.6L807.65 580.99L809.95 582M811.84 590.71L809.95 589.93L809.57 587.95L809.95 585.98L809.88 583.99L809.95 582L809.32 579.6L809.39 577.14L808.69 574.77L809.32 571.53L811.84 569.49L811.21 570.71L810.5 572.72L809.95 574.77L810.35 577.17L810.58 579.6L811.51 581.21L812.47 582.8L812.62 584.92L812.49 587.04L812.15 589.14L813.34 587.21L814.36 585.18L815.26 583.57L816.24 582L817.26 580.3L817.82 578.4L817.63 575.58L816.87 573.43L815.61 571.53L814.67 569.08L815.61 567.45M812.66 593.46L811.84 590.71M815.61 567.45L814.36 567.12L813.16 568.1M814.67 569.08L815.61 570.71L817.05 572.47L818.76 573.96L820.49 572.49L821.9 570.71L822.79 569.05L823.79 567.45L823.92 564.96L824.42 562.52L823.16 561.69L824.42 560.03L825.05 557.54M824.42 560.86L826.64 561L828.82 560.61L830.58 560.22L832.16 559.35L833.86 558.79L835.91 557.88L837.94 556.95L835.11 556.29L833.23 557.7L831.33 557.62L829.45 557.95L827.64 558.02L825.99 558.79L824.42 560.86M825.05 557.54L826.56 557.54L828.75 556.98L830.71 555.87L832.59 555.5L834.48 555.28L836.18 555.03L837.88 554.86L840.14 554.45L840.77 551.67L842.03 553.35L842.54 553.35L845.18 551.67L845.49 552.93L847.53 552.4L849.58 551.92M849.58 549.56L846.43 550.83L845.81 549.14L843.92 546.59L844.55 544.04L845.81 543.61L844.55 541.72L845.18 539.92L846.2 538.47L847.31 537.08L848.01 535.42L849.58 534.12M826.56 557.54L827.69 555.87L827.25 555.03L827.62 552.94L827.75 550.84L827.63 548.72L828.21 546.75L828.79 544.79L829.07 542.75L829.2 541.03L829.36 539.31L829.44 537.58L829.14 535.86M820.02 523.12L818.1 523.94L816.24 524.89L814.44 525.94L813.28 527.75L811.4 528.72L809.95 530.18L809.81 532.11L810.46 533.96L810.58 535.86L809.01 536.88L807.39 537.81L805.55 538.28L803.49 537.7L801.35 537.73L799.26 537.42L797.06 537.71L794.81 537.74L792.66 538.37L793.03 540.16L793.6 541.9L792.31 543.2L790.93 544.42L789.64 545.71L788.19 546.85L786.67 547.81L784.92 548.34L783.41 549.31L781.73 550.64L779.54 551.04L777.84 552.34L775.99 553.35L773.9 553.7L771.81 553.88L769.7 553.77L768.27 552.69L766.49 552.32L764.98 551.42M840.14 523.03L839.79 525.28L839.52 527.54L838.64 529.05L837.66 530.5L836.69 531.94L835.66 534.08L834.8 536.29L834.9 538.54L834.53 540.73L834.11 542.92M841.4 543.18L844.55 541.72M838.26 548.97L840.9 548.97L840.9 549.98L842.54 553.35M844.32 533.03L844.24 530.81L844.37 528.58L843.98 526.37L842.6 524.23L841.32 522.03L839.98 521.03L841.68 519.73L842.8 517.85L844.46 516.51L845.98 515.03L846.9 513.35L847.01 511.36L847.98 509.7L848.94 507.58L849.65 505.37M693.98 486.37L693.32 488.37L695.1 489.17L696.65 490.37L698.39 490.85L699.98 491.7L702.46 491.03L704.65 489.7L705.74 491.14L707.32 492.03L708.91 493.16L710.65 494.03L712.56 495.21L714.65 496.03L716.12 494.58L717.98 493.7L720.28 494.48L722.65 495.03L724.99 495.51L727.32 496.03L725.74 496.83L723.92 496.81L722.21 497.17L720.65 498.03L719.04 499.29L717.32 500.37L716.14 502.05L714.56 503.4L713.32 505.03L711.29 506.6L708.98 507.7M708.98 507.7L711.47 508.05L713.98 508.03L715.57 507.17L716.98 506.03L718.11 507.44L719.65 508.37L722.65 509.5L724.41 510.12L725.79 511.36L727.32 512.37L729.03 513.13L730.82 513.66L732.65 514.03L734.69 514.76L736.65 515.7L737.4 517.67L737.98 519.7L738.32 523.03L737.36 525.16L735.98 527.03L737.98 528.37L737.65 531.7L737.32 534.7M746.65 534.7L745.98 531.7L746.49 529.71L746.83 527.69L747.32 525.7L748.65 523.7L750.43 524.07L751.98 525.03L751.21 523.41L750.65 521.7L752.18 520.2L753.98 519.03L755.52 517.39L757.32 516.03L758.87 517.09L760.65 517.7L762.74 518.52L764.65 519.7L765.86 521.24L766.65 523.03L766.76 525.05L766.4 527.03L766.32 529.03L764.67 529.81L763.32 531.03L762.65 533.03L765.1 532.53L767.32 531.37L769.98 533.03L771.32 534.7L771.4 537.23L771.98 539.7L770.98 542.03L769.98 544.37L768.25 545.62L766.65 547.03L764.65 549.7L767.32 551.7M722.65 509.37L724.2 508.36L725.69 507.25L727.32 506.37L729.98 504.37L731.98 502.7L733.32 505.37L732.71 507.72L731.98 510.03L733.15 508L733.65 505.7L736.65 505.03L739.32 507.03L741.32 509.7L744.65 510.37L746.34 509.23L747.98 508.03L749.72 507.48L751.51 507.32L753.32 507.37L755.11 506.72L756.98 506.37L755.65 508.7L757.68 509.08L759.65 509.7L761.32 512.37L762.98 514.37L761.23 514.47L759.73 515.57L757.98 515.7L756.24 514.74L754.47 513.83L752.65 513.03L750.84 513.21L749.09 513.66L747.32 514.03L745.37 514.74L743.32 515.03L741.98 513.7L743.13 515.63L743.98 517.7L742.26 518.96L740.65 520.37L739.32 523.03L738.49 524.63L737.98 526.37M741.32 517.03L741.38 519.06L740.88 521.03L740.65 523.03L739.98 524.98L739.78 527.04L739.32 529.03L738.89 530.91L738.51 532.79L738.32 534.7M737.98 529.7L737.71 531.52L736.83 533.19L736.65 535.03L736.62 536.84L736.14 538.58L735.98 540.37L736.49 542.7L736.98 545.03L738.06 547.28L738.65 549.7L740.65 551.37M746.65 529.7L746.33 531.81L745.32 533.7L746.44 535.98L747.32 538.37L747.71 540.69L747.98 543.03L746.84 545.31L745.98 547.7L743.98 550.37L742.29 550.78L740.65 551.37M771.32 553.37L772.51 554.76L773.64 556.2L774.64 557.76L775.98 559.03L775.06 557.15L773.5 555.73L772.32 554.03M805.32 579.7L806.92 581.52L807.98 583.7L809.49 582.54L810.65 581.03L811.98 583.03L813.32 585.03L814.82 584.13L816.1 582.95L817.32 581.7L816.4 583.46L815.67 585.32L814.65 587.03L812.65 586.73L810.65 586.37L808.7 587.01L806.65 587.03L804.65 587.21L802.65 587.07L800.65 587.03L802.66 587.68L804.64 588.38L806.65 589.03L808.38 589.62L810.22 589.34L811.98 589.7L810.48 590.61L809.51 592.15L807.98 593.03L809.76 592.7L811.54 593.09L813.32 593.03L811.69 594.84L810.65 597.03L812.61 597.59L814.65 597.7L815.14 599.6L815.91 601.39L816.92 603.1L817.32 605.03L816.18 603.11L814.42 601.65L813.32 599.7L811.52 599.67L809.79 599.01L807.98 599.03L809.51 600.17L810.65 601.7L808.92 601.09L807.07 601.48L805.32 601.03L806.67 603.02L807.98 605.03L806.29 603.97L804.43 603.25L802.65 602.37L803.26 604.28L804.28 606L805.32 607.7L799.98 599.03L800.76 600.83L801.69 602.57L802.02 604.52L802.65 606.37L800.62 606.5L798.65 607.03L799.2 608.75L799.98 610.37L798.8 611.85L797.32 613.03M719.98 642.03L721.75 641.19L723.32 640.03L725.42 640.4L727.32 641.37L725.98 644.03L723.95 644.16L721.98 644.7L724.65 646.7L726.65 646.38L728.65 646.03L729.34 647.69L729.98 649.37L727.98 649.47L725.98 649.37L724.06 648.46L721.98 648.03L719.32 649.37L720.65 652.03L722.5 651.86L724.22 651.22L725.98 650.7L727.6 651.33L729.07 652.2L730.4 653.36L731.98 654.03L731.03 652.6L729.98 651.22L729.81 649.35L728.65 648.03M782.65 677.03L787.32 685.03L786.3 683.17L785.79 681.06L784.28 679.42L783.65 677.37M668.65 662.03L670.66 661.61L672.6 660.94L674.65 660.7L675.61 662.16L676.78 663.44L677.98 664.7L677.3 666.76L676.32 668.7L677.93 669.54L679.32 670.7M767.98 654.7L769.11 656.64L769.98 658.7L770.9 660.6L772.43 662.12L773.32 664.03L773.92 665.84L775 667.46L775.32 669.37M729.88 589.93L729.03 591.86L728.31 593.85L727.52 595.88L726.42 597.75L725.25 599.98L724.53 602.4L723.91 604.48L722.65 605.48L721.7 607.39L720.76 609.31L719.96 610.85L719.3 612.47L718.24 613.87L717.77 615.54L717.52 617.24L717.07 618.91L716.99 620.65L717.78 622.47L718.24 624.39L718.87 625.88L718.13 627.91L716.65 629.52L715.73 631.44L715.17 633.52L714.28 635.49"/><path fill="#000" d="M804.22 578.75L805.11 576.16L806.89 574.13L808.84 572.13L810.84 570.1L812.41 567.68L815.08 568.1L816.35 570.1L817.96 572.51L818.3 573.91L817.24 576.33L816.86 580.36L815.8 583.58L814.57 586.42L812.79 588.25L812.07 590.83L813.13 595.88L807.61 595.88L808.16 591.64L806.55 588.84L805.11 587.23L806.55 585.19L806.17 582.78L804.6 579.98ZM797.01 567.21L812.7 566.58L807.61 570.82L802.95 570.39L799.13 572.3L797.01 570.61ZM816.1 561.7L820.34 561.7L821.18 564.24L817.79 567.64L815.67 566.36L818.22 564.24ZM821.61 561.7L827.55 561.7L825.85 565.94L824.15 570.18L821.18 573.15L819.91 571.45L822.88 568.06L823.3 564.24ZM828.46 547.94L849.65 547.72L849.65 553.45L847.12 554.51L840.34 555.57L838.64 557.69L834.4 559.39L829.73 560.45L825.07 562.35L823.16 561.51L823.37 558.96L824.86 555.57L827.61 553.45ZM833.76 560.23L835.46 560.23L834.82 563.2ZM844.15 541.57L847.12 543.69L846.27 546.66L849.65 547.72L842.88 547.94L844.58 545.82ZM760.98 532.03L762.98 530.7L764.98 532.03L764.65 534.7L762.65 536.37L760.65 534.7ZM735.98 522.37L739.65 519.7L741.32 522.37L739.98 527.7L736.98 528.37L735.32 526.37ZM799.98 598.03L804.52 601.87L803.44 602.86ZM797.98 606.03L800.35 610.8L798.95 611.27ZM783.98 615.37L790.34 618.06L789.63 619.34ZM779.98 620.37L784.42 622.78L783.54 623.95ZM774.32 625.57L779.54 626.47L779.09 627.87ZM817.32 605.37L813.37 600.77L814.59 599.96ZM799.65 586.7L806.82 587.65L806.48 589.08ZM682.32 642.7L683.38 649.33L681.92 649.4ZM667.32 661.37L674.13 661.98L673.84 663.42ZM689.65 609.03L691.38 616.94L689.92 617.12ZM703.98 617.03L697.21 616.76L697.43 615.31ZM722.98 539.03L719.92 544.78L718.71 543.95ZM731.98 654.03L728 649.83L729.3 648.9ZM799.13 587.15L804.64 586.3L804.64 587.99Z"/><path fill="#fff" d="M802.95 569.97L807.61 569.76L805.07 572.3ZM829.1 550.14L836.73 550.4L836.73 553.45L829.1 553.28ZM809.73 569.97L810.58 569.97L810.58 570.82L809.73 570.82ZM811.85 583.75L812.7 583.75L812.7 584.6L811.85 584.6ZM809.73 591.6L810.58 591.6L810.58 592.45L809.73 592.45Z"/></g>
<g><circle cx="845.4" cy="655" r="3.3" fill="#0a30e0"/><circle cx="847.9" cy="655" r="3.3" fill="#0a30e0"/><circle cx="844" cy="657.3" r="3.3" fill="#0a30e0"/><circle cx="846.5" cy="657.2" r="3.3" fill="#0a30e0"/><circle cx="848.9" cy="657.1" r="3.3" fill="#0a30e0"/><circle cx="842.2" cy="659.7" r="3.3" fill="#28d8ff"/><circle cx="845.1" cy="659.8" r="3.3" fill="#20e0ff"/><circle cx="847.5" cy="659.4" r="3.3" fill="#20e0ff"/><circle cx="849.4" cy="659.9" r="3.3" fill="#30f0e8"/><circle cx="840.9" cy="661.7" r="3.3" fill="#28d8ff"/><circle cx="843.6" cy="661.6" r="3.3" fill="#28d8ff"/><circle cx="845.9" cy="661.9" r="3.3" fill="#20e0ff"/><circle cx="848.1" cy="661.8" r="3.3" fill="#30f0e8"/><circle cx="850.3" cy="662.1" r="3.3" fill="#20e0ff"/><circle cx="839.5" cy="664.3" r="3.3" fill="#20e0ff"/><circle cx="842.4" cy="663.9" r="3.3" fill="#20e0ff"/><circle cx="845.2" cy="664.2" r="3.3" fill="#20e0ff"/><circle cx="847.9" cy="664" r="3.3" fill="#30f0e8"/><circle cx="850.3" cy="664.2" r="3.3" fill="#30f0e8"/><circle cx="838.1" cy="666.3" r="3.3" fill="#20e0ff"/><circle cx="840.7" cy="666.4" r="3.3" fill="#20e0ff"/><circle cx="843.2" cy="666.4" r="3.3" fill="#20e0ff"/><circle cx="845.5" cy="666.2" r="3.3" fill="#28d8ff"/><circle cx="848.1" cy="666.2" r="3.3" fill="#28d8ff"/><circle cx="850.1" cy="666.2" r="3.3" fill="#28d8ff"/><circle cx="836.6" cy="668.4" r="3.3" fill="#80ff78"/><circle cx="839.2" cy="668.6" r="3.3" fill="#78ff80"/><circle cx="841.8" cy="668.3" r="3.3" fill="#80ff78"/><circle cx="844.8" cy="668.6" r="3.3" fill="#7dff7a"/><circle cx="847.4" cy="668.3" r="3.3" fill="#7dff7a"/><circle cx="850.6" cy="668.3" r="3.3" fill="#78ff80"/><circle cx="836" cy="670.5" r="3.3" fill="#7dff7a"/><circle cx="838.8" cy="670.6" r="3.3" fill="#80ff78"/><circle cx="841.7" cy="670.7" r="3.3" fill="#80ff78"/><circle cx="845" cy="670.9" r="3.3" fill="#78ff80"/><circle cx="847.8" cy="670.5" r="3.3" fill="#80ff78"/><circle cx="850.6" cy="670.9" r="3.3" fill="#80ff78"/><circle cx="835.9" cy="672.7" r="3.3" fill="#78ff80"/><circle cx="838.6" cy="673" r="3.3" fill="#78ff80"/><circle cx="840.6" cy="672.6" r="3.3" fill="#78ff80"/><circle cx="843.3" cy="672.5" r="3.3" fill="#7dff7a"/><circle cx="845.6" cy="673.1" r="3.3" fill="#7dff7a"/><circle cx="847.8" cy="673" r="3.3" fill="#7dff7a"/><circle cx="850.5" cy="672.9" r="3.3" fill="#78ff80"/><circle cx="835.6" cy="674.8" r="3.3" fill="#78ff80"/><circle cx="838.3" cy="674.9" r="3.3" fill="#78ff80"/><circle cx="840.4" cy="674.8" r="3.3" fill="#78ff80"/><circle cx="843" cy="675.1" r="3.3" fill="#7dff7a"/><circle cx="845.4" cy="674.7" r="3.3" fill="#80ff78"/><circle cx="847.7" cy="675.1" r="3.3" fill="#80ff78"/><circle cx="850.3" cy="675" r="3.3" fill="#80ff78"/><circle cx="835.4" cy="677" r="3.3" fill="#80ff78"/><circle cx="837.8" cy="677.3" r="3.3" fill="#7dff7a"/><circle cx="840" cy="677.2" r="3.3" fill="#78ff80"/><circle cx="842.7" cy="677.4" r="3.3" fill="#7dff7a"/><circle cx="845.3" cy="677.5" r="3.3" fill="#78ff80"/><circle cx="847.8" cy="677.1" r="3.3" fill="#78ff80"/><circle cx="850.6" cy="676.9" r="3.3" fill="#7dff7a"/><circle cx="835" cy="679.3" r="3.3" fill="#7dff7a"/><circle cx="837.3" cy="679.3" r="3.3" fill="#7dff7a"/><circle cx="840.3" cy="679.3" r="3.3" fill="#7dff7a"/><circle cx="842.9" cy="679.6" r="3.3" fill="#7dff7a"/><circle cx="845.5" cy="679.7" r="3.3" fill="#78ff80"/><circle cx="847.9" cy="679.7" r="3.3" fill="#80ff78"/><circle cx="850.2" cy="679.7" r="3.3" fill="#7dff7a"/><circle cx="834.7" cy="681.6" r="3.3" fill="#7dff7a"/><circle cx="837.4" cy="681.6" r="3.3" fill="#78ff80"/><circle cx="839.8" cy="681.8" r="3.3" fill="#80ff78"/><circle cx="842.3" cy="681.7" r="3.3" fill="#80ff78"/><circle cx="845" cy="681.6" r="3.3" fill="#80ff78"/><circle cx="848" cy="681.7" r="3.3" fill="#80ff78"/><circle cx="850.3" cy="681.5" r="3.3" fill="#78ff80"/><circle cx="834.5" cy="683.5" r="3.3" fill="#80ff78"/><circle cx="837" cy="683.6" r="3.3" fill="#7dff7a"/><circle cx="839.8" cy="683.9" r="3.3" fill="#78ff80"/><circle cx="842.6" cy="683.6" r="3.3" fill="#78ff80"/><circle cx="845.3" cy="683.9" r="3.3" fill="#7dff7a"/><circle cx="848" cy="683.6" r="3.3" fill="#78ff80"/><circle cx="850.1" cy="683.7" r="3.3" fill="#7dff7a"/><circle cx="833.9" cy="685.8" r="3.3" fill="#78ff80"/><circle cx="836.5" cy="686.2" r="3.3" fill="#7dff7a"/><circle cx="839.5" cy="686" r="3.3" fill="#78ff80"/><circle cx="842.2" cy="686.3" r="3.3" fill="#80ff78"/><circle cx="844.8" cy="686.2" r="3.3" fill="#80ff78"/><circle cx="847.7" cy="686" r="3.3" fill="#78ff80"/><circle cx="850.2" cy="686" r="3.3" fill="#78ff80"/><circle cx="834.2" cy="688.5" r="3.3" fill="#7dff7a"/><circle cx="836.9" cy="688.4" r="3.3" fill="#80ff78"/><circle cx="839.5" cy="688.1" r="3.3" fill="#80ff78"/><circle cx="842.1" cy="688.4" r="3.3" fill="#7dff7a"/><circle cx="845.1" cy="688.4" r="3.3" fill="#7dff7a"/><circle cx="847.6" cy="688.5" r="3.3" fill="#80ff78"/><circle cx="850.4" cy="688.3" r="3.3" fill="#78ff80"/><circle cx="834.7" cy="690.5" r="3.3" fill="#78ff80"/><circle cx="837.5" cy="690.6" r="3.3" fill="#80ff78"/><circle cx="840" cy="690.6" r="3.3" fill="#78ff80"/><circle cx="842.2" cy="690.3" r="3.3" fill="#80ff78"/><circle cx="845" cy="690.7" r="3.3" fill="#7dff7a"/><circle cx="848" cy="690.4" r="3.3" fill="#7dff7a"/><circle cx="850.5" cy="690.4" r="3.3" fill="#78ff80"/><circle cx="835" cy="692.8" r="3.3" fill="#78ff80"/><circle cx="837.5" cy="692.4" r="3.3" fill="#78ff80"/><circle cx="840" cy="692.8" r="3.3" fill="#78ff80"/><circle cx="842.3" cy="692.7" r="3.3" fill="#80ff78"/><circle cx="845.2" cy="692.9" r="3.3" fill="#78ff80"/><circle cx="847.6" cy="692.6" r="3.3" fill="#78ff80"/><circle cx="850.1" cy="692.4" r="3.3" fill="#80ff78"/><circle cx="835.3" cy="694.8" r="3.3" fill="#7dff7a"/><circle cx="837.8" cy="694.8" r="3.3" fill="#80ff78"/><circle cx="840" cy="695" r="3.3" fill="#7dff7a"/><circle cx="842.6" cy="694.9" r="3.3" fill="#7dff7a"/><circle cx="845.4" cy="694.9" r="3.3" fill="#78ff80"/><circle cx="847.8" cy="694.6" r="3.3" fill="#78ff80"/><circle cx="850.2" cy="694.6" r="3.3" fill="#78ff80"/><circle cx="835.6" cy="696.9" r="3.3" fill="#78ff80"/><circle cx="837.8" cy="697.2" r="3.3" fill="#80ff78"/><circle cx="840.5" cy="696.8" r="3.3" fill="#7dff7a"/><circle cx="843.2" cy="697.2" r="3.3" fill="#78ff80"/><circle cx="845.6" cy="697.3" r="3.3" fill="#80ff78"/><circle cx="847.8" cy="697" r="3.3" fill="#7dff7a"/><circle cx="850.2" cy="697" r="3.3" fill="#80ff78"/><circle cx="835.7" cy="699.2" r="3.3" fill="#78ff80"/><circle cx="838.3" cy="699.3" r="3.3" fill="#80ff78"/><circle cx="840.7" cy="699" r="3.3" fill="#7dff7a"/><circle cx="843.2" cy="699.5" r="3.3" fill="#78ff80"/><circle cx="845.5" cy="699.1" r="3.3" fill="#78ff80"/><circle cx="847.8" cy="699.4" r="3.3" fill="#7dff7a"/><circle cx="850.2" cy="699.1" r="3.3" fill="#7dff7a"/></g>
<text class="b tk" y="466.7"><tspan x="635.9">100</tspan><tspan x="673.5">W</tspan></text><text class="dg" transform="translate(661.93 459.7) scale(1.23 0.89)">°</text>
<text class="b tk" y="466.7"><tspan x="705.1">90</tspan><tspan x="734.4">W</tspan></text><text class="dg" transform="translate(721.93 459.7) scale(1.23 0.89)">°</text>
<text class="b tk" y="466.7"><tspan x="769.3">80</tspan><tspan x="798.3">W</tspan></text><text class="dg" transform="translate(786.93 459.7) scale(1.23 0.89)">°</text>
<text class="b tk" y="466.7"><tspan x="832.4">70</tspan><tspan x="861.6">W</tspan></text><text class="dg" transform="translate(848.93 459.7) scale(1.23 0.89)">°</text>
<text class="b tk" y="501.7"><tspan x="567.2">48</tspan><tspan x="595.9">N</tspan></text><text class="dg" transform="translate(584.93 493.7) scale(1.23 0.89)">°</text>
<text class="b tk" y="520.7"><tspan x="567.2">46</tspan><tspan x="595.9">N</tspan></text><text class="dg" transform="translate(584.93 512.7) scale(1.23 0.89)">°</text>
<text class="b tk" y="537.1"><tspan x="567.2">44</tspan><tspan x="595.9">N</tspan></text><text class="dg" transform="translate(584.93 529.1) scale(1.23 0.89)">°</text>
<text class="b tk" y="555.4"><tspan x="567.2">42</tspan><tspan x="595.9">N</tspan></text><text class="dg" transform="translate(584.93 547.4) scale(1.23 0.89)">°</text>
<text class="b tk" y="572.7"><tspan x="567.2">40</tspan><tspan x="595.9">N</tspan></text><text class="dg" transform="translate(584.93 564.7) scale(1.23 0.89)">°</text>
<text class="b tk" y="587.7"><tspan x="567.2">38</tspan><tspan x="595.9">N</tspan></text><text class="dg" transform="translate(584.93 579.7) scale(1.23 0.89)">°</text>
<text class="b tk" y="603.7"><tspan x="567.2">36</tspan><tspan x="595.9">N</tspan></text><text class="dg" transform="translate(584.93 595.7) scale(1.23 0.89)">°</text>
<text class="b tk" y="618.7"><tspan x="567.2">34</tspan><tspan x="595.9">N</tspan></text><text class="dg" transform="translate(584.93 610.7) scale(1.23 0.89)">°</text>
<text class="b tk" y="634.7"><tspan x="567.2">32</tspan><tspan x="595.9">N</tspan></text><text class="dg" transform="translate(584.93 626.7) scale(1.23 0.89)">°</text>
<text class="b tk" y="649.7"><tspan x="567.2">30</tspan><tspan x="595.9">N</tspan></text><text class="dg" transform="translate(584.93 641.7) scale(1.23 0.89)">°</text>
<text class="b tk" y="662.3"><tspan x="567.2">28</tspan><tspan x="595.9">N</tspan></text><text class="dg" transform="translate(584.93 654.3) scale(1.23 0.89)">°</text>
<text class="b tk" y="676.6"><tspan x="567.2">26</tspan><tspan x="595.9">N</tspan></text><text class="dg" transform="translate(584.93 668.6) scale(1.23 0.89)">°</text>
<text class="b tk" y="691.3"><tspan x="567.2">24</tspan><tspan x="595.9">N</tspan></text><text class="dg" transform="translate(584.93 683.3) scale(1.23 0.89)">°</text>
<text class="b tk" y="703.7"><tspan x="567.2">22</tspan><tspan x="595.9">N</tspan></text><text class="dg" transform="translate(584.93 695.7) scale(1.23 0.89)">°</text>
<rect x="862" y="485.1" width="24" height="215.3" fill="url(#jet)"/>
<path d="M862.5 485.1V700.4M885.5 485.1V700.4M862 485.6H886M862 699.9H886" fill="none" stroke="#000" stroke-opacity="0.8" stroke-width="1"/>
<path d="M886 521.36h-2.2" stroke="#000" stroke-opacity="0.7" stroke-width="0.7"/><text class="b cb" x="893.8" y="529.36">500</text>
<path d="M886 592.75h-2.2" stroke="#000" stroke-opacity="0.7" stroke-width="0.7"/><text class="b cb" x="893.8" y="600.75">0</text>
<path d="M886 664.14h-2.2" stroke="#000" stroke-opacity="0.7" stroke-width="0.7"/><text class="b cb" x="893.8" y="672.14">-500</text>
<text class="b xl" x="727.7" y="731" text-anchor="middle">SAT-RAP CAPE</text>
</g>
<g id="panel6">
<rect class="sp" x="1037.5" y="485.5" width="235" height="215"/>
<clipPath id="clip6"><rect x="1036" y="484" width="237" height="217"/></clipPath>
<g clip-path="url(#clip6)"><path class="st h2" d="M1068.72 566H1112.17M1062.71 594H1082.49M1115.74 594H1144.82M1142.63 598H1147.67M1119.41 621H1138.37M1134.66 636H1147.48M1143.07 606H1189.43M1160.16 636H1177.41M1148.14 594H1158.11M1157.31 593H1185.76M1104.16 536H1138.05M1108.46 561H1134.82M1165.09 551H1178.55M1204.96 568H1235.69M1209.77 549H1238.47M1250.9 543H1264.1"/><path class="st h3" d="M1037.6 485.5H1115.76M1037.6 522.5H1056.87M1056.07 514.5H1104.26M1056.07 540.5H1091.99M1037.6 557.5H1069.52M1037.6 590.5H1116.54M1039.8 628.5H1063.13M1184.96 593.5H1198.42M1197.62 593.5H1235.18M1140.92 544.5H1159.69M1177.75 551.5H1187.22M1235.46 578.5H1240.37M1241.79 522.5H1262.84M1249.44 548.5H1260.94"/><path class="st sv" d="M1038.2 484.04V629.62M1056.67 484.04V558.42M1069.32 556.02V591.1M1063.31 588.7V595.06M1062.99 592.66V629.63M1082.29 592.66V610.19M1120.01 615.53V629.63M1116.34 588.7V595.06M1117.38 601.29V617.25M1155.47 627.98V641.87M1161.07 634.68V642.39M1116.4 571.78V591.1M1104.76 518.59V536.98M1161.2 550.1V572.13M1178.35 550.1V574.18M1205.56 547.72V569.08M1235.77 566.68V579.39M1251.25 521.2V536.54M1260.55 547.38V555.72M1267 531.3V543.11M1272.2 503.01V533.66"/><path class="st nat" d="M1091.59 540.14L1093.29 540.94L1094.75 542.13L1096.62 541.62L1098.55 541.35L1101.71 542.56L1103.61 544.29L1104.56 544.55M1063.11 593.86L1062.86 593.86M1038 630.08L1040.77 630.08L1040.2 628.43M1082.09 608.99L1083.99 610.23L1087.16 610.76L1088.74 611.76L1091.59 612.53L1094.12 612.38L1095.07 614.06L1097.28 614.06L1099.81 615.21L1101.39 613.83L1103.61 614.44L1105.51 615.44L1108.67 614.29L1111.83 614.06L1114.37 615.44L1117.02 616.05L1119.81 616.73M1119.81 628.43L1121.14 631.42L1122.17 633.01L1122.91 634.76L1122.55 636.82L1121.96 638.83L1122.02 640.67L1121.83 642.51L1121.01 645.44M1040.77 630.08L1042.86 632.39L1044.86 633.7L1046.66 635.28L1048.5 636.94L1050.46 638.46L1051.28 640.19L1052.35 641.77L1053.17 643.96L1053.94 646.17L1055.37 647.25L1056.78 648.35L1059.14 649.17L1061.21 650.53L1062.48 650.68L1064.06 648.72L1064.46 646.81L1065.33 645.07L1067.54 644.19L1069.26 644.19L1070.89 644.83L1072.6 644.92L1073.98 646.6L1075.77 647.84L1076.9 649.53L1077.98 651.26L1078.74 653.6L1080.2 655.6L1081.9 657.17L1083.04 659.19L1085.26 661.34L1085.17 663.15L1085.57 664.91L1086.98 666.89L1087.79 669.17L1089.36 670.17L1091.27 670.33L1092.85 671.3L1094.75 671.83L1096.65 672.36L1098.39 672.48L1100.13 672.28M1100.13 672.28L1099.61 670.4L1099.81 668.46L1099.09 666.88L1099.07 665.12L1098.55 663.48L1098.85 661.24L1099.81 659.19L1101.05 657.73L1102.34 656.32L1104.87 654.87L1106.69 654.28L1108.08 652.85L1109.94 652.35L1111.61 651.2L1113.1 649.81L1115.63 647.99L1115.32 645.07L1116.9 646.9L1118.93 646.11L1121.01 645.44M1116.14 593.86L1117.34 602.49M1144.42 593.86L1143.03 597.8M1121.01 645.44L1122.73 645.04L1124.49 644.92L1126.69 645.67L1128.92 646.31L1131.45 646.53L1132.72 645.07L1133.98 646.9L1135.56 647.64L1137.15 648.35L1139.68 649.81L1142.84 649.81L1144.74 649.44L1146 648.35L1147.58 649.45L1149.17 650.53L1150.75 650.53L1149.17 647.62L1147.9 645.44L1149.8 643.97L1149.17 642.87L1147.27 642.51L1148.22 641.92M1147.08 635.88L1146.32 638.46L1148.22 641.92M1148.22 641.92L1149.8 641.04L1152.33 640.3L1155.5 640.67L1157.39 641.04L1158.03 638.09L1158.66 640.3L1159.61 641.41L1161.19 641.19M1156.76 605.67L1157.39 606.37L1155.05 629.18M1173.21 605.59L1175.87 621.89L1176.21 624.1L1177.01 626.18L1176.52 627.89L1176.58 629.67L1176.38 631.42L1177 633.6L1177.01 635.88M1177.01 635.88L1177.9 638.09L1194.67 639.05L1195.68 640.6L1199.47 638.02M1161.19 641.04L1163.09 640.67L1165.3 640.46L1167.52 640.3L1170.68 641.04L1172.58 642.36L1173.45 643.95L1174.48 645.44L1177.01 646.17L1178.87 644.83L1180.81 643.61L1183.34 642.51L1185.87 644.71L1187.19 646.49L1188.4 648.35L1190.93 649.44L1191.24 651.48L1191.88 653.43L1191.64 655.64L1190.93 657.76L1192.2 660.63L1192.83 662.77L1194.07 664.84L1195.04 667.04L1195.9 669.3L1197.26 671.3L1199.16 673.41L1200.03 674.92L1200.85 676.46L1201.69 677.98L1204.22 677.98L1206.12 677.63L1206.75 674.82L1208.02 673.41L1207.96 670.92L1208.33 668.46L1208.33 665.62L1207.91 663.35L1206.75 661.34L1206.09 659.14L1205.17 657.04L1205.17 654.51L1203.59 651.98L1203.02 650.15L1202.32 648.35L1201.71 646.02L1200.42 643.97L1200.02 642.15L1199.79 640.3L1199.47 638.02M1199.47 638.02L1200.12 636.25L1200.42 634.39L1201.22 632.59L1201.69 630.67L1202.95 628.13L1204.45 627L1205.49 625.43L1207.33 624.21L1209.28 623.17L1211.36 621.88L1213.08 620.15L1214.34 617.87L1215.61 615.97L1217.82 614.37M1189.03 605.59L1187.45 607.91L1188.9 608.84L1190.3 609.84L1191.56 611.4L1192.2 613.3L1193.51 614.78L1194.73 616.35L1196.63 617.87L1197.91 619.18L1199.16 620.53L1199.44 622.23L1199.79 623.93L1200.81 625.58L1201.69 627.31L1202.95 628.13M1189.03 605.59L1191.13 604.47L1193.46 604.04L1195.2 603.82L1196.91 604.15L1198.63 604.17L1200.34 604.44L1202.07 604.43L1202.76 604.82L1203.71 606.99L1205.46 607.25L1207.22 607.29L1208.99 606.76L1210.74 607.14L1217.82 614.37M1217.82 614.37L1219.57 614.72L1221.3 614.29L1222.57 611.76L1224.18 610.45L1225.73 609.07L1227.7 608.7L1229.53 607.91L1230.61 608.69L1232.48 607.13L1233.96 605.21L1236.93 603.81L1237.31 600.93L1236.28 598.63L1235.54 596.23L1234.78 593.47M1181.31 605.59L1182.21 603.97L1183.34 602.49L1184.96 601.91L1186.5 601.16L1188.45 599.82L1190.3 598.35L1192.51 597.8L1195.36 597.01L1196.41 594.89L1198.02 593.15M1157.71 593.86L1157.71 592.44M1132.08 506.54L1130.88 507.37L1130.73 509.18L1130.8 510.99L1130.88 512.79L1129.61 514.08L1128.51 515.48L1127.65 517.08L1127.68 518.89L1127.99 520.68L1127.97 522.49L1127.65 524.73L1129.51 525.5L1130.84 527.12L1132.72 527.85L1133.67 529.3L1134.75 530.65L1136.28 531.63L1137.15 533.15L1137.65 535.78L1137.96 537.95L1138.35 540.11L1138.41 542.3L1139.85 543.4L1141.32 544.46L1142.28 545.87L1143.41 547.17L1144.11 548.75L1143.47 550.88L1141.58 552.83L1140.15 554.37L1138.41 555.54L1138.41 558.9L1137.26 560.55L1136.51 562.41L1135.88 565.57L1136.83 568.05L1137.61 569.66L1138.74 571.03L1140.05 572.26L1140.94 573.79L1142.61 574.49L1144.42 574.61L1144.23 576.81L1143.92 578.62L1143.16 580.29L1144.95 581.39L1146.36 582.92L1147.9 584.31L1148.54 587.51L1150.75 589.9M1150.75 589.9L1150.29 592.02L1149.17 593.86L1147.86 595.66L1147.27 597.8L1145.99 600.01L1145.37 602.49L1144.74 604.59L1143.47 605.59L1142.82 607.67L1141.58 609.46L1140.67 610.96L1139.76 612.45L1139.04 614.06L1138.98 615.82L1138.11 617.43L1138.32 619.24L1137.78 620.91L1138.43 622.79L1139.04 624.68L1139.68 626.18L1138.58 628.03L1137.83 630.07L1136.51 631.79L1135.59 633.76L1135.06 635.88M1150.75 589.9L1152.44 589.3L1154.23 589.35L1155.5 586.72L1156.59 585.11L1157.71 583.51L1159.36 582.98L1160.87 582.14L1163.25 582.14L1165.62 582.31L1167.16 581.41L1168.78 580.69L1170.62 580.54L1172.26 579.72L1173.42 577.89L1174.48 575.99L1176.27 574.44L1178.15 572.98L1180.17 572.98L1182.07 575.42L1183.53 576.4L1185.24 576.81L1187.43 576.28L1189.67 575.99L1190.9 577.29L1192.2 578.51L1194.73 577.05L1195.29 575.39L1195.99 573.79L1197.58 572.98L1198.84 571.58L1199.47 570.52L1201.45 569.31L1203.27 567.88L1204.09 564.99L1204.66 562.64L1204.85 560.24L1205.36 560.24M1104.56 544.55L1104.95 546.29L1105.6 547.94L1106.49 549.53L1106.77 551.3L1107.01 553.27L1107.91 555.03L1108.06 556.89L1108.69 558.69L1108.67 560.57L1110.02 562.05L1110.43 564.1L1111.77 565.57L1114.37 567.64L1113.1 569.28L1114.93 570.91L1116.26 572.98M1099.62 485.24L1099.85 487.16L1100.17 489.07L1100.05 491.02L1100.45 492.92L1100.86 494.57L1100.89 496.31L1101.72 497.86L1102.03 499.54L1102 501.72L1102.37 503.89L1102.34 506.07L1102.64 508.07L1103.22 510.01L1103.55 511.99L1103.86 513.98L1103.1 515.62L1102.03 517.08L1103.45 518.29L1104.56 519.79M1104.56 535.78L1103.61 538.4L1103.95 540.44L1104.37 542.48L1104.56 544.55M1134.42 560.57L1136.39 562.41M1161 570.93L1160.47 572.74L1160.24 574.61L1161.19 577.86L1159.66 579.38L1158.34 581.1L1157.71 583.51M1178.15 550.79L1178.15 551.3M1210.17 546.44L1210.17 548.75M1238.07 548.75L1239.05 550.43L1239.97 552.15L1242.19 554.19L1240.77 555.81L1239.66 557.64L1239.02 559.74L1240.18 562.01L1241.87 563.91L1239.66 566.4L1237.76 567.22M1242.19 554.19L1247.25 557.22M1192.2 578.51L1192.2 581.9L1194.1 584.47L1196.18 585.6L1194.72 586.86L1193.17 588.02L1191.56 589.11L1190.07 590.19L1188.32 590.87L1186.97 592.18L1185.36 593.07M1196.18 585.6L1197.89 588.31L1201.06 587.99L1202.9 587.15L1204.76 586.34L1206.75 585.92L1207.56 583.74L1208.97 581.9L1210.14 579.69L1210.86 577.29L1213.08 578.27L1214.19 576.71L1215.8 575.67L1216.92 573.97L1218.18 572.35L1219.09 570.52L1220.65 571.75L1222.38 572.73L1223.08 571.17M1211.94 567.88L1211.77 570.02L1211.88 572.16L1214.34 569.94L1216.5 568.46L1218.46 568.87L1220.04 568.21L1222.25 568.87L1223.08 571.17L1224.47 572.98L1226.01 574.07L1227.32 575.42L1225.73 577.86L1227.63 579.48L1229.74 580.89L1232.06 581.9M1233.96 590.7L1232.06 589.9L1231.67 587.91L1232.06 585.92L1231.99 583.91L1232.06 581.9L1231.43 579.48L1231.49 577L1230.8 574.61L1231.43 571.34L1233.96 569.28L1233.33 570.52L1232.61 572.54L1232.06 574.61L1232.46 577.03L1232.69 579.48L1233.63 581.1L1234.59 582.71L1234.74 584.85L1234.61 586.99L1234.28 589.11L1235.47 587.16L1236.49 585.12L1237.4 583.48L1238.39 581.9L1239.41 580.19L1239.97 578.27L1239.78 575.42L1239.02 573.26L1237.76 571.34L1236.81 568.87L1237.76 567.22M1234.78 593.47L1233.96 590.7M1237.76 567.22L1236.49 566.89L1235.29 567.88M1236.81 568.87L1237.76 570.52L1239.21 572.28L1240.92 573.79L1242.66 572.3L1244.08 570.52L1244.98 568.84L1245.98 567.22L1246.12 564.71L1246.62 562.24L1245.35 561.41L1246.62 559.74L1247.25 557.22M1246.62 560.57L1248.85 560.72L1251.05 560.32L1252.81 559.93L1254.4 559.05L1256.11 558.48L1258.17 557.57L1260.22 556.63L1257.37 555.96L1255.47 557.39L1253.56 557.31L1251.68 557.64L1249.85 557.71L1248.2 558.48L1246.62 560.57M1247.25 557.22L1248.77 557.22L1250.97 556.66L1252.94 555.54L1254.83 555.17L1256.74 554.95L1258.44 554.7L1260.16 554.52L1262.44 554.1L1263.07 551.3L1264.33 553L1264.84 553L1267.5 551.3L1267.81 552.58L1269.86 552.03L1271.93 551.56M1271.93 549.17L1270.31 549.73L1268.76 550.45L1268.13 548.75L1266.23 546.18L1266.86 543.6L1268.13 543.17L1266.86 541.27L1267.5 539.44L1268.69 538.09L1269.24 536.32L1270.34 534.91L1271.93 533.59M1248.77 557.22L1249.91 555.54L1249.46 554.69L1249.83 552.58L1249.97 550.46L1249.84 548.32L1250.43 546.34L1251.01 544.36L1251.3 542.3L1251.42 540.56L1251.58 538.83L1251.66 537.09L1251.36 535.34M1242.19 522.49L1240.26 523.32L1238.39 524.28L1236.58 525.35L1235.4 527.16L1233.52 528.14L1232.06 529.62L1231.92 531.57L1232.57 533.43L1232.69 535.34L1231.11 536.37L1229.48 537.31L1227.63 537.79L1225.56 537.21L1223.41 537.23L1221.3 536.92L1219.09 537.22L1216.83 537.25L1214.66 537.88L1215.04 539.68L1215.61 541.44L1214.31 542.75L1212.93 543.98L1211.62 545.29L1210.17 546.44L1208.64 547.4L1206.88 547.94L1205.36 548.92L1204.04 550.06L1202.22 550.26L1200.88 551.36L1199.49 552.37L1197.89 553L1195.8 553.39L1193.65 552.95L1191.56 553.42L1189.92 552.75L1188.5 551.64L1186.82 551.05M1262.44 522.4L1262.07 524.67L1261.8 526.96L1260.92 528.48L1259.94 529.93L1258.95 531.39L1257.93 533.55L1257.06 535.78L1257.16 538.05L1256.78 540.26L1256.36 542.48M1263.7 542.74L1266.86 541.27M1260.54 548.58L1263.19 548.58L1263.19 549.6L1264.84 553M1266.63 532.5L1266.56 530.25L1266.68 528L1266.3 525.77L1265.35 524.34L1264.74 522.71L1263.61 521.4L1262.27 520.39L1263.3 518.99L1264.66 517.94L1266.08 516.95L1266.87 515.32L1268.31 514.33L1269.1 512.59L1269.82 510.81L1270.32 508.95L1271.09 506.74L1272 504.58M1115.4 485.41L1114.73 487.43L1116.52 488.24L1118.08 489.45L1119.83 489.94L1121.43 490.79L1123.14 490.45L1124.71 489.78L1126.13 488.77L1127.37 490.06L1128.81 491.13L1130.39 492.3L1132.16 493.15L1134.33 493.84L1136.19 495.16L1137.93 494.08L1139.54 492.81L1141.9 493.45L1144.24 494.15L1146.65 494.36L1148.93 495.16L1147.19 495.45L1145.47 495.81L1143.93 496.78L1142.22 497.18L1140.66 498.52L1138.87 499.54L1137.44 501.03L1136.39 502.85L1134.85 504.24L1133.2 504.83L1132.08 506.27L1130.49 506.94M1130.49 506.94L1132.99 507.28L1135.52 507.27L1137.11 506.39L1138.53 505.25L1139.67 506.67L1141.22 507.61L1144.24 508.75L1146.01 509.38L1147.39 510.63L1148.93 511.64L1150.65 512.41L1152.45 512.95L1154.3 513.33L1156.35 514.06L1158.32 515.01L1159.08 517L1159.66 519.04L1160 522.41L1159.04 524.55L1157.65 526.44L1159.66 527.79L1159.33 531.15L1158.99 534.18M1168.38 534.18L1167.71 531.15L1168.21 529.15L1168.56 527.11L1169.05 525.1L1170.39 523.08L1172.19 523.46L1173.74 524.42L1172.97 522.79L1172.4 521.06L1173.94 519.54L1175.76 518.37L1177.31 516.72L1179.11 515.34L1180.68 516.4L1182.46 517.03L1184.57 517.85L1186.49 519.04L1187.7 520.6L1188.5 522.41L1188.61 524.44L1188.25 526.44L1188.16 528.46L1186.51 529.25L1185.15 530.48L1184.48 532.5L1186.94 531.99L1189.17 530.81L1191.85 532.5L1193.19 534.18L1193.28 536.73L1193.86 539.22L1193.19 540.79L1192.43 542.32L1191.85 543.93L1190.22 545.33L1188.5 546.62L1186.49 549.31L1189.17 551.33M1144.24 508.62L1145.8 507.6L1147.29 506.49L1148.93 505.59L1151.61 503.57L1153.62 501.89L1154.97 504.58L1154.35 506.95L1153.62 509.29L1154.8 507.23L1155.3 504.92L1158.32 504.24L1161 506.26L1163.01 508.95L1164.68 509.32L1166.37 509.63L1167.85 508.18L1169.72 507.27L1171.48 506.78L1173.28 506.67L1175.09 506.6L1176.9 505.98L1178.77 505.59L1177.43 507.94L1179.36 508.79L1181.46 508.95L1183.13 511.64L1184.81 513.66L1183.22 514.42L1181.44 514.48L1179.78 515.01L1178.04 514.02L1176.27 513.07L1174.42 512.32L1172.62 512.62L1170.88 513.2L1169.05 513.33L1167.08 513.99L1165.03 514.33L1163.68 512.99L1164.61 515.05L1165.7 517.03L1163.91 518.23L1162.34 519.72L1161 522.41L1160.46 524.14L1159.66 525.77M1163.01 516.35L1163.07 518.4L1162.58 520.39L1162.34 522.41L1161.67 524.37L1161.47 526.45L1161 528.46L1160.58 530.35L1160.19 532.25L1160 534.18M1159.66 529.13L1159.38 530.97L1158.5 532.65L1158.32 534.51L1158.29 536.33L1157.8 538.09L1157.65 539.9L1158.16 542.25L1158.65 544.6L1159.74 546.87L1160.33 549.31L1162.34 550.99M1168.38 529.13L1168.05 531.27L1167.04 533.17L1167.83 534.69L1168.44 536.28L1169.05 537.88L1169.24 540.25L1169.72 542.59L1168.96 544.12L1168.52 545.79L1167.71 547.3L1165.7 549.99L1164.13 550.85L1162.34 550.99M1193.19 553.01L1194.39 554.42L1195.54 555.88L1196.54 557.45L1197.89 558.73L1196.96 556.83L1195.4 555.39L1194.2 553.69M1227.4 579.58L1229.01 581.42L1230.08 583.62L1231.59 582.44L1232.76 580.93L1234.1 582.95L1235.45 584.96L1236.96 584.05L1238.24 582.86L1239.47 581.6L1238.55 583.38L1237.81 585.25L1236.79 586.98L1234.77 586.67L1232.76 586.31L1230.8 586.96L1228.74 586.98L1226.73 587.16L1224.72 587.02L1222.7 586.98L1224.72 587.63L1226.72 588.35L1228.74 589L1230.48 589.59L1232.33 589.32L1234.1 589.67L1232.59 590.59L1231.62 592.15L1230.08 593.04L1231.87 592.71L1233.66 593.09L1235.45 593.04L1233.81 594.86L1232.76 597.07L1234.74 597.63L1236.79 597.75L1237.28 599.66L1238.05 601.47L1239.07 603.19L1239.47 605.14L1238.32 603.2L1236.56 601.73L1235.45 599.76L1233.63 599.73L1231.9 599.07L1230.08 599.09L1231.62 600.24L1232.76 601.78L1231.02 601.17L1229.16 601.56L1227.4 601.11L1228.75 603.12L1230.08 605.14L1228.38 604.07L1226.51 603.34L1224.72 602.45L1225.33 604.39L1226.35 606.12L1227.4 607.83L1222.03 599.09L1222.81 600.9L1223.74 602.66L1224.08 604.63L1224.72 606.49L1222.67 606.63L1220.69 607.16L1221.25 608.89L1222.03 610.53L1220.84 612.02L1219.35 613.22M1141.55 642.48L1143.33 641.63L1144.91 640.46L1147.02 640.84L1148.93 641.8L1147.59 644.5L1145.54 644.63L1143.56 645.17L1146.25 647.19L1148.26 646.87L1150.27 646.51L1150.96 648.19L1151.61 649.88L1149.6 649.98L1147.59 649.88L1145.66 648.96L1143.56 648.53L1140.88 649.88L1142.22 652.57L1144.08 652.39L1145.82 651.74L1147.59 651.22L1149.21 651.86L1150.7 652.74L1152.03 653.9L1153.62 654.59L1152.66 653.14L1151.61 651.74L1151.44 649.86L1150.27 648.53M1204.6 677.79L1209.29 685.86L1208.45 684.37L1208.12 682.63L1206.79 681.36L1206.55 679.57L1205.6 678.13M1089.91 662.66L1091.93 662.23L1093.89 661.55L1095.95 661.31L1096.91 662.79L1098.09 664.08L1099.3 665.35L1098.62 667.43L1097.62 669.38L1099.24 670.23L1100.64 671.4M1189.84 655.26L1190.97 657.21L1191.85 659.29L1192.77 661.21L1194.31 662.74L1195.21 664.68L1195.81 666.49L1196.9 668.13L1197.22 670.06M1151.51 589.9L1150.65 591.86L1149.93 593.86L1149.13 595.91L1148.03 597.8L1146.85 600.05L1146.13 602.49L1145.5 604.59L1144.23 605.59L1143.28 607.52L1142.33 609.46L1141.53 611.01L1140.86 612.64L1139.8 614.06L1139.32 615.74L1139.07 617.46L1138.62 619.15L1138.54 620.91L1139.34 622.74L1139.8 624.68L1140.44 626.18L1139.69 628.22L1138.2 629.85L1137.27 631.79L1136.71 633.89L1135.82 635.88"/><path fill="#000" d="M1226.3 578.62L1227.19 576.01L1228.98 573.96L1230.95 571.95L1232.95 569.89L1234.53 567.45L1237.22 567.88L1238.5 569.89L1240.12 572.33L1240.46 573.74L1239.39 576.18L1239.01 580.25L1237.94 583.5L1236.71 586.37L1234.91 588.21L1234.19 590.82L1235.25 595.91L1229.71 595.91L1230.26 591.63L1228.64 588.81L1227.19 587.18L1228.64 585.13L1228.26 582.69L1226.68 579.86ZM1219.04 566.98L1234.83 566.34L1229.71 570.62L1225.02 570.19L1221.18 572.12L1219.04 570.41ZM1238.24 561.42L1242.51 561.42L1243.36 563.99L1239.95 567.41L1237.81 566.13L1240.37 563.99ZM1243.79 561.42L1249.76 561.42L1248.05 565.7L1246.35 569.98L1243.36 572.97L1242.08 571.26L1245.07 567.84L1245.49 563.99ZM1250.68 547.53L1272 547.32L1272 553.1L1269.45 554.17L1262.63 555.24L1260.92 557.37L1256.65 559.09L1251.96 560.16L1247.27 562.08L1245.35 561.23L1245.56 558.66L1247.06 555.24L1249.83 553.1ZM1256.01 559.94L1257.72 559.94L1257.08 562.94ZM1266.47 541.11L1269.45 543.25L1268.6 546.25L1272 547.32L1265.19 547.53L1266.89 545.39ZM1182.8 531.49L1184.81 530.14L1186.82 531.49L1186.49 534.18L1184.48 535.86L1182.46 534.18ZM1157.65 521.73L1161.34 519.04L1163.01 521.73L1161.67 527.12L1158.65 527.79L1156.98 525.77ZM1222.03 598.08L1226.6 601.95L1225.51 602.96ZM1220.02 606.15L1222.4 610.96L1221 611.43ZM1205.94 615.57L1212.33 618.29L1211.61 619.58ZM1201.91 620.62L1206.38 623.05L1205.49 624.23ZM1196.21 625.86L1201.47 626.77L1201.02 628.18ZM1239.47 605.48L1235.5 600.85L1236.73 600.03ZM1221.7 586.65L1228.91 587.61L1228.57 589.05ZM1103.66 643.15L1104.73 649.84L1103.26 649.91ZM1088.57 661.98L1095.42 662.6L1095.13 664.06ZM1111.04 609.18L1112.78 617.16L1111.31 617.34ZM1125.46 617.25L1118.64 616.98L1118.86 615.51ZM1144.57 538.55L1141.49 544.35L1140.27 543.51ZM1153.62 654.59L1149.62 650.35L1150.93 649.41ZM1221.18 587.1L1226.72 586.24L1226.72 587.95Z"/><path fill="#fff" d="M1225.02 569.77L1229.71 569.55L1227.15 572.12ZM1251.32 549.76L1259 550.01L1259 553.1L1251.32 552.92ZM1231.84 569.77L1232.69 569.77L1232.69 570.62L1231.84 570.62ZM1233.97 583.67L1234.83 583.67L1234.83 584.53L1233.97 584.53ZM1231.84 591.59L1232.69 591.59L1232.69 592.44L1231.84 592.44Z"/></g>
<g><circle cx="1267.5" cy="656.3" r="3.3" fill="#1aacff"/><circle cx="1269.8" cy="656.2" r="3.3" fill="#1482ff"/><circle cx="1266.2" cy="658.2" r="3.3" fill="#21ccfa"/><circle cx="1268.6" cy="658.4" r="3.3" fill="#19a5ff"/><circle cx="1270.4" cy="658.5" r="3.3" fill="#1482ff"/><circle cx="1264.3" cy="660.9" r="3.3" fill="#2edee3"/><circle cx="1267" cy="660.4" r="3.3" fill="#23cff6"/><circle cx="1269.5" cy="660.5" r="3.3" fill="#1cbaff"/><circle cx="1271.8" cy="660.3" r="3.3" fill="#189eff"/><circle cx="1262.9" cy="662.9" r="3.3" fill="#3bf0cc"/><circle cx="1265.2" cy="662.7" r="3.3" fill="#33e5da"/><circle cx="1267.5" cy="662.9" r="3.3" fill="#2bdae8"/><circle cx="1270.3" cy="662.7" r="3.3" fill="#23cff6"/><circle cx="1272.5" cy="662.8" r="3.3" fill="#1dc1ff"/><circle cx="1261.6" cy="665.3" r="3.3" fill="#4bffb4"/><circle cx="1264.2" cy="664.9" r="3.3" fill="#41f8c2"/><circle cx="1266.9" cy="665.1" r="3.3" fill="#39edd0"/><circle cx="1270" cy="665.3" r="3.3" fill="#31e2de"/><circle cx="1272.3" cy="664.8" r="3.3" fill="#29d7ec"/><circle cx="1260.3" cy="667" r="3.3" fill="#62ff9b"/><circle cx="1262.6" cy="667" r="3.3" fill="#57ffa7"/><circle cx="1265" cy="667.3" r="3.3" fill="#4cffb3"/><circle cx="1267.7" cy="667.1" r="3.3" fill="#43fbbf"/><circle cx="1269.9" cy="667.4" r="3.3" fill="#3cf2ca"/><circle cx="1272.4" cy="667" r="3.3" fill="#36e9d5"/><circle cx="1258.4" cy="669.2" r="3.3" fill="#7aff82"/><circle cx="1261.4" cy="669.5" r="3.3" fill="#6eff8e"/><circle cx="1263.8" cy="669.4" r="3.3" fill="#63ff9a"/><circle cx="1267" cy="669.6" r="3.3" fill="#58ffa6"/><circle cx="1269.8" cy="669.4" r="3.3" fill="#4dffb2"/><circle cx="1272.4" cy="669.7" r="3.3" fill="#43fbbe"/><circle cx="1258.2" cy="671.5" r="3.3" fill="#91ff69"/><circle cx="1260.9" cy="671.5" r="3.3" fill="#86ff75"/><circle cx="1263.8" cy="671.5" r="3.3" fill="#7bff81"/><circle cx="1266.6" cy="671.8" r="3.3" fill="#6fff8d"/><circle cx="1269.3" cy="671.4" r="3.3" fill="#64ff99"/><circle cx="1272.2" cy="671.4" r="3.3" fill="#59ffa5"/><circle cx="1258.2" cy="674" r="3.3" fill="#a1ff5a"/><circle cx="1260.5" cy="673.5" r="3.3" fill="#9cff5f"/><circle cx="1262.8" cy="673.9" r="3.3" fill="#96ff64"/><circle cx="1265" cy="673.7" r="3.3" fill="#8dff6e"/><circle cx="1267.6" cy="673.7" r="3.3" fill="#83ff78"/><circle cx="1269.9" cy="673.8" r="3.3" fill="#7aff82"/><circle cx="1272.6" cy="674" r="3.3" fill="#70ff8c"/><circle cx="1257.8" cy="676.2" r="3.3" fill="#afff4e"/><circle cx="1259.8" cy="676.1" r="3.3" fill="#a9ff52"/><circle cx="1262.4" cy="676" r="3.3" fill="#a4ff57"/><circle cx="1264.9" cy="676.3" r="3.3" fill="#9eff5c"/><circle cx="1267.4" cy="676" r="3.3" fill="#99ff62"/><circle cx="1269.8" cy="676" r="3.3" fill="#91ff69"/><circle cx="1272.5" cy="675.8" r="3.3" fill="#88ff73"/><circle cx="1257.5" cy="678.2" r="3.3" fill="#bcff41"/><circle cx="1259.6" cy="678.4" r="3.3" fill="#b7ff46"/><circle cx="1262" cy="678.3" r="3.3" fill="#b2ff4b"/><circle cx="1264.8" cy="678.5" r="3.3" fill="#acff50"/><circle cx="1267.1" cy="678.4" r="3.3" fill="#a6ff55"/><circle cx="1270" cy="678.3" r="3.3" fill="#a1ff5a"/><circle cx="1272.4" cy="678.1" r="3.3" fill="#9cff5f"/><circle cx="1257" cy="680.3" r="3.3" fill="#caff34"/><circle cx="1259.8" cy="680.4" r="3.3" fill="#c5ff39"/><circle cx="1262.3" cy="680.5" r="3.3" fill="#bfff3e"/><circle cx="1264.5" cy="680.4" r="3.3" fill="#baff43"/><circle cx="1267" cy="680.2" r="3.3" fill="#b4ff48"/><circle cx="1269.6" cy="680.7" r="3.3" fill="#afff4e"/><circle cx="1272.4" cy="680.3" r="3.3" fill="#a9ff52"/><circle cx="1256.8" cy="682.4" r="3.3" fill="#d1fe2e"/><circle cx="1259" cy="682.3" r="3.3" fill="#cfff30"/><circle cx="1261.7" cy="682.5" r="3.3" fill="#cdff32"/><circle cx="1264.4" cy="682.6" r="3.3" fill="#c8ff37"/><circle cx="1267" cy="682.8" r="3.3" fill="#c2ff3c"/><circle cx="1269.8" cy="682.8" r="3.3" fill="#bcff41"/><circle cx="1272.4" cy="682.6" r="3.3" fill="#b7ff46"/><circle cx="1256.6" cy="684.5" r="3.3" fill="#d6fd29"/><circle cx="1259.3" cy="685" r="3.3" fill="#d4fd2b"/><circle cx="1261.4" cy="684.5" r="3.3" fill="#d2fe2d"/><circle cx="1264.3" cy="684.7" r="3.3" fill="#d0fe2f"/><circle cx="1267.1" cy="684.7" r="3.3" fill="#ceff31"/><circle cx="1269.9" cy="684.8" r="3.3" fill="#caff34"/><circle cx="1272.3" cy="684.6" r="3.3" fill="#c5ff39"/><circle cx="1256.1" cy="686.8" r="3.3" fill="#dbfc25"/><circle cx="1258.7" cy="686.8" r="3.3" fill="#d9fc27"/><circle cx="1261.6" cy="687.1" r="3.3" fill="#d7fd28"/><circle cx="1264.2" cy="687.2" r="3.3" fill="#d5fd2a"/><circle cx="1267.1" cy="686.7" r="3.3" fill="#d3fe2c"/><circle cx="1269.7" cy="687" r="3.3" fill="#d1fe2e"/><circle cx="1272.5" cy="687" r="3.3" fill="#cfff30"/><circle cx="1256.5" cy="689.3" r="3.3" fill="#e0fb20"/><circle cx="1259.1" cy="689" r="3.3" fill="#defb22"/><circle cx="1261.6" cy="689" r="3.3" fill="#dcfc24"/><circle cx="1264.6" cy="689.2" r="3.3" fill="#dafc26"/><circle cx="1266.8" cy="689.3" r="3.3" fill="#d8fd27"/><circle cx="1269.4" cy="689.1" r="3.3" fill="#d6fd29"/><circle cx="1272.2" cy="689" r="3.3" fill="#d4fd2b"/><circle cx="1256.7" cy="691.7" r="3.3" fill="#e5f91a"/><circle cx="1259.1" cy="691.2" r="3.3" fill="#e3fa1d"/><circle cx="1262.1" cy="691.7" r="3.3" fill="#e1fb1f"/><circle cx="1264.7" cy="691.6" r="3.3" fill="#dffb21"/><circle cx="1266.9" cy="691.1" r="3.3" fill="#ddfc23"/><circle cx="1269.6" cy="691.4" r="3.3" fill="#dbfc25"/><circle cx="1272.1" cy="691.5" r="3.3" fill="#d9fc27"/><circle cx="1256.6" cy="693.9" r="3.3" fill="#edf713"/><circle cx="1259.6" cy="693.7" r="3.3" fill="#eaf816"/><circle cx="1262" cy="693.8" r="3.3" fill="#e7f919"/><circle cx="1264.9" cy="693.7" r="3.3" fill="#e4fa1c"/><circle cx="1267.2" cy="693.7" r="3.3" fill="#e2fa1e"/><circle cx="1270" cy="693.3" r="3.3" fill="#e0fb20"/><circle cx="1272.5" cy="693.4" r="3.3" fill="#defb22"/><circle cx="1257.1" cy="695.5" r="3.3" fill="#f4f40b"/><circle cx="1259.9" cy="695.8" r="3.3" fill="#f1f50e"/><circle cx="1262.3" cy="695.9" r="3.3" fill="#eef611"/><circle cx="1264.7" cy="695.7" r="3.3" fill="#ebf714"/><circle cx="1267.5" cy="695.7" r="3.3" fill="#e8f817"/><circle cx="1269.8" cy="695.8" r="3.3" fill="#e5f91a"/><circle cx="1272.2" cy="696.1" r="3.3" fill="#e3fa1d"/><circle cx="1257.6" cy="698.3" r="3.3" fill="#faf205"/><circle cx="1259.8" cy="698.1" r="3.3" fill="#f9f307"/><circle cx="1262.6" cy="698.1" r="3.3" fill="#f6f40a"/><circle cx="1265.2" cy="697.9" r="3.3" fill="#f3f50d"/><circle cx="1267.6" cy="697.9" r="3.3" fill="#f0f610"/><circle cx="1270" cy="697.8" r="3.3" fill="#edf713"/><circle cx="1272.1" cy="698" r="3.3" fill="#eaf816"/><circle cx="1257.9" cy="700.1" r="3.3" fill="#faf205"/><circle cx="1260.3" cy="700" r="3.3" fill="#faf205"/><circle cx="1262.9" cy="700.1" r="3.3" fill="#faf205"/><circle cx="1265.1" cy="700" r="3.3" fill="#faf205"/><circle cx="1267.6" cy="699.9" r="3.3" fill="#f7f308"/><circle cx="1270.2" cy="700.1" r="3.3" fill="#f4f40b"/><circle cx="1272.5" cy="700.3" r="3.3" fill="#f1f50e"/></g>
<text class="b tk" y="464.9"><tspan x="1058.9">100</tspan><tspan x="1096.5">W</tspan></text><text class="dg" transform="translate(1085.93 457.9) scale(1.23 0.89)">°</text>
<text class="b tk" y="464.9"><tspan x="1128.1">90</tspan><tspan x="1157.4">W</tspan></text><text class="dg" transform="translate(1145.93 457.9) scale(1.23 0.89)">°</text>
<text class="b tk" y="464.9"><tspan x="1192.3">80</tspan><tspan x="1221.3">W</tspan></text><text class="dg" transform="translate(1210.93 457.9) scale(1.23 0.89)">°</text>
<text class="b tk" y="464.9"><tspan x="1255.4">70</tspan><tspan x="1284.6">W</tspan></text><text class="dg" transform="translate(1272.93 457.9) scale(1.23 0.89)">°</text>
<text class="b tk" y="501.7"><tspan x="988.2">48</tspan><tspan x="1016.9">N</tspan></text><text class="dg" transform="translate(1005.93 493.7) scale(1.23 0.89)">°</text>
<text class="b tk" y="520.7"><tspan x="988.2">46</tspan><tspan x="1016.9">N</tspan></text><text class="dg" transform="translate(1005.93 512.7) scale(1.23 0.89)">°</text>
<text class="b tk" y="537.1"><tspan x="988.2">44</tspan><tspan x="1016.9">N</tspan></text><text class="dg" transform="translate(1005.93 529.1) scale(1.23 0.89)">°</text>
<text class="b tk" y="555.4"><tspan x="988.2">42</tspan><tspan x="1016.9">N</tspan></text><text class="dg" transform="translate(1005.93 547.4) scale(1.23 0.89)">°</text>
<text class="b tk" y="572.7"><tspan x="988.2">40</tspan><tspan x="1016.9">N</tspan></text><text class="dg" transform="translate(1005.93 564.7) scale(1.23 0.89)">°</text>
<text class="b tk" y="587.7"><tspan x="988.2">38</tspan><tspan x="1016.9">N</tspan></text><text class="dg" transform="translate(1005.93 579.7) scale(1.23 0.89)">°</text>
<text class="b tk" y="603.7"><tspan x="988.2">36</tspan><tspan x="1016.9">N</tspan></text><text class="dg" transform="translate(1005.93 595.7) scale(1.23 0.89)">°</text>
<text class="b tk" y="618.7"><tspan x="988.2">34</tspan><tspan x="1016.9">N</tspan></text><text class="dg" transform="translate(1005.93 610.7) scale(1.23 0.89)">°</text>
<text class="b tk" y="634.7"><tspan x="988.2">32</tspan><tspan x="1016.9">N</tspan></text><text class="dg" transform="translate(1005.93 626.7) scale(1.23 0.89)">°</text>
<text class="b tk" y="649.7"><tspan x="988.2">30</tspan><tspan x="1016.9">N</tspan></text><text class="dg" transform="translate(1005.93 641.7) scale(1.23 0.89)">°</text>
<text class="b tk" y="664.3"><tspan x="988.2">28</tspan><tspan x="1016.9">N</tspan></text><text class="dg" transform="translate(1005.93 656.3) scale(1.23 0.89)">°</text>
<text class="b tk" y="678.3"><tspan x="988.2">26</tspan><tspan x="1016.9">N</tspan></text><text class="dg" transform="translate(1005.93 670.3) scale(1.23 0.89)">°</text>
<text class="b tk" y="691.3"><tspan x="988.2">24</tspan><tspan x="1016.9">N</tspan></text><text class="dg" transform="translate(1005.93 683.3) scale(1.23 0.89)">°</text>
<text class="b tk" y="706"><tspan x="988.2">22</tspan><tspan x="1016.9">N</tspan></text><text class="dg" transform="translate(1005.93 698) scale(1.23 0.89)">°</text>
<rect x="1285" y="485" width="24" height="215.5" fill="url(#jet)"/>
<path d="M1285.5 485V700.5M1308.5 485V700.5M1285 485.5H1309M1285 700H1309" fill="none" stroke="#000" stroke-opacity="0.8" stroke-width="1"/>
<path d="M1309 541.08h-2.2" stroke="#000" stroke-opacity="0.7" stroke-width="0.7"/><text class="b cb" x="1316.8" y="549.08">300</text>
<path d="M1309 608.01h-2.2" stroke="#000" stroke-opacity="0.7" stroke-width="0.7"/><text class="b cb" x="1316.8" y="616.01">295</text>
<path d="M1309 674.93h-2.2" stroke="#000" stroke-opacity="0.7" stroke-width="0.7"/><text class="b cb" x="1316.8" y="682.93">290</text>
<text class="b xl" x="1151.1" y="732.2" text-anchor="middle">Surface Skin Temperature (K)</text>
</g>
</svg>
</body></html>
